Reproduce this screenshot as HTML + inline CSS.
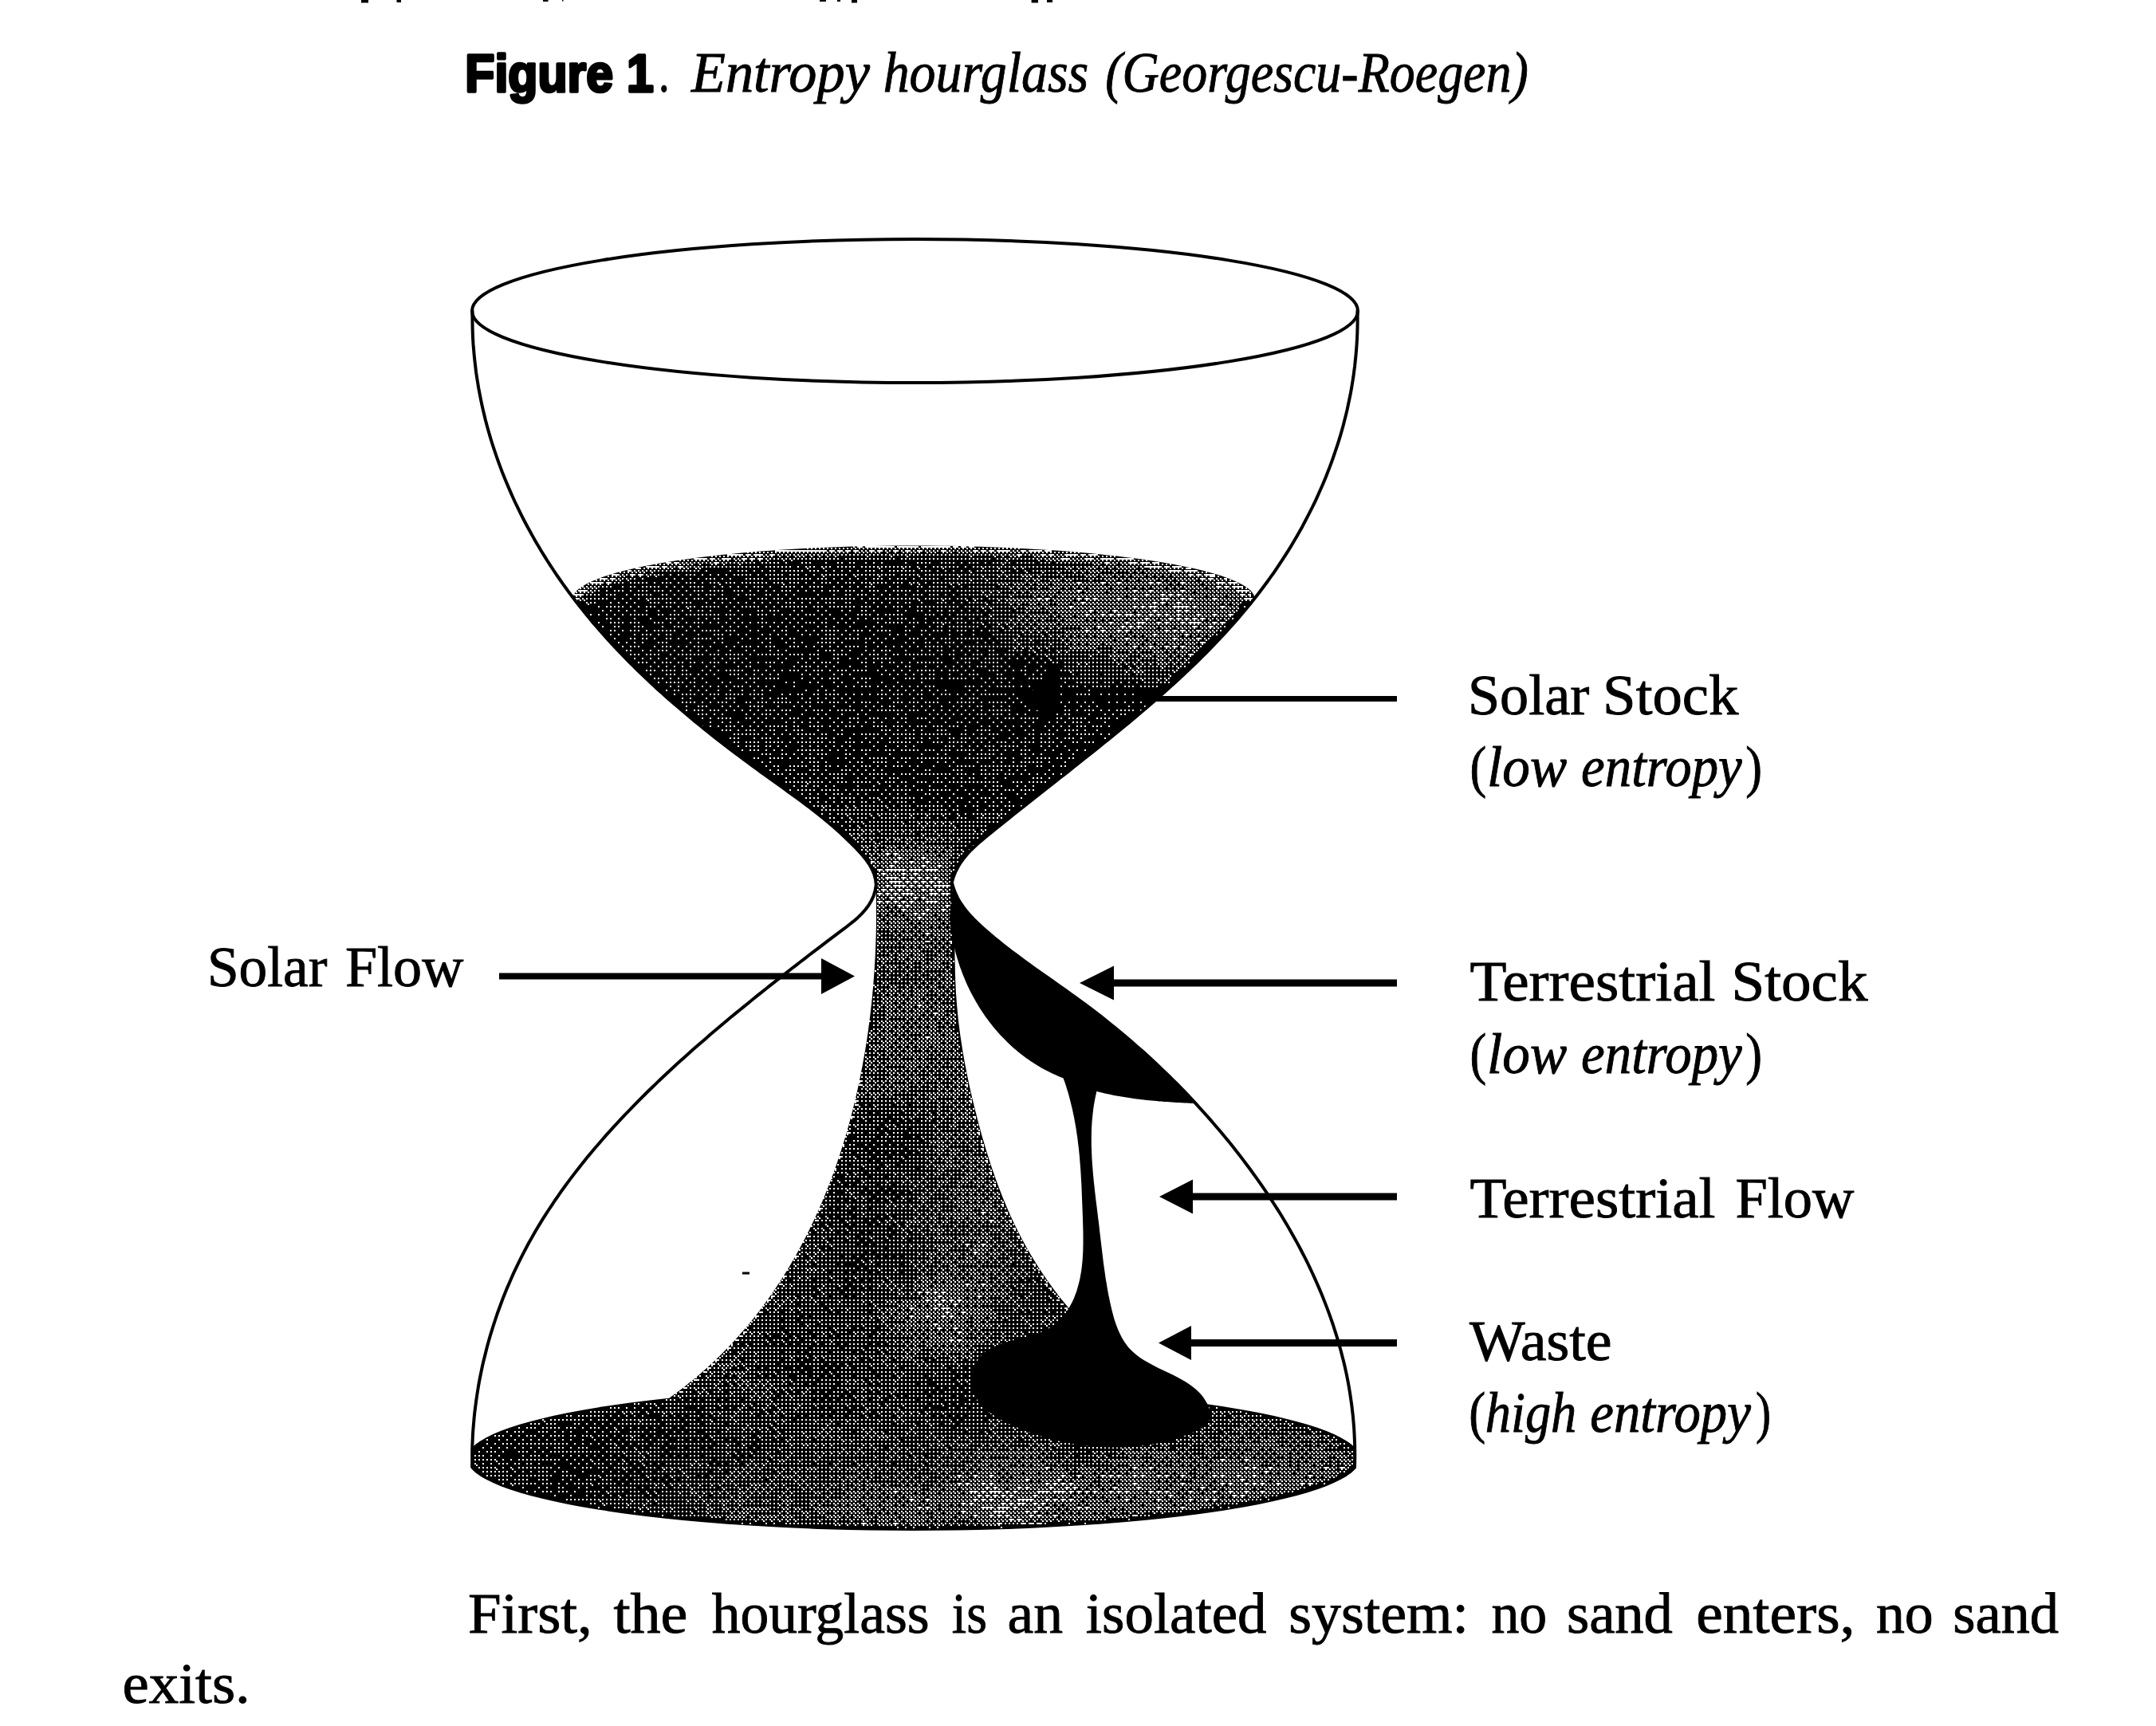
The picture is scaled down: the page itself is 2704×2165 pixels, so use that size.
<!DOCTYPE html><html><head><meta charset="utf-8"><title>Entropy hourglass</title><style>html,body{margin:0;padding:0;background:#fff}svg{display:block}text{fill:#000;white-space:pre}</style></head><body>
<svg width="2704" height="2165" viewBox="0 0 2704 2165">
<rect width="2704" height="2165" fill="#fff"/>
<clipPath id="g"><path d="M592.5 390 592.4 397 592.5 404 592.6 410.9 592.8 417.9 593.1 424.8 593.5 431.7 594.1 438.7 594.7 445.6 595.4 452.4 596.2 459.3 597 466.2 598 473 599.1 479.8 600.2 486.6 601.5 493.4 602.8 500.2 604.2 506.9 605.7 513.6 607.3 520.3 608.9 527 610.7 533.7 612.5 540.3 614.4 546.9 616.4 553.5 618.5 560.1 620.7 566.6 622.9 573.1 625.2 579.6 627.6 586.1 630 592.5 632.6 598.9 635.2 605.3 637.9 611.6 640.6 617.9 643.4 624.2 646.3 630.5 649.3 636.7 652.3 642.9 655.4 649.1 658.6 655.2 661.8 661.3 665.1 667.3 668.5 673.4 671.9 679.4 675.4 685.3 678.9 691.2 682.6 697.1 686.2 703 690 708.8 693.7 714.5 697.6 720.3 701.5 726 705.4 731.6 709.5 737.2 713.5 742.8 717.6 748.3 721.8 753.8 726 759.2 730.3 764.6 734.6 770 739 775.3 743.4 780.6 747.9 785.8 752.4 791 757 796.2 761.6 801.3 766.2 806.4 770.9 811.4 775.6 816.4 780.4 821.4 785.2 826.4 790.1 831.3 795 836.1 799.9 841 804.9 845.8 809.9 850.6 814.9 855.3 819.9 860 825 864.7 830.2 869.3 835.3 873.9 840.5 878.5 845.7 883.1 851 887.6 856.3 892.1 861.6 896.6 866.9 901 872.2 905.5 877.6 909.8 883 914.2 888.4 918.5 893.9 922.9 899.3 927.1 904.8 931.4 910.3 935.7 915.8 939.9 921.4 944.1 926.9 948.2 932.5 952.4 938 956.5 943.6 960.6 949.2 964.7 954.8 968.8 960.5 972.8 966.1 976.9 971.7 980.9 977.3 984.9 982.9 989 988.5 993 994.1 997.1 999.7 1001.1 1005.2 1005.2 1010.7 1009.4 1016.2 1013.5 1021.6 1017.7 1027 1022 1032.3 1026.3 1037.6 1030.6 1042.8 1035.1 1048 1039.5 1053.1 1044.1 1058.1 1048.7 1063.1 1053.5 1068 1058.3 1072.8 1063.2 1077.5 1068.2 1082 1073.3 1086.3 1078.6 1090.2 1084.1 1093.5 1090 1096.2 1096.2 1098 1102.9 1098.8 1110 1098.8 1110 1097.6 1117.2 1095.6 1123.8 1092.8 1129.9 1089.3 1135.7 1085.3 1141 1080.8 1146.1 1075.9 1150.9 1070.7 1155.4 1065.2 1159.8 1059.6 1164.2 1053.9 1168.4 1048.3 1172.6 1042.6 1176.9 1037 1181.1 1031.5 1185.3 1025.9 1189.6 1020.3 1193.8 1014.8 1198 1009.3 1202.3 1003.8 1206.5 998.3 1210.8 992.8 1215 987.3 1219.3 981.9 1223.6 976.4 1227.8 971 1232.1 965.5 1236.4 960.1 1240.8 954.6 1245.1 949.2 1249.4 943.8 1253.8 938.4 1258.2 933 1262.6 927.6 1267 922.2 1271.4 916.8 1275.8 911.5 1280.3 906.1 1284.8 900.8 1289.3 895.4 1293.8 890.1 1298.3 884.9 1302.9 879.6 1307.4 874.3 1312 869.1 1316.6 863.9 1321.3 858.7 1325.9 853.5 1330.6 848.3 1335.3 843.2 1340 838.1 1344.7 833 1349.5 827.9 1354.3 822.9 1359.1 817.9 1364 812.9 1368.8 807.9 1373.7 803 1378.7 798.1 1383.6 793.2 1388.6 788.4 1393.6 783.5 1398.6 778.8 1403.7 774 1408.8 769.3 1413.9 764.6 1419.1 760 1424.2 755.4 1429.5 750.9 1434.7 746.3 1440 741.9 1445.3 737.4 1450.6 733.1 1456 728.7 1461.4 724.4 1466.9 720.2 1472.4 716 1477.9 711.9 1483.4 707.8 1489 703.7 1494.6 699.8 1500.3 695.8 1506 692 1511.8 688.2 1517.5 684.4 1523.4 680.7 1529.2 677.1 1535.1 673.5 1541 670 1547 666.6 1553.1 663.2 1559.1 659.9 1565.2 656.7 1571.4 653.5 1577.6 650.4 1583.8 647.4 1590.1 644.4 1596.4 641.6 1602.8 638.8 1609.2 636 1615.6 633.4 1622.1 630.8 1628.6 628.3 1635.2 625.9 1641.7 623.5 1648.3 621.3 1655 619.1 1661.6 617 1668.3 614.9 1675.1 613 1681.8 611.1 1688.6 609.4 1695.4 607.7 1702.2 606 1709 604.5 1715.8 603.1 1722.7 601.7 1729.5 600.4 1736.4 599.3 1743.3 598.2 1750.2 597.2 1757.1 596.3 1764 595.4 1770.9 594.7 1777.8 594.1 1784.8 593.5 1791.7 593 1798.6 592.7 1805.5 592.4 1812.4 592.2 1819.3 592.2 1826.2 592.2 1833.1 592.3 1840 590.3 1836 590.3 1935 1701 1935 1701 1836 1699 1840 1699.2 1832.9 1699.3 1825.8 1699.2 1818.7 1699.1 1811.6 1698.8 1804.6 1698.5 1797.6 1698.1 1790.6 1697.5 1783.6 1696.9 1776.6 1696.1 1769.7 1695.3 1762.7 1694.3 1755.8 1693.3 1748.9 1692.2 1742.1 1691 1735.2 1689.7 1728.4 1688.3 1721.6 1686.8 1714.8 1685.2 1708.1 1683.5 1701.4 1681.8 1694.7 1679.9 1688 1678 1681.3 1676 1674.7 1673.9 1668.1 1671.8 1661.5 1669.5 1654.9 1667.2 1648.4 1664.8 1641.9 1662.3 1635.4 1659.8 1628.9 1657.2 1622.5 1654.5 1616.1 1651.7 1609.7 1648.9 1603.3 1646 1597 1643 1590.7 1640 1584.4 1636.9 1578.2 1633.7 1572 1630.5 1565.8 1627.2 1559.6 1623.8 1553.5 1620.4 1547.4 1616.9 1541.3 1613.4 1535.3 1609.8 1529.3 1606.2 1523.3 1602.5 1517.4 1598.7 1511.5 1594.9 1505.6 1591 1499.7 1587.1 1493.9 1583.2 1488.1 1579.2 1482.4 1575.1 1476.6 1571 1471 1566.9 1465.3 1562.7 1459.7 1558.5 1454.1 1554.2 1448.5 1549.9 1443 1545.6 1437.5 1541.2 1432.1 1536.8 1426.7 1532.3 1421.3 1527.8 1416 1523.3 1410.7 1518.7 1405.4 1514.1 1400.2 1509.5 1395 1504.8 1389.8 1500.1 1384.7 1495.4 1379.6 1490.6 1374.5 1485.8 1369.5 1480.9 1364.5 1476.1 1359.5 1471.1 1354.6 1466.2 1349.7 1461.2 1344.9 1456.2 1340.1 1451.1 1335.3 1446 1330.5 1440.9 1325.8 1435.8 1321.1 1430.6 1316.5 1425.3 1311.9 1420.1 1307.3 1414.8 1302.8 1409.5 1298.3 1404.1 1293.8 1398.7 1289.4 1393.3 1285 1387.8 1280.6 1382.3 1276.2 1376.8 1271.9 1371.3 1267.7 1365.7 1263.4 1360 1259.2 1354.4 1255.1 1348.7 1250.9 1343 1246.8 1337.3 1242.7 1331.5 1238.7 1325.8 1234.6 1320 1230.5 1314.3 1226.5 1308.5 1222.4 1302.8 1218.4 1297 1214.3 1291.3 1210.2 1285.7 1206.1 1280 1201.9 1274.4 1197.7 1268.8 1193.5 1263.3 1189.3 1257.8 1185 1252.4 1180.6 1247 1176.2 1241.8 1171.7 1236.5 1167.2 1231.4 1162.6 1226.3 1157.9 1221.4 1153.1 1216.7 1148.2 1212.3 1143.1 1208.2 1137.7 1204.4 1132.2 1201 1126.4 1198.1 1120.2 1195.7 1113.8 1193.8 1107 1193.8 1107 1195.7 1100.2 1198.2 1093.8 1201.3 1087.8 1204.8 1082 1208.7 1076.6 1213 1071.5 1217.6 1066.5 1222.5 1061.8 1227.6 1057.1 1232.9 1052.7 1238.2 1048.2 1243.6 1043.9 1249 1039.5 1254.4 1035.2 1259.7 1030.9 1265.1 1026.6 1270.5 1022.3 1275.9 1018 1281.3 1013.7 1286.7 1009.5 1292.1 1005.2 1297.4 1001 1302.8 996.7 1308.2 992.5 1313.6 988.2 1319 984 1324.4 979.8 1329.7 975.5 1335.1 971.3 1340.5 967.1 1345.9 962.8 1351.3 958.5 1356.6 954.3 1362 950 1367.4 945.7 1372.8 941.4 1378.1 937.1 1383.5 932.8 1388.9 928.5 1394.2 924.1 1399.6 919.8 1404.9 915.4 1410.3 911 1415.6 906.6 1420.9 902.2 1426.2 897.7 1431.5 893.2 1436.8 888.8 1442 884.2 1447.3 879.7 1452.5 875.2 1457.7 870.6 1462.8 866 1468 861.4 1473.1 856.7 1478.2 852 1483.3 847.3 1488.3 842.6 1493.3 837.8 1498.3 833.1 1503.2 828.2 1508.1 823.4 1513 818.5 1517.8 813.6 1522.6 808.6 1527.4 803.7 1532.1 798.7 1536.8 793.6 1541.4 788.5 1546 783.4 1550.6 778.2 1555.1 773 1559.5 767.8 1563.9 762.5 1568.3 757.2 1572.6 751.8 1576.8 746.4 1581 741 1585.1 735.5 1589.2 730 1593.2 724.4 1597.2 718.8 1601.1 713.1 1604.9 707.4 1608.7 701.7 1612.4 695.9 1616.1 690.1 1619.7 684.2 1623.2 678.3 1626.6 672.4 1630 666.4 1633.4 660.4 1636.6 654.3 1639.8 648.2 1642.9 642.1 1646 636 1649 629.8 1651.9 623.6 1654.7 617.3 1657.5 611 1660.2 604.7 1662.8 598.4 1665.3 592 1667.8 585.6 1670.2 579.1 1672.5 572.7 1674.7 566.2 1676.9 559.7 1679 553.1 1681 546.6 1682.9 540 1684.7 533.4 1686.4 526.7 1688.1 520.1 1689.7 513.4 1691.1 506.7 1692.5 500 1693.9 493.2 1695.1 486.5 1696.2 479.7 1697.3 472.9 1698.2 466 1699.1 459.2 1699.8 452.3 1700.5 445.5 1701.1 438.6 1701.6 431.7 1702 424.8 1702.3 417.8 1702.5 410.9 1702.6 403.9 1702.6 397 1702.5 390Z"/></clipPath>
<g fill="#000" clip-path="url(#g)">
<path d="M718.5 751 718.7 748.9 719.4 746.8 720.4 744.7 721.9 742.6 723.8 740.5 726.1 738.5 728.9 736.4 732.1 734.4 735.6 732.4 739.6 730.4 744 728.4 748.8 726.4 754 724.5 759.6 722.6 765.6 720.7 771.9 718.8 778.6 717 785.7 715.2 793.1 713.5 800.9 711.7 809.1 710.1 817.6 708.4 826.4 706.8 835.5 705.3 844.9 703.8 854.6 702.3 864.7 700.9 875 699.6 885.5 698.3 896.4 697 907.4 695.8 918.8 694.7 930.3 693.6 942.1 692.6 954 691.6 966.2 690.7 978.5 689.8 991 689 1003.7 688.3 1016.5 687.6 1029.4 687 1042.4 686.5 1055.6 686 1068.8 685.6 1082.1 685.2 1095.5 685 1108.9 684.8 1122.4 684.6 1135.9 684.5 1149.4 684.5 1162.9 684.6 1176.3 684.7 1189.8 684.8 1203.2 685.1 1216.5 685.4 1229.8 685.8 1243 686.2 1256.1 686.7 1269.1 687.3 1281.9 688 1294.7 688.7 1307.3 689.4 1319.7 690.2 1331.9 691.1 1344 692.1 1355.8 693.1 1367.5 694.1 1378.9 695.2 1390.1 696.4 1401.1 697.6 1411.8 698.9 1422.2 700.2 1432.4 701.6 1442.3 703.1 1451.8 704.5 1461.1 706.1 1470.1 707.6 1478.7 709.2 1487 710.9 1495 712.6 1502.6 714.3 1509.9 716.1 1516.8 717.9 1523.3 719.7 1529.5 721.6 1535.2 723.5 1540.6 725.4 1545.6 727.4 1550.2 729.4 1554.4 731.4 1558.2 733.4 1561.6 735.4 1564.5 737.4 1567.1 739.5 1569.2 741.6 1570.9 743.7 1572.2 745.8 1573 747.9 1573.4 750 1572.6 751.8 1569.7 755.4 1566.8 759 1563.9 762.5 1561 766 1558 769.5 1555.1 773 1552.1 776.5 1549.1 780 1546 783.4 1543 786.8 1539.9 790.2 1536.8 793.6 1533.7 797 1530.6 800.3 1527.4 803.7 1524.2 807 1521 810.3 1517.8 813.6 1514.6 816.9 1511.4 820.1 1508.1 823.4 1504.9 826.6 1501.6 829.8 1498.3 833.1 1495 836.3 1491.6 839.4 1488.3 842.6 1484.9 845.8 1481.6 848.9 1478.2 852 1474.8 855.2 1471.4 858.3 1468 861.4 1464.5 864.5 1461.1 867.5 1457.7 870.6 1454.2 873.6 1450.7 876.7 1447.3 879.7 1443.8 882.7 1440.3 885.8 1436.8 888.8 1433.3 891.8 1429.7 894.7 1426.2 897.7 1422.7 900.7 1419.1 903.6 1415.6 906.6 1412.1 909.5 1408.5 912.5 1404.9 915.4 1401.4 918.3 1397.8 921.2 1394.2 924.1 1390.7 927 1387.1 929.9 1383.5 932.8 1379.9 935.7 1376.3 938.6 1372.8 941.4 1369.2 944.3 1365.6 947.2 1362 950 1358.4 952.9 1354.8 955.7 1351.3 958.5 1347.7 961.4 1344.1 964.2 1340.5 967.1 1336.9 969.9 1333.3 972.7 1329.7 975.5 1326.1 978.4 1322.6 981.2 1319 984 1315.4 986.8 1311.8 989.7 1308.2 992.5 1304.6 995.3 1301 998.1 1297.4 1001 1293.9 1003.8 1290.3 1006.6 1286.7 1009.5 1283.1 1012.3 1279.5 1015.2 1275.9 1018 1272.3 1020.9 1268.7 1023.7 1265.1 1026.6 1261.5 1029.4 1258 1032.3 1254.4 1035.2 1250.8 1038.1 1247.2 1041 1243.6 1043.9 1240 1046.8 1236.4 1049.7 1232.9 1052.7 1229.4 1055.6 1225.9 1058.7 1222.5 1061.8 1219.2 1064.9 1216.1 1068.1 1213 1071.5 1210.1 1074.9 1207.3 1078.4 1204.8 1082 1202.4 1085.8 1200.2 1089.7 1198.2 1093.8 1196.5 1098 1195 1102.4 1193.8 1107 1098.6 1107.6 1098 1102.9 1096.9 1098.4 1095.4 1094.1 1093.5 1090 1091.4 1086 1089 1082.2 1086.3 1078.6 1083.5 1075 1080.5 1071.6 1077.5 1068.2 1074.4 1064.8 1071.2 1061.5 1068 1058.3 1064.7 1055 1061.5 1051.9 1058.1 1048.7 1054.8 1045.6 1051.4 1042.6 1048 1039.5 1044.6 1036.6 1041.1 1033.6 1037.6 1030.6 1034.1 1027.7 1030.6 1024.8 1027 1022 1023.4 1019.1 1019.8 1016.3 1016.2 1013.5 1012.5 1010.8 1008.9 1008 1005.2 1005.2 1001.5 1002.5 997.8 999.8 994.1 997.1 990.4 994.4 986.7 991.7 982.9 989 979.2 986.3 975.5 983.6 971.7 980.9 968 978.2 964.2 975.5 960.5 972.8 956.7 970.1 953 967.4 949.2 964.7 945.5 962 941.8 959.3 938 956.5 934.3 953.8 930.6 951 926.9 948.2 923.2 945.5 919.5 942.7 915.8 939.9 912.1 937.1 908.5 934.2 904.8 931.4 901.2 928.6 897.5 925.7 893.9 922.9 890.2 920 886.6 917.1 883 914.2 879.4 911.3 875.8 908.4 872.2 905.5 868.7 902.5 865.1 899.6 861.6 896.6 858 893.6 854.5 890.6 851 887.6 847.5 884.6 844 881.6 840.5 878.5 837.1 875.5 833.6 872.4 830.2 869.3 826.8 866.2 823.3 863.1 819.9 860 816.6 856.9 813.2 853.7 809.9 850.6 806.5 847.4 803.2 844.2 799.9 841 796.6 837.8 793.3 834.5 790.1 831.3 786.8 828 783.6 824.7 780.4 821.4 777.2 818.1 774.1 814.8 770.9 811.4 767.8 808.1 764.7 804.7 761.6 801.3 758.5 797.9 755.5 794.4 752.4 791 749.4 787.5 746.4 784.1 743.4 780.6 740.5 777 737.6 773.5 734.6 770 731.8 766.4 728.9 762.8 726 759.2 723.2 755.6 720.4 751.9Z"/>
<path d="M1098.5 1110 1098.6 1114.7 1098.7 1119.5 1098.8 1124.2 1098.9 1129 1099 1133.7 1099 1138.5 1099 1143.3 1099 1148 1099 1152.8 1098.9 1157.6 1098.9 1162.4 1098.8 1167.2 1098.7 1172 1098.5 1176.8 1098.4 1181.7 1098.2 1186.5 1098 1191.3 1097.8 1196.1 1097.6 1201 1097.3 1205.8 1097 1210.7 1096.7 1215.5 1096.4 1220.3 1096 1225.2 1095.7 1230 1095.3 1234.9 1094.9 1239.8 1094.4 1244.6 1094 1249.5 1093.5 1254.3 1093 1259.2 1092.4 1264 1091.9 1268.9 1091.3 1273.7 1090.7 1278.6 1090.1 1283.4 1089.4 1288.3 1088.8 1293.2 1088.1 1298 1087.4 1302.8 1086.6 1307.7 1085.9 1312.5 1085.1 1317.4 1084.2 1322.2 1083.4 1327 1082.5 1331.8 1081.7 1336.7 1080.7 1341.5 1079.8 1346.3 1078.8 1351.1 1077.8 1355.9 1076.8 1360.7 1075.8 1365.5 1074.7 1370.3 1073.6 1375 1072.5 1379.8 1071.4 1384.6 1070.2 1389.3 1069 1394.1 1067.8 1398.8 1066.5 1403.5 1065.3 1408.3 1064 1413 1062.6 1417.7 1061.3 1422.4 1059.9 1427 1058.5 1431.7 1057 1436.4 1055.6 1441 1054.1 1445.7 1052.6 1450.3 1051 1454.9 1049.5 1459.5 1047.9 1464.1 1046.2 1468.7 1044.6 1473.3 1042.9 1477.8 1041.2 1482.4 1039.4 1486.9 1037.6 1491.4 1035.8 1495.9 1034 1500.4 1032.2 1504.9 1030.3 1509.3 1028.3 1513.8 1026.4 1518.2 1024.4 1522.6 1022.4 1527 1020.4 1531.4 1018.3 1535.8 1016.2 1540.1 1014.1 1544.4 1011.9 1548.7 1009.8 1553 1007.5 1557.3 1005.3 1561.6 1003 1565.8 1000.7 1570 998.4 1574.2 996 1578.4 993.6 1582.6 991.2 1586.7 988.7 1590.8 986.2 1594.9 983.7 1599 981.1 1603.1 978.5 1607.1 975.9 1611.1 973.3 1615.1 970.6 1619.1 967.9 1623 965.1 1626.9 962.3 1630.8 959.5 1634.7 956.7 1638.6 953.8 1642.4 950.9 1646.2 947.9 1650 945 1653.7 942 1657.5 938.9 1661.2 935.8 1664.9 932.7 1668.5 929.6 1672.1 926.4 1675.7 923.2 1679.3 919.9 1682.9 916.6 1686.4 913.3 1689.9 910 1693.3 906.6 1696.8 903.2 1700.2 899.7 1703.5 896.2 1706.9 892.7 1710.2 889.1 1713.5 885.6 1716.7 881.9 1720 878.3 1723.2 874.6 1726.3 870.8 1729.5 867 1732.6 863.2 1735.6 859.4 1738.7 855.5 1741.7 851.6 1744.7 847.6 1747.6 843.7 1750.5 839.6 1753.4 840 1840 1520 1764 1514.9 1762.3 1509.9 1760.5 1504.8 1758.7 1499.9 1756.8 1494.9 1754.8 1490 1752.8 1485.2 1750.7 1480.4 1748.5 1475.6 1746.3 1470.8 1744 1466.1 1741.6 1461.5 1739.2 1456.9 1736.7 1452.3 1734.2 1447.7 1731.6 1443.2 1728.9 1438.8 1726.2 1434.3 1723.4 1430 1720.6 1425.6 1717.7 1421.3 1714.8 1417.1 1711.8 1412.8 1708.7 1408.7 1705.6 1404.5 1702.4 1400.4 1699.2 1396.4 1695.9 1392.3 1692.6 1388.4 1689.2 1384.4 1685.7 1380.5 1682.2 1376.7 1678.7 1372.8 1675.1 1369.1 1671.5 1365.3 1667.8 1361.6 1664.1 1358 1660.3 1354.4 1656.4 1350.8 1652.6 1347.3 1648.7 1343.8 1644.7 1340.3 1640.7 1336.9 1636.6 1333.5 1632.5 1330.2 1628.4 1326.9 1624.2 1323.7 1620 1320.5 1615.8 1317.4 1611.5 1314.3 1607.2 1311.3 1602.8 1308.3 1598.4 1305.3 1594 1302.4 1589.6 1299.6 1585.1 1296.8 1580.6 1294.1 1576.1 1291.4 1571.6 1288.8 1567 1286.2 1562.4 1283.7 1557.8 1281.2 1553.2 1278.8 1548.5 1276.4 1543.8 1274.1 1539.2 1271.8 1534.4 1269.6 1529.7 1267.4 1525 1265.3 1520.2 1263.2 1515.4 1261.2 1510.6 1259.2 1505.8 1257.2 1501 1255.3 1496.1 1253.4 1491.2 1251.6 1486.4 1249.8 1481.5 1248 1476.5 1246.3 1471.6 1244.6 1466.7 1242.9 1461.7 1241.3 1456.8 1239.7 1451.8 1238.1 1446.8 1236.6 1441.8 1235.1 1436.8 1233.6 1431.7 1232.1 1426.7 1230.7 1421.7 1229.3 1416.6 1227.9 1411.5 1226.6 1406.5 1225.3 1401.4 1224 1396.3 1222.7 1391.2 1221.4 1386.1 1220.2 1381 1219 1375.9 1217.8 1370.7 1216.6 1365.6 1215.5 1360.5 1214.4 1355.3 1213.3 1350.2 1212.3 1345 1211.3 1339.8 1210.3 1334.7 1209.3 1329.5 1208.4 1324.3 1207.5 1319.1 1206.7 1313.9 1205.9 1308.7 1205.1 1303.5 1204.3 1298.3 1203.6 1293.1 1203 1287.9 1202.3 1282.7 1201.7 1277.5 1201.2 1272.3 1200.7 1267 1200.2 1261.8 1199.8 1256.6 1199.4 1251.3 1199 1246.1 1198.7 1240.9 1198.5 1235.6 1198.2 1230.4 1198.1 1225.1 1197.9 1219.9 1197.8 1214.6 1197.7 1209.4 1197.6 1204.1 1197.5 1198.9 1197.5 1193.6 1197.4 1188.4 1197.3 1183.1 1197.3 1177.9 1197.2 1172.6 1197.1 1167.4 1197 1162.1 1196.9 1156.8 1196.8 1151.6 1196.6 1146.3 1196.4 1141.1 1196.1 1135.8 1195.8 1130.6 1195.5 1125.3 1195.1 1120.1 1194.6 1114.9 1194.1 1109.6Z"/>
<rect x="1100" y="1098" width="93" height="20"/>
<ellipse cx="1145.7" cy="1829.5" rx="560" ry="90.5"/>
</g>
<path shape-rendering="crispEdges" fill="none" stroke="#fff" stroke-width="2" d="M1070 686h2m3 0h7m3 0h37m3 0h27m3 0h37m3 0h7m3 0h7m3 0h7M1012 688h2m3 0h2m3 0h2m3 0h2m3 0h2m3 0h2m3 0h2m3 0h2m3 0h2m3 0h2m3 0h2m3 0h2m3 0h2m3 0h2m3 0h2m3 0h2m3 0h2m3 0h2m3 0h2m3 0h2m3 0h2m3 0h2m3 0h2m3 0h2m3 0h2m3 0h2m3 0h2m3 0h2m3 0h2m3 0h2m3 0h2m3 0h2m3 0h2m3 0h2m3 0h2m3 0h2m3 0h2m3 0h2m3 0h2m3 0h2m3 0h2m3 0h2m3 0h2m3 0h2m3 0h2m3 0h2m3 0h2m3 0h2m3 0h2m3 0h2m3 0h2m3 0h2m3 0h2m3 0h2M972 691h65m3 0h7m3 0h7m3 0h7m3 0h7m3 0h2m3 0h2m3 0h7m3 0h7m3 0h2m3 0h2m3 0h7m3 0h2m3 0h7m3 0h2m3 0h7m3 0h2m3 0h2m3 0h2m3 0h2m3 0h7m3 0h2m3 0h2m3 0h2m3 0h2m3 0h2m3 0h2m3 0h7m3 0h7m3 0h7m3 0h17m3 0h2m3 0h2m3 0h7m3 0h17m3 0h9M937 693h2m3 0h2m3 0h2m3 0h2m3 0h2m3 0h2m3 0h2m3 0h2m3 0h2m3 0h2m3 0h2m3 0h2m3 0h2m3 0h2m3 0h2m3 0h2m3 0h2m3 0h2m3 0h2m3 0h2m3 0h2m3 0h2m3 0h2m3 0h2m3 0h2m3 0h2m8 0h2m3 0h2m3 0h2m3 0h2m3 0h2m3 0h2m3 0h2m8 0h2m8 0h2m8 0h2m3 0h2m3 0h2m3 0h2m3 0h2m8 0h2m3 0h2m3 0h2m8 0h2m3 0h2m3 0h2m8 0h2m3 0h2m3 0h2m3 0h2m3 0h2m3 0h2m3 0h2m3 0h2m3 0h2m3 0h2m3 0h2m3 0h2m3 0h2m3 0h2m3 0h2m3 0h2m3 0h2m3 0h2m3 0h2m3 0h2m3 0h2m3 0h2m3 0h2m3 0h2m3 0h2m3 0h2m3 0h2m3 0h2m3 0h2m3 0h2m3 0h2M912 696h20m3 0h7m3 0h12m3 0h2m3 0h7m3 0h2m3 0h2m3 0h2m3 0h2m3 0h2m3 0h2m3 0h2m3 0h2m3 0h2m3 0h2m3 0h2m3 0h2m3 0h2m3 0h2m3 0h2m3 0h2m3 0h2m3 0h2m3 0h2m3 0h2m3 0h2m3 0h2m3 0h2m3 0h2m3 0h2m3 0h2m3 0h2m3 0h2m3 0h2m3 0h2m3 0h2m3 0h2m3 0h2m3 0h2m3 0h2m3 0h2m3 0h2m3 0h2m3 0h2m3 0h2m3 0h2m3 0h2m3 0h2m3 0h2m3 0h2m3 0h2m3 0h2m3 0h2m3 0h2m3 0h2m3 0h2m3 0h2m3 0h2m3 0h2m3 0h2m3 0h2m3 0h2m3 0h2m3 0h2m3 0h2m3 0h7m3 0h2m3 0h2m3 0h2m3 0h2m3 0h7m3 0h7m3 0h2m3 0h2m3 0h17m3 0h7m3 0h12M892 698h2m3 0h2m3 0h2m3 0h2m3 0h2m3 0h2m3 0h2m3 0h2m3 0h2m3 0h2m3 0h2m3 0h2m3 0h2m3 0h2m3 0h2m3 0h2m8 0h2m8 0h2m8 0h2m3 0h2m3 0h2m8 0h2m8 0h2m8 0h2m8 0h2m38 0h2m28 0h2m18 0h2m78 0h2m28 0h2m8 0h2m8 0h2m3 0h2m3 0h2m18 0h2m3 0h2m3 0h2m3 0h2m3 0h2m3 0h2m3 0h2m3 0h2m3 0h2m3 0h2m3 0h2m3 0h2m3 0h2m3 0h2m3 0h2m3 0h2m3 0h2m3 0h2m3 0h2m3 0h2m3 0h2M870 701h17m3 0h7m3 0h2m3 0h12m3 0h2m3 0h2m3 0h7m3 0h7m3 0h7m3 0h2m3 0h2m3 0h2m3 0h2m3 0h2m3 0h2m3 0h2m3 0h2m3 0h2m3 0h2m3 0h2m3 0h2m3 0h2m3 0h2m3 0h2m3 0h2m3 0h2m3 0h2m3 0h2m8 0h2m3 0h2m3 0h2m3 0h2m3 0h2m3 0h2m3 0h2m3 0h2m3 0h2m3 0h2m3 0h2m3 0h2m3 0h2m8 0h2m3 0h2m3 0h2m3 0h2m3 0h2m3 0h2m3 0h2m3 0h2m3 0h2m3 0h2m3 0h2m3 0h2m3 0h2m3 0h2m3 0h2m3 0h2m3 0h2m3 0h2m3 0h2m3 0h2m3 0h2m3 0h2m3 0h2m8 0h2m3 0h2m3 0h2m3 0h2m3 0h2m3 0h2m3 0h2m3 0h2m3 0h2m3 0h2m3 0h2m3 0h2m3 0h2m3 0h2m3 0h2m3 0h2m3 0h12m3 0h2m3 0h2m3 0h2m3 0h12m3 0h2m3 0h17m3 0h22M852 703h2m3 0h2m3 0h2m3 0h2m3 0h2m3 0h2m3 0h2m3 0h2m3 0h2m3 0h2m3 0h2m3 0h2m3 0h2m8 0h2m3 0h2m3 0h2m8 0h2m8 0h2m8 0h2m18 0h2m8 0h2m268 0h2m38 0h2m8 0h2m3 0h2m3 0h2m3 0h2m3 0h2m3 0h2m3 0h2m3 0h2m3 0h2m3 0h2m3 0h2m3 0h2m3 0h2m3 0h2m3 0h2m3 0h2m3 0h2m3 0h2m3 0h2m3 0h2m3 0h2m3 0h2m3 0h2m3 0h2m3 0h2m3 0h2M835 706h7m3 0h7m3 0h2m3 0h2m3 0h2m3 0h2m3 0h2m3 0h2m3 0h2m3 0h2m3 0h7m3 0h2m3 0h2m3 0h2m3 0h2m3 0h2m3 0h2m3 0h2m3 0h2m3 0h2m8 0h2m3 0h2m3 0h2m3 0h2m3 0h2m8 0h2m18 0h2m3 0h2m3 0h2m18 0h2m13 0h2m3 0h2m8 0h2m3 0h2m13 0h2m8 0h2m8 0h2m28 0h2m13 0h2m3 0h2m3 0h2m3 0h2m13 0h2m3 0h2m3 0h2m3 0h2m8 0h2m8 0h2m3 0h2m3 0h2m8 0h2m8 0h2m3 0h2m3 0h2m3 0h2m3 0h2m8 0h2m3 0h2m3 0h2m3 0h2m3 0h2m8 0h2m3 0h2m3 0h2m8 0h2m3 0h2m3 0h2m3 0h2m3 0h2m3 0h2m3 0h2m3 0h2m3 0h2m3 0h2m3 0h2m3 0h2m3 0h7m3 0h2m3 0h2m3 0h2m3 0h2m3 0h12m3 0h12m3 0h9M822 708h2m3 0h2m3 0h2m3 0h2m3 0h2m3 0h2m3 0h2m3 0h2m3 0h2m3 0h2m8 0h2m13 0h2m3 0h2m8 0h2m18 0h2m328 0h2m113 0h2m3 0h2m8 0h2m3 0h2m3 0h2m8 0h2m3 0h2m3 0h2m3 0h2m3 0h2m3 0h2m3 0h2m3 0h2m3 0h2m3 0h2m3 0h2m3 0h2m3 0h2M810 711h17m3 0h7m3 0h2m3 0h2m3 0h7m3 0h2m3 0h2m3 0h2m3 0h2m3 0h2m3 0h2m3 0h2m3 0h2m3 0h2m3 0h2m3 0h2m3 0h2m3 0h2m3 0h2m3 0h2m3 0h2m3 0h2m3 0h2m3 0h2m8 0h2m3 0h2m3 0h2m3 0h2m3 0h2m3 0h2m3 0h2m8 0h2m8 0h2m3 0h2m3 0h2m8 0h2m3 0h2m3 0h2m8 0h2m3 0h2m3 0h2m3 0h2m3 0h2m8 0h2m3 0h2m3 0h2m3 0h2m3 0h2m3 0h2m3 0h2m3 0h2m3 0h2m3 0h2m3 0h2m3 0h2m3 0h2m8 0h2m8 0h2m8 0h2m3 0h2m3 0h2m3 0h2m3 0h2m3 0h2m3 0h2m8 0h2m8 0h2m3 0h2m3 0h2m3 0h2m3 0h2m3 0h2m3 0h2m3 0h2m3 0h2m3 0h2m3 0h2m3 0h2m3 0h2m3 0h2m3 0h2m3 0h2m3 0h2m3 0h2m3 0h2m3 0h2m3 0h2m3 0h2m3 0h2m3 0h2m3 0h2m3 0h2m3 0h2m3 0h2m3 0h2m3 0h2m3 0h2m3 0h2m3 0h2m3 0h2m3 0h2m3 0h2m3 0h2m3 0h2m3 0h2m3 0h2m3 0h2m3 0h2m3 0h2m3 0h22m3 0h7m3 0h12M797 713h7m3 0h2m3 0h2m3 0h2m3 0h2m3 0h2m3 0h2m3 0h2m3 0h2m8 0h2m3 0h2m3 0h2m8 0h2m3 0h2m133 0h2m18 0h2m68 0h2m28 0h2m18 0h2m28 0h2m48 0h2m18 0h2m18 0h2m8 0h2m53 0h2m3 0h2m8 0h2m8 0h2m3 0h2m3 0h2m8 0h2m8 0h2m8 0h2m3 0h2m3 0h2m3 0h2m3 0h2m8 0h2m8 0h2m3 0h2m3 0h2m3 0h2m3 0h2m3 0h2m3 0h2m3 0h2m3 0h2m3 0h7M787 716h5m3 0h2m3 0h2m3 0h2m3 0h2m3 0h2m3 0h2m3 0h2m3 0h2m3 0h2m3 0h2m3 0h2m3 0h2m3 0h2m3 0h2m3 0h2m3 0h2m3 0h2m8 0h2m28 0h2m8 0h2m3 0h2m3 0h2m8 0h2m8 0h2m8 0h2m3 0h2m8 0h2m3 0h2m3 0h2m3 0h2m3 0h2m3 0h2m8 0h2m3 0h2m3 0h2m8 0h2m8 0h2m8 0h2m8 0h2m8 0h2m8 0h2m3 0h2m3 0h2m8 0h2m8 0h2m3 0h2m3 0h2m3 0h2m3 0h2m3 0h2m3 0h2m8 0h2m3 0h2m3 0h2m8 0h2m8 0h2m8 0h2m8 0h2m8 0h2m8 0h2m3 0h2m3 0h2m3 0h2m3 0h2m3 0h2m3 0h2m3 0h2m3 0h2m8 0h2m8 0h2m8 0h2m3 0h2m3 0h2m3 0h2m3 0h2m3 0h2m3 0h2m3 0h2m3 0h2m3 0h2m3 0h2m3 0h2m3 0h2m3 0h2m3 0h2m3 0h2m3 0h2m3 0h2m3 0h2m3 0h2m3 0h2m3 0h2m3 0h2m3 0h2m3 0h2m3 0h2m3 0h2m3 0h2m3 0h2m3 0h2m3 0h2m3 0h2m3 0h2m3 0h2m3 0h17m3 0h17M777 718h2m3 0h2m3 0h2m3 0h2m3 0h2m3 0h2m3 0h2m8 0h2m398 0h2m38 0h2m28 0h2m18 0h2m18 0h2m18 0h2m8 0h2m8 0h2m3 0h2m3 0h2m18 0h2m18 0h2m8 0h2m8 0h2m3 0h2m3 0h2m3 0h2m3 0h2m3 0h2m3 0h2m3 0h2m3 0h2m3 0h2m3 0h2m3 0h2m3 0h2m3 0h2m3 0h2m3 0h2M767 721h10m3 0h2m3 0h2m3 0h7m3 0h7m3 0h2m3 0h2m3 0h2m3 0h2m3 0h2m8 0h2m8 0h2m8 0h2m3 0h2m3 0h2m8 0h2m8 0h2m8 0h2m8 0h2m8 0h2m3 0h2m3 0h2m3 0h2m3 0h2m8 0h2m8 0h2m3 0h2m3 0h2m3 0h2m3 0h2m8 0h2m3 0h2m3 0h2m8 0h2m8 0h2m8 0h2m3 0h2m3 0h2m3 0h2m3 0h2m3 0h2m3 0h2m8 0h2m3 0h2m3 0h2m3 0h2m3 0h2m3 0h2m3 0h2m3 0h2m3 0h2m3 0h2m3 0h2m8 0h2m3 0h2m3 0h2m3 0h2m3 0h2m8 0h2m3 0h2m3 0h2m3 0h2m3 0h2m3 0h2m3 0h2m3 0h2m3 0h2m3 0h2m3 0h2m3 0h2m3 0h2m3 0h2m3 0h2m3 0h2m3 0h2m3 0h2m3 0h2m3 0h2m3 0h2m3 0h2m3 0h2m3 0h2m3 0h2m3 0h2m3 0h2m3 0h2m3 0h2m3 0h2m3 0h2m3 0h2m3 0h2m3 0h2m3 0h2m3 0h2m3 0h2m3 0h2m3 0h2m3 0h2m3 0h2m3 0h2m3 0h2m3 0h2m3 0h2m3 0h2m3 0h2m3 0h2m3 0h2m3 0h2m3 0h2m3 0h2m3 0h2m3 0h2m3 0h2m3 0h2m3 0h2m3 0h2m3 0h2m3 0h2m3 0h2m3 0h2m3 0h2m3 0h2m3 0h2m3 0h2m3 0h7m3 0h7m3 0h14M762 723h2m3 0h2m3 0h2m3 0h2m3 0h2m8 0h2m8 0h2m8 0h2m8 0h2m208 0h2m38 0h2m28 0h2m48 0h2m48 0h2m28 0h2m18 0h2m8 0h2m18 0h2m3 0h2m3 0h2m8 0h2m28 0h2m28 0h2m3 0h2m3 0h2m8 0h2m3 0h2m3 0h2m8 0h2m8 0h2m8 0h2m3 0h2m3 0h2m8 0h2m8 0h2m8 0h2m8 0h2m3 0h2m3 0h2m3 0h2m3 0h2m3 0h2m3 0h2m3 0h2m3 0h2m3 0h7m3 0h2M752 726h10m3 0h7m3 0h2m3 0h2m3 0h2m3 0h2m3 0h2m8 0h2m28 0h2m8 0h2m8 0h2m8 0h2m8 0h2m8 0h2m3 0h2m3 0h2m8 0h2m8 0h2m18 0h2m3 0h2m3 0h2m3 0h2m3 0h2m8 0h2m3 0h2m3 0h2m3 0h2m3 0h2m3 0h2m3 0h2m3 0h2m3 0h2m3 0h2m3 0h2m8 0h2m3 0h2m3 0h2m8 0h2m8 0h2m8 0h2m8 0h2m8 0h2m8 0h2m3 0h2m3 0h2m8 0h2m8 0h2m3 0h2m3 0h2m8 0h2m8 0h2m3 0h2m3 0h2m3 0h2m3 0h2m8 0h2m3 0h2m3 0h2m3 0h2m3 0h2m3 0h2m3 0h2m3 0h2m3 0h2m3 0h2m3 0h2m3 0h2m3 0h2m3 0h2m3 0h2m3 0h2m3 0h2m3 0h2m3 0h2m3 0h2m3 0h2m3 0h2m3 0h2m3 0h2m3 0h2m3 0h2m3 0h2m3 0h2m3 0h2m3 0h2m3 0h2m3 0h2m3 0h2m3 0h2m3 0h2m3 0h2m3 0h2m3 0h2m3 0h2m3 0h2m3 0h2m3 0h2m3 0h2m3 0h2m3 0h2m3 0h2m3 0h2m3 0h2m3 0h2m3 0h2m3 0h2m3 0h2m3 0h2m3 0h2m3 0h2m3 0h2m3 0h2m3 0h2m3 0h2m3 0h2m3 0h2m3 0h2m3 0h2m3 0h2m3 0h7m3 0h7m3 0h2m3 0h2m3 0h4M747 728h2m3 0h2m3 0h2m3 0h2m3 0h2m3 0h2m3 0h2m8 0h2m428 0h2m18 0h2m48 0h2m8 0h2m3 0h2m13 0h2m3 0h2m3 0h2m8 0h2m3 0h2m23 0h2m18 0h2m3 0h2m3 0h2m8 0h2m8 0h2m3 0h2m8 0h2m3 0h2m3 0h2m3 0h2m8 0h2m8 0h2m8 0h2m3 0h2m3 0h2m3 0h2m3 0h2m8 0h2m3 0h2m3 0h2m3 0h2m3 0h2m3 0h2m3 0h2m3 0h2M740 731h17m3 0h7m3 0h2m3 0h2m3 0h2m8 0h2m3 0h2m3 0h2m3 0h2m3 0h2m8 0h2m8 0h2m3 0h2m3 0h2m8 0h2m8 0h2m3 0h2m3 0h2m8 0h2m8 0h2m3 0h2m3 0h2m8 0h2m3 0h2m3 0h2m8 0h2m3 0h2m3 0h2m3 0h2m3 0h2m3 0h2m3 0h2m8 0h2m3 0h2m3 0h2m8 0h2m3 0h2m3 0h2m8 0h2m8 0h2m8 0h2m3 0h2m3 0h2m8 0h2m8 0h2m3 0h2m3 0h2m8 0h2m3 0h2m3 0h2m3 0h2m3 0h2m3 0h2m3 0h2m8 0h2m3 0h2m3 0h2m8 0h2m3 0h2m3 0h2m8 0h2m8 0h2m3 0h2m3 0h2m3 0h2m3 0h2m3 0h2m3 0h2m3 0h2m3 0h2m3 0h2m3 0h2m3 0h2m3 0h2m3 0h2m3 0h2m3 0h2m3 0h2m3 0h2m3 0h2m3 0h2m3 0h2m3 0h2m3 0h2m3 0h2m3 0h2m3 0h2m3 0h2m3 0h2m3 0h2m3 0h2m3 0h2m3 0h2m3 0h2m3 0h2m3 0h2m3 0h2m3 0h7m3 0h2m3 0h2m3 0h2m3 0h2m3 0h7m3 0h2m3 0h2m3 0h7m3 0h2m3 0h2m3 0h2m3 0h2m3 0h2m3 0h2m3 0h7m3 0h7m3 0h2m3 0h2m3 0h2m3 0h2m3 0h7m3 0h2m3 0h2m3 0h2m3 0h2m3 0h2m3 0h2m3 0h2m3 0h12m3 0h12M737 733h2m3 0h2m3 0h2m3 0h2m8 0h2m138 0h2m78 0h2m108 0h2m48 0h2m8 0h2m38 0h2m8 0h2m48 0h2m3 0h2m3 0h2m8 0h2m3 0h2m3 0h2m8 0h2m8 0h2m3 0h2m3 0h2m8 0h2m3 0h2m3 0h2m3 0h2m3 0h2m3 0h2m3 0h2m3 0h2m3 0h2m3 0h2m3 0h2m3 0h2m3 0h2m8 0h2m3 0h2m3 0h2m3 0h2m3 0h2m3 0h2m3 0h2m3 0h2m3 0h2m3 0h2m3 0h2m3 0h2m3 0h2m3 0h2m3 0h2m8 0h2m8 0h2m3 0h2m3 0h2m3 0h2m3 0h2m8 0h2m3 0h2m3 0h2m3 0h2m3 0h2m3 0h2m3 0h2m3 0h2m3 0h2M730 736h2m3 0h2m3 0h2m3 0h2m3 0h2m3 0h2m3 0h2m3 0h2m13 0h2m8 0h2m3 0h2m8 0h2m3 0h2m3 0h2m3 0h2m3 0h2m8 0h2m8 0h2m8 0h2m8 0h2m3 0h2m3 0h2m3 0h2m13 0h2m8 0h2m8 0h2m8 0h2m8 0h2m8 0h2m3 0h2m3 0h2m8 0h2m13 0h2m3 0h2m3 0h2m3 0h2m8 0h2m8 0h2m3 0h2m3 0h2m3 0h2m13 0h2m8 0h2m8 0h2m8 0h2m8 0h2m3 0h2m3 0h2m18 0h2m8 0h2m23 0h2m3 0h2m8 0h2m3 0h2m3 0h2m3 0h2m3 0h2m8 0h2m8 0h2m8 0h2m3 0h2m3 0h2m3 0h2m3 0h2m3 0h2m3 0h2m8 0h2m3 0h2m3 0h2m3 0h2m3 0h2m3 0h2m3 0h2m3 0h2m3 0h2m3 0h2m3 0h2m3 0h2m3 0h2m3 0h2m3 0h2m3 0h2m3 0h2m3 0h2m3 0h2m3 0h2m3 0h2m3 0h2m3 0h2m3 0h2m3 0h2m3 0h2m3 0h2m3 0h2m3 0h2m3 0h2m3 0h2m3 0h2m3 0h2m3 0h2m3 0h2m3 0h2m3 0h2m3 0h2m3 0h2m3 0h2m3 0h2m3 0h2m3 0h2m3 0h2m3 0h2m3 0h2m3 0h2m3 0h2m3 0h2m3 0h2m3 0h2m3 0h2m3 0h2m3 0h2m3 0h7m3 0h7m3 0h14M727 738h2m3 0h2m3 0h2m3 0h2m3 0h2m518 0h2m8 0h2m8 0h2m13 0h2m13 0h2m3 0h2m3 0h2m8 0h2m8 0h2m8 0h2m8 0h2m3 0h2m3 0h2m3 0h2m3 0h2m8 0h2m3 0h2m3 0h2m8 0h2m8 0h2m8 0h2m8 0h2m3 0h2m3 0h2m8 0h2m8 0h2m8 0h2m3 0h2m3 0h2m3 0h2m3 0h2m8 0h2m3 0h2m3 0h2m3 0h2m3 0h2m3 0h2m3 0h2m3 0h2m3 0h2m3 0h2M725 741h12m3 0h2m3 0h2m3 0h2m8 0h2m8 0h2m3 0h2m3 0h2m8 0h2m8 0h2m3 0h2m3 0h2m8 0h2m3 0h2m3 0h2m8 0h2m8 0h2m8 0h2m8 0h2m3 0h2m3 0h2m8 0h2m3 0h2m3 0h2m3 0h2m13 0h2m3 0h2m3 0h2m8 0h2m8 0h2m8 0h2m8 0h2m8 0h2m3 0h2m3 0h2m8 0h2m8 0h2m8 0h2m8 0h2m8 0h2m3 0h2m3 0h2m8 0h2m3 0h2m3 0h2m8 0h2m8 0h2m3 0h2m3 0h2m8 0h2m8 0h2m3 0h2m3 0h2m3 0h2m3 0h2m8 0h2m8 0h2m3 0h2m3 0h2m3 0h2m3 0h2m3 0h2m3 0h2m8 0h2m3 0h2m3 0h2m3 0h2m3 0h2m3 0h2m3 0h2m3 0h2m3 0h2m3 0h2m3 0h2m3 0h2m3 0h2m3 0h2m3 0h2m3 0h2m3 0h2m3 0h2m3 0h2m3 0h2m3 0h2m3 0h2m3 0h2m3 0h2m3 0h2m3 0h2m3 0h2m3 0h2m3 0h2m3 0h2m3 0h7m3 0h2m3 0h2m3 0h2m3 0h2m3 0h2m3 0h2m3 0h2m3 0h2m3 0h2m3 0h2m3 0h2m3 0h2m3 0h7m3 0h2m3 0h2m3 0h7m3 0h2m3 0h2m3 0h2m3 0h2m3 0h2m3 0h2m3 0h7m3 0h2m3 0h2m3 0h2m3 0h2m3 0h2m3 0h2m3 0h2m3 0h2m3 0h2m3 0h2m3 0h2m3 0h2m3 0h17M722 743h2m3 0h2m3 0h2m3 0h2m3 0h2m488 0h2m8 0h2m8 0h2m18 0h2m8 0h2m8 0h2m3 0h2m3 0h2m3 0h2m3 0h2m3 0h2m3 0h2m8 0h2m3 0h2m3 0h2m3 0h2m3 0h2m8 0h2m3 0h2m3 0h2m3 0h2m3 0h2m8 0h2m3 0h2m3 0h2m3 0h2m3 0h2m3 0h2m3 0h2m3 0h2m3 0h2m3 0h2m3 0h2m3 0h2m3 0h2m3 0h2m3 0h2m3 0h2m3 0h2m3 0h2m3 0h2m3 0h2m3 0h2m8 0h2m3 0h2m3 0h2m3 0h2m3 0h2m3 0h2m3 0h2m3 0h2m3 0h2m3 0h2m3 0h2m3 0h2m3 0h2m3 0h2M720 746h12m3 0h2m3 0h2m3 0h2m3 0h2m8 0h2m3 0h2m3 0h2m13 0h2m8 0h2m3 0h2m3 0h2m3 0h2m3 0h2m13 0h2m3 0h2m8 0h2m8 0h2m8 0h2m8 0h2m8 0h2m3 0h2m3 0h2m8 0h2m18 0h2m8 0h2m3 0h2m3 0h2m13 0h2m3 0h2m8 0h2m8 0h2m8 0h2m28 0h2m18 0h2m13 0h2m3 0h2m8 0h2m3 0h2m3 0h2m8 0h2m8 0h2m8 0h2m8 0h2m8 0h2m8 0h2m3 0h2m3 0h2m8 0h2m3 0h2m3 0h2m8 0h2m8 0h2m8 0h2m3 0h2m3 0h2m3 0h2m3 0h2m3 0h2m3 0h2m3 0h2m3 0h2m3 0h2m3 0h2m3 0h2m3 0h2m3 0h2m3 0h2m3 0h2m3 0h2m3 0h2m3 0h2m3 0h2m3 0h2m3 0h2m3 0h2m3 0h2m3 0h2m3 0h2m3 0h2m3 0h2m3 0h2m3 0h2m3 0h2m3 0h2m3 0h2m3 0h2m3 0h2m3 0h2m3 0h2m3 0h2m3 0h2m3 0h2m3 0h2m3 0h2m3 0h2m3 0h2m3 0h2m3 0h2m3 0h7m3 0h2m3 0h2m3 0h7m3 0h7m3 0h7m3 0h2m3 0h2m3 0h2m3 0h2m3 0h2m3 0h2m3 0h2m3 0h2m3 0h2m3 0h2m3 0h2m3 0h2m3 0h2m3 0h2m3 0h7m3 0h4M722 748h2m3 0h2m508 0h2m28 0h2m28 0h2m8 0h2m8 0h2m8 0h2m3 0h2m3 0h2m3 0h2m3 0h2m3 0h2m3 0h2m3 0h2m3 0h2m3 0h2m3 0h2m3 0h2m3 0h2m3 0h2m3 0h2m3 0h2m3 0h2m8 0h2m3 0h2m3 0h2m3 0h2m3 0h2m3 0h2m3 0h2m3 0h2m3 0h2m3 0h2m3 0h2m3 0h2m3 0h2m3 0h2m3 0h2m3 0h2m3 0h2m3 0h2m3 0h2m8 0h2m3 0h2m3 0h2m3 0h2m8 0h2m3 0h2m3 0h2m3 0h2m3 0h2m3 0h2M720 751h7m3 0h2m3 0h2m3 0h2m3 0h2m3 0h2m3 0h2m3 0h2m8 0h2m8 0h2m8 0h2m8 0h2m8 0h2m3 0h2m3 0h2m3 0h2m3 0h2m3 0h2m3 0h2m8 0h2m8 0h2m8 0h2m3 0h2m3 0h2m8 0h2m8 0h2m3 0h2m3 0h2m8 0h2m18 0h2m8 0h2m3 0h2m3 0h2m8 0h2m3 0h2m3 0h2m8 0h2m8 0h2m3 0h2m3 0h2m3 0h2m3 0h2m8 0h2m3 0h2m3 0h2m3 0h2m3 0h2m3 0h2m3 0h2m3 0h2m3 0h2m8 0h2m8 0h2m3 0h2m3 0h2m8 0h2m3 0h2m3 0h2m3 0h2m3 0h2m3 0h2m3 0h2m3 0h2m3 0h2m8 0h2m3 0h2m3 0h2m3 0h2m3 0h2m3 0h2m3 0h2m8 0h2m3 0h2m3 0h2m8 0h2m3 0h2m3 0h2m8 0h2m3 0h2m3 0h2m3 0h2m3 0h2m3 0h2m3 0h2m3 0h2m3 0h2m3 0h2m3 0h2m3 0h2m3 0h7m3 0h7m3 0h2m3 0h2m3 0h2m3 0h2m3 0h2m3 0h2m3 0h7m3 0h7m3 0h7m3 0h2m3 0h2m3 0h2m3 0h2m3 0h7m3 0h2m3 0h2m3 0h7m3 0h2m3 0h2m3 0h2m3 0h2m3 0h2m3 0h12m3 0h2m3 0h2m3 0h7m3 0h7m3 0h2m3 0h2m3 0h2m3 0h2m3 0h7m3 0h2m3 0h2m3 0h2m3 0h2m3 0h2m3 0h2m3 0h12M722 753h2m3 0h2m3 0h2m78 0h2m338 0h2m28 0h2m28 0h2m8 0h2m28 0h2m8 0h2m3 0h2m3 0h2m3 0h2m3 0h2m3 0h2m3 0h2m3 0h2m3 0h2m3 0h2m3 0h2m8 0h2m3 0h2m3 0h2m3 0h2m3 0h2m8 0h2m8 0h2m3 0h2m3 0h2m3 0h2m3 0h2m3 0h2m3 0h2m3 0h2m3 0h2m3 0h2m3 0h2m3 0h2m3 0h2m3 0h2m3 0h2m3 0h2m3 0h2m3 0h2m3 0h2m3 0h2m3 0h2m3 0h2m3 0h2m3 0h2m3 0h2m3 0h2m3 0h2m3 0h2m3 0h2m3 0h2m3 0h2m3 0h2m3 0h2m3 0h2m3 0h2m3 0h2m3 0h2m3 0h2m3 0h2m3 0h2m3 0h2m3 0h2M735 756h2m3 0h2m3 0h2m18 0h2m8 0h2m8 0h2m8 0h2m18 0h2m3 0h2m3 0h2m8 0h2m3 0h2m3 0h2m8 0h2m3 0h2m3 0h2m18 0h2m8 0h2m8 0h2m8 0h2m8 0h2m8 0h2m8 0h2m8 0h2m8 0h2m8 0h2m8 0h2m3 0h2m3 0h2m8 0h2m8 0h2m8 0h2m8 0h2m3 0h2m3 0h2m13 0h2m3 0h2m18 0h2m8 0h2m8 0h2m8 0h2m8 0h2m8 0h2m3 0h2m13 0h2m18 0h2m3 0h2m3 0h2m8 0h2m8 0h2m8 0h2m3 0h2m3 0h2m3 0h2m3 0h2m8 0h2m3 0h2m3 0h2m3 0h2m3 0h2m3 0h2m3 0h2m3 0h2m3 0h2m3 0h2m3 0h2m3 0h2m3 0h2m3 0h2m3 0h2m3 0h2m3 0h2m3 0h2m3 0h2m3 0h2m3 0h2m3 0h2m3 0h7m3 0h2m3 0h2m3 0h2m3 0h2m3 0h2m3 0h2m3 0h2m3 0h2m3 0h2m3 0h2m3 0h2m3 0h2m3 0h2m3 0h2m3 0h2m3 0h2m3 0h7m3 0h7m3 0h2m3 0h2m3 0h7m3 0h2m3 0h2m3 0h2m3 0h2m3 0h2m3 0h2m3 0h2m3 0h2m3 0h2m3 0h2m3 0h2m3 0h2m3 0h2m3 0h2m3 0h2M737 758h2m498 0h2m28 0h2m8 0h2m13 0h2m3 0h2m8 0h2m3 0h2m13 0h2m3 0h2m3 0h2m8 0h2m3 0h2m3 0h2m3 0h2m3 0h2m3 0h2m3 0h2m3 0h2m3 0h2m3 0h2m3 0h2m3 0h2m3 0h2m3 0h2m3 0h2m3 0h2m3 0h2m3 0h2m3 0h2m3 0h2m3 0h2m3 0h2m3 0h2m8 0h2m3 0h2m3 0h2m3 0h2m3 0h2m3 0h2m3 0h2m3 0h2m3 0h2m3 0h2m3 0h2m3 0h2m3 0h2m8 0h2m8 0h2m3 0h2M750 761h2m8 0h2m3 0h2m3 0h2m3 0h2m3 0h2m8 0h2m8 0h2m8 0h2m3 0h2m3 0h2m8 0h2m3 0h2m3 0h2m8 0h2m8 0h2m3 0h2m3 0h2m8 0h2m3 0h2m3 0h2m3 0h2m3 0h2m8 0h2m8 0h2m8 0h2m3 0h2m3 0h2m3 0h2m3 0h2m8 0h2m8 0h2m8 0h2m3 0h2m3 0h2m3 0h2m3 0h2m3 0h2m3 0h2m8 0h2m3 0h2m3 0h2m8 0h2m3 0h2m3 0h2m3 0h2m3 0h2m3 0h2m3 0h2m8 0h2m3 0h2m3 0h2m8 0h2m8 0h2m8 0h2m3 0h2m3 0h2m8 0h2m8 0h2m3 0h2m3 0h2m3 0h2m3 0h2m3 0h2m3 0h2m3 0h2m3 0h2m3 0h2m3 0h2m8 0h2m3 0h2m3 0h2m3 0h2m3 0h2m3 0h2m3 0h2m3 0h2m3 0h2m3 0h2m3 0h2m3 0h2m3 0h2m3 0h2m3 0h2m3 0h2m3 0h2m3 0h2m3 0h2m3 0h2m3 0h2m3 0h2m3 0h2m3 0h2m3 0h2m3 0h2m3 0h7m3 0h2m3 0h2m3 0h2m3 0h2m3 0h2m3 0h2m3 0h2m3 0h2m3 0h2m3 0h2m3 0h2m3 0h2m3 0h2m3 0h2m3 0h7m3 0h7m3 0h12m3 0h2m3 0h2m3 0h2m3 0h22m3 0h7m3 0h2m3 0h2m3 0h2m3 0h2m3 0h2m3 0h7m3 0h2m3 0h2m3 0h2m8 0h2M862 763h2m368 0h2m8 0h2m28 0h2m13 0h2m3 0h2m3 0h2m3 0h2m8 0h2m3 0h2m3 0h2m3 0h2m3 0h2m3 0h2m3 0h2m3 0h2m3 0h2m3 0h2m3 0h2m3 0h2m3 0h2m3 0h2m3 0h2m3 0h2m3 0h2m3 0h2m3 0h2m3 0h2m3 0h2m3 0h2m3 0h2m3 0h2m3 0h2m3 0h2m3 0h2m3 0h2m3 0h2m3 0h2m3 0h2m3 0h2m3 0h2m3 0h2m3 0h2m3 0h2m3 0h2m3 0h2m3 0h2m3 0h2m3 0h2m3 0h2m3 0h2m3 0h2m3 0h2m3 0h2m3 0h2m3 0h2m3 0h2M755 766h2m8 0h2m8 0h2m8 0h2m8 0h2m13 0h2m13 0h2m18 0h2m8 0h2m8 0h2m8 0h2m3 0h2m8 0h2m23 0h2m8 0h2m23 0h2m3 0h2m8 0h2m3 0h2m3 0h2m18 0h2m8 0h2m18 0h2m8 0h2m18 0h2m8 0h2m13 0h2m3 0h2m8 0h2m28 0h2m8 0h2m13 0h2m3 0h2m8 0h2m8 0h2m3 0h2m8 0h2m3 0h2m8 0h2m8 0h2m8 0h2m8 0h2m8 0h2m3 0h2m3 0h2m3 0h2m3 0h2m8 0h2m3 0h2m3 0h2m3 0h2m3 0h2m3 0h2m3 0h2m3 0h2m3 0h2m3 0h2m3 0h2m3 0h2m3 0h2m3 0h2m3 0h2m3 0h2m3 0h2m3 0h2m3 0h7m3 0h2m3 0h2m3 0h2m3 0h2m3 0h7m3 0h2m3 0h2m3 0h2m3 0h2m3 0h2m3 0h2m3 0h2m3 0h2m3 0h7m3 0h2m3 0h2m3 0h2m3 0h2m3 0h7m3 0h7m3 0h2m3 0h2m3 0h2m3 0h2m3 0h2m3 0h2m3 0h2m3 0h2m3 0h2m3 0h2m3 0h2m3 0h2M1287 768h2m28 0h2m8 0h2m3 0h2m3 0h2m3 0h2m3 0h2m3 0h2m3 0h2m3 0h2m3 0h2m8 0h2m3 0h2m3 0h2m8 0h2m3 0h2m3 0h2m3 0h2m3 0h2m8 0h2m3 0h2m3 0h2m3 0h2m3 0h2m3 0h2m3 0h2m3 0h2m3 0h2m3 0h2m3 0h2m3 0h2m3 0h2m3 0h2m3 0h2m3 0h2m3 0h2m3 0h2m3 0h2m3 0h2m3 0h2m3 0h2m3 0h2m3 0h2m3 0h2M740 771h2m8 0h2m8 0h2m8 0h2m8 0h2m8 0h2m3 0h2m3 0h2m3 0h2m3 0h2m13 0h2m3 0h2m8 0h2m3 0h2m3 0h2m8 0h2m3 0h2m3 0h2m3 0h2m3 0h2m3 0h2m3 0h2m3 0h2m3 0h2m8 0h2m3 0h2m3 0h2m8 0h2m8 0h2m8 0h2m3 0h2m3 0h2m8 0h2m8 0h2m8 0h2m8 0h2m8 0h2m3 0h2m3 0h2m8 0h2m8 0h2m18 0h2m13 0h2m3 0h2m3 0h2m3 0h2m8 0h2m8 0h2m3 0h2m3 0h2m3 0h2m3 0h2m28 0h2m3 0h2m3 0h2m8 0h2m8 0h2m8 0h2m3 0h2m3 0h2m3 0h2m3 0h2m3 0h2m3 0h2m8 0h2m3 0h2m3 0h2m3 0h2m3 0h2m3 0h2m3 0h2m3 0h2m3 0h2m3 0h2m3 0h2m3 0h2m3 0h2m3 0h2m3 0h2m3 0h2m3 0h2m3 0h2m3 0h2m3 0h2m3 0h2m3 0h2m3 0h2m3 0h2m3 0h7m3 0h2m3 0h2m3 0h7m3 0h7m3 0h7m3 0h12m3 0h7m3 0h2m3 0h7m3 0h7m3 0h7m3 0h2m3 0h7m3 0h2m3 0h2m3 0h2m3 0h7m3 0h2m3 0h2m3 0h7m3 0h2m3 0h2m3 0h7M1242 773h2m33 0h2m3 0h2m8 0h2m3 0h2m3 0h2m3 0h2m3 0h2m8 0h2m8 0h2m3 0h2m3 0h2m8 0h2m3 0h2m3 0h2m3 0h2m3 0h2m3 0h2m3 0h2m3 0h2m3 0h2m3 0h2m3 0h2m3 0h2m3 0h2m3 0h2m3 0h2m3 0h2m3 0h2m3 0h2m3 0h2m3 0h2m3 0h2m3 0h2m3 0h2m3 0h2m3 0h2m3 0h2m3 0h2m3 0h2m3 0h2m3 0h2m3 0h2m3 0h2m3 0h2m3 0h2m3 0h2m3 0h2m3 0h2m3 0h2m3 0h2M760 776h2m3 0h2m8 0h2m18 0h2m18 0h2m18 0h2m3 0h2m3 0h2m8 0h2m18 0h2m8 0h2m8 0h2m3 0h2m13 0h2m8 0h2m28 0h2m28 0h2m8 0h2m8 0h2m18 0h2m8 0h2m8 0h2m8 0h2m8 0h2m8 0h2m8 0h2m8 0h2m3 0h2m3 0h2m8 0h2m8 0h2m3 0h2m3 0h2m8 0h2m13 0h2m13 0h2m8 0h2m8 0h2m3 0h2m3 0h2m8 0h2m3 0h2m8 0h2m3 0h2m3 0h2m3 0h2m3 0h2m3 0h2m3 0h2m3 0h2m3 0h2m3 0h2m3 0h2m3 0h2m3 0h2m3 0h2m3 0h2m3 0h2m3 0h2m3 0h2m3 0h2m3 0h2m3 0h2m3 0h2m3 0h2m3 0h2m3 0h2m3 0h2m3 0h2m3 0h2m3 0h2m3 0h2m3 0h2m3 0h2m3 0h2m3 0h2m3 0h2m3 0h2m3 0h2m3 0h2m3 0h2m3 0h2m3 0h2m3 0h7m3 0h2m3 0h2m3 0h2m3 0h2m3 0h7m3 0h7m3 0h7m3 0h7m3 0h7m3 0h2m3 0h2m3 0h2m3 0h2m3 0h2m3 0h2m3 0h2M1267 778h2m8 0h2m8 0h2m8 0h2m8 0h2m18 0h2m8 0h2m3 0h2m3 0h2m3 0h2m3 0h2m8 0h2m8 0h2m8 0h2m8 0h2m3 0h2m3 0h2m8 0h2m3 0h2m3 0h2m3 0h2m3 0h2m3 0h2m3 0h2m8 0h2m3 0h2m3 0h2m3 0h2m3 0h2m3 0h2m3 0h2m3 0h2m3 0h2m3 0h2m3 0h2m8 0h2m8 0h2m8 0h2M750 781h2m13 0h2m3 0h2m3 0h2m3 0h2m8 0h2m3 0h2m3 0h2m18 0h2m3 0h2m3 0h2m8 0h2m8 0h2m8 0h2m8 0h2m3 0h2m3 0h2m8 0h2m8 0h2m8 0h2m8 0h2m8 0h2m8 0h2m8 0h2m3 0h2m3 0h2m8 0h2m8 0h2m8 0h2m8 0h2m8 0h2m3 0h2m3 0h2m8 0h2m3 0h2m13 0h2m8 0h2m8 0h2m28 0h2m8 0h2m3 0h2m3 0h2m3 0h2m3 0h2m8 0h2m3 0h2m3 0h2m8 0h2m8 0h2m3 0h2m3 0h2m3 0h2m3 0h2m8 0h2m3 0h2m3 0h2m8 0h2m3 0h2m3 0h2m8 0h2m3 0h2m3 0h2m3 0h2m3 0h2m3 0h2m3 0h2m3 0h2m3 0h2m3 0h2m3 0h2m3 0h2m3 0h2m3 0h2m3 0h2m3 0h2m3 0h2m3 0h2m3 0h2m3 0h2m3 0h2m3 0h2m3 0h2m3 0h2m3 0h2m3 0h2m3 0h2m3 0h2m3 0h2m3 0h2m3 0h7m3 0h2m3 0h2m3 0h7m3 0h2m3 0h12m3 0h2m3 0h2m3 0h7m3 0h7m3 0h2m3 0h2m3 0h7m3 0h17m3 0h2m3 0h2m3 0h7m3 0h7M1182 783h2m48 0h2m18 0h2m8 0h2m8 0h2m8 0h2m8 0h2m8 0h2m3 0h2m3 0h2m3 0h2m3 0h2m8 0h2m3 0h2m3 0h2m3 0h2m3 0h2m3 0h2m3 0h2m3 0h2m3 0h2m3 0h2m3 0h2m3 0h2m3 0h2m3 0h2m3 0h2m3 0h2m3 0h2m3 0h2m3 0h2m3 0h2m3 0h2m3 0h2m3 0h2m3 0h2m3 0h2m3 0h2m3 0h2m3 0h2m3 0h2m3 0h2m3 0h2m3 0h2m3 0h2m3 0h2m3 0h2m3 0h2m3 0h2m3 0h2m3 0h2m3 0h2m3 0h2M755 786h2m13 0h2m3 0h2m18 0h2m3 0h2m3 0h2m23 0h2m13 0h2m3 0h2m3 0h2m8 0h2m8 0h2m28 0h2m8 0h2m8 0h2m8 0h2m18 0h2m8 0h2m8 0h2m8 0h2m8 0h2m8 0h2m18 0h2m8 0h2m8 0h2m18 0h2m18 0h2m8 0h2m8 0h2m28 0h2m8 0h2m18 0h2m8 0h2m3 0h2m8 0h2m3 0h2m3 0h2m3 0h2m3 0h2m3 0h2m3 0h2m3 0h2m8 0h2m8 0h2m3 0h2m3 0h2m8 0h2m3 0h2m3 0h2m3 0h2m3 0h2m3 0h2m3 0h2m3 0h2m3 0h2m3 0h2m3 0h2m3 0h2m3 0h2m3 0h2m3 0h2m3 0h2m3 0h2m3 0h2m3 0h2m3 0h2m3 0h2m3 0h2m3 0h7m3 0h2m3 0h2m3 0h2m3 0h2m3 0h7m3 0h7m3 0h7m3 0h2m3 0h2m3 0h2m3 0h2m3 0h2m3 0h2m3 0h2m3 0h2m3 0h2m3 0h2m3 0h2m3 0h2m3 0h7m3 0h2m3 0h2m3 0h7m3 0h2m3 0h2m3 0h2M1257 788h2m8 0h2m18 0h2m8 0h2m8 0h2m8 0h2m8 0h2m28 0h2m3 0h2m3 0h2m8 0h2m3 0h2m3 0h2m3 0h2m3 0h2m3 0h2m3 0h2m3 0h2m3 0h2m3 0h2m3 0h2m3 0h2m3 0h2m3 0h2m3 0h2m8 0h2m3 0h2m3 0h2m8 0h2m3 0h2m3 0h2m3 0h2m3 0h2m8 0h2m3 0h2m3 0h2m3 0h2m3 0h2M765 791h2m3 0h2m8 0h2m8 0h2m3 0h2m3 0h2m8 0h2m8 0h2m3 0h2m3 0h2m3 0h2m3 0h2m3 0h2m13 0h2m8 0h2m8 0h2m3 0h2m3 0h2m3 0h2m3 0h2m8 0h2m3 0h2m3 0h2m18 0h2m8 0h2m18 0h2m8 0h2m3 0h2m13 0h2m8 0h2m8 0h2m8 0h2m3 0h2m3 0h2m3 0h2m3 0h2m8 0h2m8 0h2m3 0h2m3 0h2m8 0h2m8 0h2m3 0h2m3 0h2m3 0h2m18 0h2m3 0h2m13 0h2m3 0h2m8 0h2m3 0h2m3 0h2m8 0h2m8 0h2m3 0h2m3 0h2m8 0h2m8 0h2m8 0h2m3 0h2m3 0h2m8 0h2m3 0h2m3 0h2m3 0h2m3 0h2m3 0h2m3 0h2m3 0h2m3 0h2m3 0h2m3 0h2m3 0h2m3 0h2m3 0h2m3 0h2m3 0h2m3 0h2m3 0h2m3 0h2m3 0h2m3 0h7m3 0h2m3 0h2m3 0h7m3 0h2m3 0h2m3 0h7m3 0h7m3 0h2m3 0h2m3 0h2m3 0h2m3 0h2m3 0h2m3 0h2m3 0h2m3 0h7m3 0h7m3 0h7m3 0h2m3 0h2m3 0h7m3 0h2m3 0h2m3 0h2m3 0h2m3 0h2M1282 793h2m8 0h2m8 0h2m8 0h2m23 0h2m3 0h2m3 0h2m3 0h2m3 0h2m3 0h2m3 0h2m3 0h2m3 0h2m3 0h2m3 0h2m3 0h2m3 0h2m3 0h2m3 0h2m3 0h2m8 0h2m3 0h2m3 0h2m3 0h2m3 0h2m3 0h2m3 0h2m3 0h2m3 0h2m3 0h2m3 0h2m3 0h2m3 0h2m3 0h2m3 0h2m3 0h2m3 0h2m3 0h2m3 0h2m3 0h2m3 0h2M765 796h2m8 0h2m18 0h2m8 0h2m3 0h2m3 0h2m8 0h2m8 0h2m3 0h2m13 0h2m18 0h2m18 0h2m3 0h2m3 0h2m8 0h2m8 0h2m8 0h2m18 0h2m8 0h2m8 0h2m8 0h2m18 0h2m8 0h2m8 0h2m8 0h2m3 0h2m3 0h2m8 0h2m8 0h2m8 0h2m18 0h2m18 0h2m8 0h2m8 0h2m18 0h2m8 0h2m23 0h2m13 0h2m13 0h2m23 0h2m3 0h2m3 0h2m3 0h2m3 0h2m3 0h2m3 0h2m8 0h2m3 0h2m3 0h2m3 0h2m3 0h2m8 0h2m3 0h2m3 0h2m3 0h2m3 0h2m3 0h2m3 0h2m3 0h2m3 0h2m3 0h2m3 0h2m3 0h2m3 0h2m3 0h2m3 0h2m3 0h2m3 0h2m3 0h2m3 0h2m3 0h2m3 0h2m3 0h2m3 0h2m3 0h2m3 0h2m3 0h2m3 0h7m3 0h2m3 0h2m3 0h2m3 0h2m3 0h2m3 0h2m3 0h7m3 0h2m3 0h2m3 0h2m3 0h2m3 0h2m3 0h2m3 0h2M1277 798h2m28 0h2m8 0h2m8 0h2m8 0h2m8 0h2m8 0h2m8 0h2m8 0h2m3 0h2m3 0h2m8 0h2m3 0h2m3 0h2m8 0h2m8 0h2m8 0h2m3 0h2m3 0h2m3 0h2m3 0h2m3 0h2m3 0h2m3 0h2m3 0h2m8 0h2m8 0h2m8 0h2m8 0h2M770 801h2m18 0h2m3 0h2m8 0h2m3 0h2m8 0h2m13 0h2m3 0h2m8 0h2m8 0h2m8 0h2m3 0h2m3 0h2m3 0h2m3 0h2m8 0h2m3 0h2m23 0h2m8 0h2m8 0h2m8 0h2m3 0h2m13 0h2m8 0h2m3 0h2m33 0h2m3 0h2m3 0h2m3 0h2m3 0h2m8 0h2m3 0h2m3 0h2m3 0h2m8 0h2m3 0h2m8 0h2m8 0h2m8 0h2m18 0h2m3 0h2m3 0h2m8 0h2m8 0h2m8 0h2m3 0h2m3 0h2m8 0h2m3 0h2m3 0h2m3 0h2m3 0h2m3 0h2m3 0h2m8 0h2m8 0h2m3 0h2m3 0h2m3 0h2m3 0h2m3 0h2m3 0h2m3 0h2m3 0h2m3 0h2m3 0h2m3 0h2m3 0h2m3 0h2m3 0h2m3 0h2m3 0h2m3 0h2m3 0h2m3 0h2m3 0h2m3 0h2m3 0h2m3 0h2m3 0h2m3 0h2m3 0h2m3 0h2m3 0h2m3 0h2m3 0h2m3 0h2m3 0h7m3 0h2m3 0h2m3 0h2m3 0h2m3 0h2m3 0h2m3 0h2m3 0h2m3 0h2m3 0h2m3 0h7m3 0h2m3 0h2m3 0h2m3 0h2m3 0h7m3 0h2m3 0h2M1272 803h2m18 0h2m38 0h2m8 0h2m3 0h2m3 0h2m3 0h2m3 0h2m3 0h2m3 0h2m3 0h2m3 0h2m3 0h2m3 0h2m8 0h2m3 0h2m3 0h2m3 0h2m3 0h2m3 0h2m3 0h2m8 0h2m3 0h2m3 0h2m3 0h2m3 0h2m3 0h2m3 0h2m3 0h2m3 0h2m3 0h2m3 0h2m3 0h2m3 0h2m8 0h2M775 806h2m8 0h2m8 0h2m8 0h2m18 0h2m3 0h2m3 0h2m28 0h2m8 0h2m18 0h2m8 0h2m18 0h2m28 0h2m8 0h2m18 0h2m8 0h2m8 0h2m18 0h2m3 0h2m3 0h2m3 0h2m3 0h2m8 0h2m28 0h2m8 0h2m8 0h2m28 0h2m8 0h2m13 0h2m3 0h2m8 0h2m8 0h2m3 0h2m3 0h2m8 0h2m18 0h2m8 0h2m8 0h2m8 0h2m3 0h2m3 0h2m3 0h2m3 0h2m3 0h2m3 0h2m3 0h2m3 0h2m8 0h2m3 0h2m3 0h2m3 0h2m3 0h2m3 0h2m3 0h2m3 0h2m3 0h2m3 0h2m3 0h2m3 0h2m3 0h2m3 0h2m3 0h2m3 0h2m3 0h2m3 0h2m3 0h2m3 0h2m3 0h2m3 0h2m3 0h2m3 0h2m3 0h2m3 0h2m3 0h2m3 0h2m3 0h2m3 0h2m3 0h2m3 0h2m3 0h2m3 0h2m3 0h2m3 0h2m3 0h2m3 0h2m3 0h2m3 0h2m3 0h7M1277 808h2m38 0h2m18 0h2m8 0h2m8 0h2m8 0h2m3 0h2m3 0h2m8 0h2m3 0h2m3 0h2m3 0h2m3 0h2m8 0h2m3 0h2m3 0h2m8 0h2m3 0h2m8 0h2m3 0h2m8 0h2m3 0h2m3 0h2m8 0h2m3 0h2m3 0h2m8 0h2M780 811h2m8 0h2m3 0h2m3 0h2m18 0h2m8 0h2m3 0h2m3 0h2m8 0h2m8 0h2m8 0h2m3 0h2m3 0h2m8 0h2m18 0h2m8 0h2m8 0h2m3 0h2m3 0h2m8 0h2m8 0h2m3 0h2m3 0h2m18 0h2m3 0h2m3 0h2m8 0h2m8 0h2m8 0h2m8 0h2m8 0h2m8 0h2m3 0h2m3 0h2m3 0h2m8 0h2m13 0h2m8 0h2m8 0h2m8 0h2m8 0h2m8 0h2m8 0h2m3 0h2m3 0h2m3 0h2m3 0h2m8 0h2m8 0h2m8 0h2m3 0h2m3 0h2m3 0h2m3 0h2m3 0h2m3 0h2m3 0h2m3 0h2m3 0h2m3 0h2m3 0h2m3 0h2m3 0h2m3 0h2m3 0h2m3 0h2m3 0h2m3 0h2m3 0h2m3 0h2m3 0h2m3 0h2m3 0h2m3 0h2m3 0h2m3 0h2m3 0h2m3 0h2m3 0h2m3 0h2m3 0h2m3 0h2m3 0h2m3 0h2m3 0h2m3 0h2m3 0h2m3 0h2m3 0h2m3 0h2m3 0h2m3 0h7m3 0h2m3 0h2m3 0h7m3 0h2m3 0h2m3 0h7m3 0h7m3 0h7m3 0h2m3 0h2m3 0h2m3 0h2M1272 813h2m8 0h2m8 0h2m8 0h2m8 0h2m28 0h2m3 0h2m3 0h2m3 0h2m3 0h2m3 0h2m3 0h2m23 0h2m3 0h2m3 0h2m3 0h2m3 0h2m3 0h2m8 0h2m3 0h2m3 0h2m3 0h2m3 0h2m8 0h2m3 0h2m3 0h2m8 0h2m3 0h2m3 0h2m3 0h2m3 0h2M785 816h2m3 0h2m13 0h2m8 0h2m8 0h2m3 0h2m3 0h2m8 0h2m8 0h2m8 0h2m8 0h2m8 0h2m13 0h2m13 0h2m18 0h2m8 0h2m18 0h2m8 0h2m8 0h2m38 0h2m8 0h2m3 0h2m3 0h2m8 0h2m8 0h2m18 0h2m8 0h2m8 0h2m3 0h2m3 0h2m18 0h2m18 0h2m8 0h2m8 0h2m3 0h2m13 0h2m8 0h2m8 0h2m8 0h2m13 0h2m3 0h2m18 0h2m3 0h2m3 0h2m3 0h2m8 0h2m3 0h2m8 0h2m8 0h2m8 0h2m3 0h2m3 0h2m3 0h2m3 0h2m3 0h2m3 0h2m3 0h2m3 0h2m3 0h2m3 0h2m3 0h2m3 0h2m3 0h2m3 0h2m3 0h2m3 0h2m3 0h2m3 0h2m3 0h2m3 0h2m3 0h2m3 0h2m3 0h2m3 0h2m3 0h2m3 0h2m3 0h2m3 0h2m3 0h2m3 0h2m3 0h2m3 0h2m3 0h2m3 0h2m3 0h2M1297 818h2m28 0h2m8 0h2m38 0h2m18 0h2m18 0h2m8 0h2m18 0h2m3 0h2m3 0h2m8 0h2m8 0h2m3 0h2m3 0h2m8 0h2M790 821h2m3 0h2m3 0h2m8 0h2m3 0h2m3 0h2m3 0h2m13 0h2m8 0h2m3 0h2m3 0h2m3 0h2m3 0h2m3 0h2m3 0h2m8 0h2m3 0h2m3 0h2m8 0h2m3 0h2m3 0h2m3 0h2m3 0h2m8 0h2m8 0h2m3 0h2m3 0h2m3 0h2m3 0h2m3 0h2m3 0h2m8 0h2m3 0h2m3 0h2m3 0h2m8 0h2m3 0h2m3 0h2m18 0h2m3 0h2m3 0h2m3 0h2m18 0h2m8 0h2m3 0h2m3 0h2m8 0h2m8 0h2m3 0h2m8 0h2m3 0h2m3 0h2m3 0h2m3 0h2m3 0h2m3 0h2m3 0h2m8 0h2m8 0h2m3 0h2m13 0h2m8 0h2m3 0h2m3 0h2m8 0h2m3 0h2m3 0h2m8 0h2m3 0h2m3 0h2m8 0h2m8 0h2m8 0h2m3 0h2m3 0h2m3 0h2m3 0h2m3 0h2m3 0h2m3 0h2m3 0h2m3 0h2m3 0h2m3 0h2m3 0h2m3 0h2m3 0h2m3 0h2m3 0h2m3 0h2m3 0h2m3 0h2m3 0h2m3 0h2m3 0h2m3 0h2m3 0h2m3 0h2m3 0h2m3 0h2m3 0h2m3 0h2m3 0h2m3 0h2m3 0h2m3 0h2m3 0h2m3 0h2m3 0h2m3 0h2m3 0h7M1312 823h2m53 0h2m23 0h2m3 0h2m3 0h2m3 0h2m3 0h2m18 0h2m3 0h2m3 0h2m8 0h2m3 0h2m3 0h2m8 0h2m8 0h2m8 0h2M795 826h2m8 0h2m8 0h2m8 0h2m8 0h2m8 0h2m13 0h2m3 0h2m28 0h2m8 0h2m8 0h2m3 0h2m3 0h2m8 0h2m38 0h2m8 0h2m18 0h2m8 0h2m8 0h2m18 0h2m3 0h2m13 0h2m8 0h2m8 0h2m8 0h2m3 0h2m3 0h2m3 0h2m3 0h2m28 0h2m28 0h2m18 0h2m8 0h2m3 0h2m3 0h2m3 0h2m3 0h2m8 0h2m3 0h2m3 0h2m3 0h2m3 0h2m8 0h2m8 0h2m8 0h2m8 0h2m8 0h2m8 0h2m8 0h2m3 0h2m3 0h2m3 0h2m3 0h2m3 0h2m3 0h2m3 0h2m3 0h2m3 0h2m3 0h2m3 0h2m3 0h2m3 0h2m3 0h2m3 0h2m3 0h2m3 0h2m3 0h2m3 0h2m3 0h2m3 0h2m3 0h2m3 0h2m3 0h2m3 0h2m3 0h2m3 0h2m3 0h2m3 0h2m3 0h2m3 0h2m3 0h2m3 0h2M1317 828h2m78 0h2m8 0h2m18 0h2m23 0h2m3 0h2m8 0h2m8 0h2m8 0h2M800 831h2m3 0h2m3 0h2m8 0h2m8 0h2m3 0h2m3 0h2m8 0h2m3 0h2m8 0h2m3 0h2m8 0h2m8 0h2m3 0h2m3 0h2m8 0h2m8 0h2m8 0h2m8 0h2m8 0h2m8 0h2m3 0h2m3 0h2m8 0h2m18 0h2m8 0h2m8 0h2m8 0h2m3 0h2m3 0h2m8 0h2m28 0h2m3 0h2m8 0h2m8 0h2m8 0h2m3 0h2m8 0h2m8 0h2m8 0h2m3 0h2m3 0h2m3 0h2m3 0h2m3 0h2m3 0h2m18 0h2m8 0h2m3 0h2m13 0h2m3 0h2m3 0h2m3 0h2m3 0h2m8 0h2m28 0h2m8 0h2m8 0h2m8 0h2m3 0h2m8 0h2m3 0h2m3 0h2m3 0h2m3 0h2m3 0h2m3 0h2m3 0h2m3 0h2m3 0h2m3 0h2m3 0h2m3 0h2m3 0h2m3 0h2m3 0h2m3 0h2m3 0h2m3 0h2m3 0h2m3 0h2m3 0h2m3 0h2m3 0h2m3 0h2m3 0h2m3 0h2m3 0h2m3 0h2m3 0h2m3 0h2m3 0h2M1352 833h2m8 0h2m38 0h2m8 0h2m8 0h2m8 0h2m8 0h2m8 0h2m3 0h2m3 0h2m8 0h2m8 0h2M815 836h2m8 0h2m8 0h2m8 0h2m8 0h2m8 0h2m18 0h2m8 0h2m28 0h2m8 0h2m3 0h2m23 0h2m28 0h2m8 0h2m3 0h2m3 0h2m8 0h2m8 0h2m8 0h2m18 0h2m18 0h2m18 0h2m18 0h2m8 0h2m3 0h2m18 0h2m13 0h2m8 0h2m8 0h2m8 0h2m8 0h2m8 0h2m3 0h2m3 0h2m8 0h2m3 0h2m3 0h2m8 0h2m18 0h2m18 0h2m28 0h2m3 0h2m3 0h2m3 0h2m3 0h2m3 0h2m3 0h2m3 0h2m3 0h2m3 0h2m3 0h2m3 0h2m3 0h2m3 0h2m3 0h2m8 0h2m8 0h2m3 0h2m3 0h2m3 0h2m3 0h2m3 0h2m3 0h2m3 0h2m3 0h2m3 0h2m3 0h2m3 0h2m3 0h2M1417 838h2m8 0h2m28 0h2m18 0h2M810 841h2m3 0h2m3 0h2m8 0h2m3 0h2m3 0h2m3 0h2m8 0h2m3 0h2m18 0h2m8 0h2m8 0h2m8 0h2m3 0h2m3 0h2m3 0h2m3 0h2m13 0h2m3 0h2m8 0h2m8 0h2m8 0h2m8 0h2m3 0h2m3 0h2m8 0h2m8 0h2m3 0h2m3 0h2m8 0h2m8 0h2m3 0h2m3 0h2m8 0h2m3 0h2m3 0h2m3 0h2m13 0h2m8 0h2m8 0h2m8 0h2m8 0h2m8 0h2m3 0h2m3 0h2m3 0h2m3 0h2m8 0h2m8 0h2m3 0h2m3 0h2m8 0h2m8 0h2m18 0h2m3 0h2m3 0h2m8 0h2m8 0h2m8 0h2m3 0h2m13 0h2m8 0h2m18 0h2m3 0h2m3 0h2m3 0h2m3 0h2m3 0h2m3 0h2m3 0h2m3 0h2m3 0h2m3 0h2m3 0h2m3 0h2m3 0h2m3 0h2m3 0h2m3 0h2m3 0h2m3 0h2m3 0h2m3 0h2m3 0h2m3 0h2m3 0h2m3 0h2m3 0h2m3 0h2m3 0h2m3 0h2m3 0h2M1342 843h2m68 0h2m8 0h2m3 0h2m3 0h2m38 0h2M815 846h2m18 0h2m3 0h2m3 0h2m8 0h2m3 0h2m3 0h2m8 0h2m8 0h2m8 0h2m18 0h2m3 0h2m3 0h2m8 0h2m8 0h2m8 0h2m8 0h2m8 0h2m28 0h2m8 0h2m8 0h2m18 0h2m8 0h2m8 0h2m38 0h2m8 0h2m8 0h2m8 0h2m8 0h2m8 0h2m8 0h2m3 0h2m18 0h2m13 0h2m8 0h2m3 0h2m3 0h2m23 0h2m3 0h2m28 0h2m8 0h2m8 0h2m38 0h2m8 0h2m3 0h2m3 0h2m3 0h2m3 0h2m8 0h2m3 0h2m3 0h2m3 0h2m3 0h2m3 0h2m3 0h2m8 0h2m3 0h2m3 0h2m3 0h2m3 0h2m3 0h2m3 0h2m3 0h2m3 0h2M1467 848h2M820 851h2m3 0h2m3 0h2m8 0h2m8 0h2m8 0h2m8 0h2m8 0h2m18 0h2m23 0h2m3 0h2m8 0h2m3 0h2m3 0h2m8 0h2m3 0h2m3 0h2m3 0h2m28 0h2m13 0h2m8 0h2m8 0h2m3 0h2m3 0h2m18 0h2m8 0h2m3 0h2m3 0h2m28 0h2m13 0h2m3 0h2m3 0h2m8 0h2m3 0h2m3 0h2m3 0h2m8 0h2m8 0h2m3 0h2m3 0h2m3 0h2m3 0h2m8 0h2m8 0h2m8 0h2m8 0h2m3 0h2m3 0h2m8 0h2m18 0h2m3 0h2m3 0h2m3 0h2m13 0h2m8 0h2m3 0h2m3 0h2m3 0h2m3 0h2m3 0h2m3 0h2m3 0h2m3 0h2m3 0h2m3 0h2m3 0h2m3 0h2m3 0h2m3 0h2m3 0h2m3 0h2m3 0h2m3 0h2m3 0h2m3 0h2m3 0h2m3 0h2m3 0h2m3 0h2m3 0h2m3 0h2m3 0h2M1432 853h2m18 0h2m8 0h2M825 856h2m8 0h2m3 0h2m3 0h2m3 0h2m3 0h2m8 0h2m3 0h2m13 0h2m18 0h2m8 0h2m18 0h2m8 0h2m38 0h2m8 0h2m18 0h2m8 0h2m18 0h2m8 0h2m18 0h2m8 0h2m18 0h2m18 0h2m28 0h2m78 0h2m8 0h2m8 0h2m8 0h2m48 0h2m18 0h2m13 0h2m3 0h2m3 0h2m3 0h2m3 0h2m3 0h2m8 0h2m3 0h2m3 0h2m8 0h2m8 0h2m8 0h2m8 0h2m3 0h2m3 0h2m3 0h2m3 0h2m3 0h2m3 0h2M840 861h2m8 0h2m8 0h2m8 0h2m8 0h2m8 0h2m8 0h2m8 0h2m8 0h2m3 0h2m3 0h2m8 0h2m8 0h2m8 0h2m8 0h2m23 0h2m33 0h2m18 0h2m8 0h2m8 0h2m8 0h2m3 0h2m3 0h2m8 0h2m8 0h2m8 0h2m8 0h2m8 0h2m8 0h2m8 0h2m3 0h2m3 0h2m38 0h2m3 0h2m3 0h2m8 0h2m8 0h2m8 0h2m3 0h2m3 0h2m3 0h2m3 0h2m8 0h2m8 0h2m13 0h2m3 0h2m3 0h2m13 0h2m8 0h2m3 0h2m3 0h2m8 0h2m8 0h2m3 0h2m3 0h2m3 0h2m3 0h2m8 0h2m8 0h2m3 0h2m3 0h2m8 0h2m3 0h2m3 0h2m3 0h2m3 0h2M835 866h2m8 0h2m3 0h2m13 0h2m8 0h2m8 0h2m13 0h2m13 0h2m13 0h2m13 0h2m8 0h2m8 0h2m43 0h2m13 0h2m8 0h2m8 0h2m58 0h2m8 0h2m8 0h2m8 0h2m8 0h2m8 0h2m8 0h2m8 0h2m8 0h2m28 0h2m8 0h2m8 0h2m58 0h2m68 0h2M845 871h2m8 0h2m3 0h2m3 0h2m3 0h2m8 0h2m8 0h2m3 0h2m3 0h2m8 0h2m3 0h2m3 0h2m3 0h2m3 0h2m8 0h2m3 0h2m3 0h2m3 0h2m23 0h2m8 0h2m8 0h2m3 0h2m13 0h2m3 0h2m8 0h2m3 0h2m3 0h2m3 0h2m8 0h2m8 0h2m8 0h2m8 0h2m8 0h2m3 0h2m3 0h2m8 0h2m3 0h2m3 0h2m8 0h2m8 0h2m3 0h2m13 0h2m8 0h2m3 0h2m3 0h2m8 0h2m8 0h2m8 0h2m8 0h2m3 0h2m3 0h2m3 0h2m3 0h2m3 0h2m3 0h2m8 0h2m23 0h2m23 0h2m8 0h2m18 0h2m3 0h2m3 0h2m3 0h2m13 0h2m8 0h2m8 0h2m8 0h2m8 0h2M855 876h2m8 0h2m18 0h2m8 0h2m13 0h2m3 0h2m3 0h2m23 0h2m8 0h2m8 0h2m8 0h2m3 0h2m3 0h2m18 0h2m8 0h2m8 0h2m8 0h2m8 0h2m8 0h2m8 0h2m38 0h2m8 0h2m8 0h2m18 0h2m8 0h2m18 0h2m28 0h2m8 0h2m3 0h2m3 0h2m38 0h2m8 0h2m8 0h2m58 0h2m38 0h2m38 0h2m8 0h2m8 0h2M855 881h2m3 0h2m3 0h2m3 0h2m8 0h2m8 0h2m8 0h2m3 0h2m3 0h2m8 0h2m13 0h2m3 0h2m8 0h2m3 0h2m3 0h2m8 0h2m3 0h2m3 0h2m3 0h2m3 0h2m8 0h2m8 0h2m3 0h2m8 0h2m3 0h2m8 0h2m3 0h2m3 0h2m8 0h2m8 0h2m8 0h2m3 0h2m3 0h2m8 0h2m18 0h2m3 0h2m3 0h2m8 0h2m3 0h2m3 0h2m8 0h2m3 0h2m3 0h2m3 0h2m13 0h2m8 0h2m3 0h2m3 0h2m3 0h2m3 0h2m8 0h2m8 0h2m3 0h2m3 0h2m3 0h2m3 0h2m8 0h2m8 0h2m8 0h2m18 0h2m8 0h2m8 0h2m8 0h2m8 0h2m8 0h2m8 0h2m18 0h2m8 0h2m8 0h2m8 0h2m8 0h2M860 886h2m13 0h2m3 0h2m3 0h2m18 0h2m8 0h2m8 0h2m13 0h2m3 0h2m3 0h2m3 0h2m18 0h2m18 0h2m8 0h2m8 0h2m28 0h2m18 0h2m18 0h2m8 0h2m8 0h2m8 0h2m3 0h2m13 0h2m8 0h2m8 0h2m8 0h2m13 0h2m13 0h2m8 0h2m8 0h2m8 0h2m3 0h2m13 0h2m8 0h2m8 0h2m18 0h2m28 0h2m18 0h2m18 0h2m8 0h2m8 0h2m38 0h2m18 0h2M860 891h2m8 0h2m3 0h2m3 0h2m8 0h2m3 0h2m3 0h2m8 0h2m8 0h2m8 0h2m8 0h2m8 0h2m8 0h2m3 0h2m3 0h2m8 0h2m3 0h2m3 0h2m18 0h2m8 0h2m3 0h2m3 0h2m8 0h2m8 0h2m3 0h2m3 0h2m3 0h2m3 0h2m8 0h2m8 0h2m8 0h2m3 0h2m3 0h2m3 0h2m3 0h2m3 0h2m3 0h2m8 0h2m3 0h2m3 0h2m8 0h2m8 0h2m8 0h2m8 0h2m8 0h2m8 0h2m8 0h2m8 0h2m8 0h2m3 0h2m3 0h2m3 0h2m3 0h2m3 0h2m23 0h2m8 0h2m8 0h2m3 0h2m18 0h2m3 0h2m8 0h2m8 0h2m3 0h2m3 0h2m8 0h2m8 0h2m8 0h2m3 0h2m3 0h2m3 0h2m3 0h2m8 0h2M875 896h2m3 0h2m3 0h2m8 0h2m8 0h2m28 0h2m8 0h2m8 0h2m3 0h2m3 0h2m8 0h2m8 0h2m18 0h2m18 0h2m8 0h2m18 0h2m18 0h2m8 0h2m38 0h2m8 0h2m28 0h2m8 0h2m8 0h2m8 0h2m8 0h2m8 0h2m8 0h2m3 0h2m3 0h2m8 0h2m3 0h2m3 0h2m8 0h2m8 0h2m8 0h2m28 0h2m8 0h2m8 0h2m3 0h2m23 0h2m18 0h2m8 0h2m8 0h2m3 0h2M880 901h2m8 0h2m8 0h2m3 0h2m3 0h2m3 0h2m18 0h2m3 0h2m8 0h2m8 0h2m8 0h2m8 0h2m8 0h2m3 0h2m3 0h2m13 0h2m3 0h2m8 0h2m8 0h2m8 0h2m13 0h2m3 0h2m3 0h2m13 0h2m3 0h2m3 0h2m8 0h2m8 0h2m8 0h2m3 0h2m13 0h2m3 0h2m3 0h2m8 0h2m8 0h2m8 0h2m18 0h2m8 0h2m8 0h2m8 0h2m8 0h2m8 0h2m3 0h2m3 0h2m8 0h2m3 0h2m3 0h2m3 0h2m3 0h2m18 0h2m3 0h2m3 0h2m8 0h2m3 0h2m3 0h2m3 0h2m3 0h2m13 0h2m3 0h2m3 0h2m3 0h2m8 0h2M890 906h2m13 0h2m8 0h2m8 0h2m18 0h2m8 0h2m28 0h2m8 0h2m8 0h2m8 0h2m8 0h2m18 0h2m8 0h2m8 0h2m8 0h2m8 0h2m8 0h2m8 0h2m18 0h2m8 0h2m28 0h2m18 0h2m13 0h2m3 0h2m8 0h2m8 0h2m18 0h2m8 0h2m28 0h2m8 0h2m18 0h2m8 0h2m8 0h2m8 0h2m3 0h2m3 0h2m8 0h2m18 0h2M880 911h2m8 0h2m8 0h2m8 0h2m3 0h2m3 0h2m8 0h2m8 0h2m8 0h2m8 0h2m3 0h2m3 0h2m3 0h2m3 0h2m3 0h2m8 0h2m3 0h2m13 0h2m3 0h2m3 0h2m3 0h2m8 0h2m8 0h2m8 0h2m3 0h2m3 0h2m8 0h2m13 0h2m3 0h2m3 0h2m3 0h2m8 0h2m3 0h2m3 0h2m8 0h2m8 0h2m3 0h2m3 0h2m8 0h2m3 0h2m3 0h2m8 0h2m3 0h2m3 0h2m8 0h2m18 0h2m8 0h2m8 0h2m8 0h2m8 0h2m8 0h2m8 0h2m18 0h2m8 0h2m8 0h2m8 0h2m8 0h2m3 0h2m3 0h2m8 0h2m3 0h2m3 0h2m8 0h2M905 916h2m3 0h2m3 0h2m8 0h2m8 0h2m3 0h2m3 0h2m8 0h2m8 0h2m3 0h2m13 0h2m8 0h2m3 0h2m3 0h2m18 0h2m18 0h2m8 0h2m48 0h2m3 0h2m3 0h2m8 0h2m8 0h2m8 0h2m8 0h2m18 0h2m3 0h2m3 0h2m23 0h2m13 0h2m3 0h2m3 0h2m3 0h2m13 0h2m8 0h2m18 0h2m8 0h2m18 0h2m8 0h2m8 0h2m3 0h2m3 0h2m3 0h2m8 0h2m13 0h2M920 921h2m3 0h2m3 0h2m3 0h2m3 0h2m3 0h2m3 0h2m8 0h2m8 0h2m8 0h2m8 0h2m8 0h2m3 0h2m3 0h2m3 0h2m3 0h2m8 0h2m3 0h2m13 0h2m3 0h2m13 0h2m8 0h2m3 0h2m3 0h2m3 0h2m3 0h2m8 0h2m8 0h2m3 0h2m3 0h2m3 0h2m3 0h2m3 0h2m8 0h2m3 0h2m3 0h2m3 0h2m3 0h2m3 0h2m3 0h2m3 0h2m13 0h2m3 0h2m8 0h2m8 0h2m8 0h2m3 0h2m3 0h2m18 0h2m18 0h2m3 0h2m8 0h2m3 0h2m3 0h2m3 0h2m18 0h2m8 0h2m3 0h2m3 0h2m3 0h2m3 0h2m8 0h2m8 0h2M915 926h2m3 0h2m3 0h2m18 0h2m8 0h2m3 0h2m3 0h2m8 0h2m18 0h2m8 0h2m8 0h2m8 0h2m3 0h2m3 0h2m8 0h2m18 0h2m18 0h2m8 0h2m8 0h2m8 0h2m8 0h2m8 0h2m3 0h2m3 0h2m8 0h2m8 0h2m8 0h2m13 0h2m3 0h2m8 0h2m3 0h2m3 0h2m8 0h2m3 0h2m3 0h2m8 0h2m18 0h2m8 0h2m8 0h2m8 0h2m8 0h2m8 0h2m8 0h2m8 0h2m3 0h2m3 0h2m8 0h2m28 0h2M920 931h2m3 0h2m8 0h2m3 0h2m3 0h2m3 0h2m8 0h2m3 0h2m3 0h2m3 0h2m3 0h2m8 0h2m8 0h2m3 0h2m3 0h2m3 0h2m3 0h2m3 0h2m3 0h2m8 0h2m3 0h2m13 0h2m3 0h2m3 0h2m8 0h2m8 0h2m8 0h2m13 0h2m3 0h2m3 0h2m3 0h2m3 0h2m3 0h2m8 0h2m3 0h2m13 0h2m3 0h2m3 0h2m8 0h2m3 0h2m3 0h2m3 0h2m3 0h2m8 0h2m8 0h2m8 0h2m8 0h2m3 0h2m3 0h2m8 0h2m8 0h2m3 0h2m3 0h2m3 0h2m8 0h2m3 0h2m3 0h2m3 0h2m8 0h2m13 0h2m3 0h2m8 0h2m3 0h2m3 0h2M925 936h2m8 0h2m3 0h2m3 0h2m3 0h2m8 0h2m3 0h2m8 0h2m8 0h2m18 0h2m8 0h2m8 0h2m8 0h2m8 0h2m8 0h2m8 0h2m28 0h2m13 0h2m13 0h2m8 0h2m8 0h2m38 0h2m3 0h2m3 0h2m8 0h2m8 0h2m8 0h2m8 0h2m3 0h2m3 0h2m8 0h2m3 0h2m3 0h2m3 0h2m3 0h2m8 0h2m18 0h2m8 0h2m8 0h2m8 0h2M930 941h2m8 0h2m3 0h2m3 0h2m8 0h2m8 0h2m8 0h2m18 0h2m3 0h2m3 0h2m3 0h2m3 0h2m3 0h2m3 0h2m8 0h2m8 0h2m8 0h2m8 0h2m8 0h2m3 0h2m3 0h2m8 0h2m8 0h2m3 0h2m3 0h2m8 0h2m3 0h2m3 0h2m3 0h2m3 0h2m8 0h2m3 0h2m3 0h2m8 0h2m3 0h2m3 0h2m8 0h2m3 0h2m3 0h2m3 0h2m3 0h2m8 0h2m8 0h2m3 0h2m3 0h2m8 0h2m8 0h2m8 0h2m3 0h2m3 0h2m18 0h2m8 0h2m18 0h2m8 0h2m8 0h2M955 946h2m3 0h2m3 0h2m13 0h2m3 0h2m8 0h2m8 0h2m8 0h2m8 0h2m3 0h2m3 0h2m23 0h2m3 0h2m18 0h2m28 0h2m38 0h2m18 0h2m8 0h2m28 0h2m8 0h2m3 0h2m3 0h2m3 0h2m3 0h2m8 0h2m23 0h2m3 0h2m8 0h2m8 0h2m23 0h2m13 0h2M945 951h2m3 0h2m13 0h2m3 0h2m3 0h2m3 0h2m8 0h2m8 0h2m8 0h2m3 0h2m3 0h2m8 0h2m18 0h2m8 0h2m8 0h2m8 0h2m8 0h2m3 0h2m3 0h2m3 0h2m3 0h2m8 0h2m8 0h2m3 0h2m3 0h2m8 0h2m3 0h2m3 0h2m3 0h2m3 0h2m3 0h2m3 0h2m3 0h2m3 0h2m8 0h2m8 0h2m3 0h2m3 0h2m3 0h2m3 0h2m3 0h2m3 0h2m8 0h2m3 0h2m3 0h2m8 0h2m13 0h2m3 0h2m8 0h2m3 0h2m3 0h2m3 0h2m8 0h2m3 0h2m8 0h2m3 0h2M955 956h2m8 0h2m38 0h2m8 0h2m3 0h2m3 0h2m8 0h2m28 0h2m8 0h2m3 0h2m13 0h2m3 0h2m3 0h2m3 0h2m13 0h2m8 0h2m18 0h2m18 0h2m8 0h2m8 0h2m28 0h2m18 0h2m8 0h2m13 0h2m8 0h2m3 0h2m3 0h2m3 0h2m3 0h2m3 0h2m8 0h2m18 0h2M960 961h2m8 0h2m3 0h2m13 0h2m3 0h2m3 0h2m3 0h2m3 0h2m8 0h2m3 0h2m8 0h2m3 0h2m8 0h2m8 0h2m8 0h2m8 0h2m3 0h2m3 0h2m8 0h2m8 0h2m8 0h2m3 0h2m3 0h2m8 0h2m8 0h2m18 0h2m18 0h2m8 0h2m3 0h2m3 0h2m3 0h2m3 0h2m8 0h2m3 0h2m3 0h2m3 0h2m3 0h2m3 0h2m3 0h2m3 0h2m3 0h2m3 0h2m3 0h2m3 0h2m13 0h2m3 0h2m13 0h2m8 0h2m3 0h2M965 966h2m8 0h2m8 0h2m3 0h2m3 0h2m18 0h2m3 0h2m3 0h2m8 0h2m18 0h2m3 0h2m3 0h2m8 0h2m8 0h2m8 0h2m8 0h2m38 0h2m13 0h2m3 0h2m28 0h2m3 0h2m3 0h2m23 0h2m3 0h2m8 0h2m3 0h2m3 0h2m8 0h2m8 0h2m8 0h2m28 0h2M970 971h2m3 0h2m3 0h2m8 0h2m8 0h2m3 0h2m3 0h2m8 0h2m8 0h2m8 0h2m3 0h2m3 0h2m3 0h2m3 0h2m8 0h2m8 0h2m8 0h2m3 0h2m3 0h2m3 0h2m3 0h2m8 0h2m8 0h2m3 0h2m3 0h2m8 0h2m3 0h2m3 0h2m3 0h2m3 0h2m3 0h2m3 0h2m3 0h2m3 0h2m8 0h2m3 0h2m3 0h2m8 0h2m8 0h2m3 0h2m3 0h2m3 0h2m3 0h2m8 0h2m3 0h2m3 0h2m8 0h2m8 0h2m8 0h2m8 0h2m8 0h2m8 0h2M985 976h2m8 0h2m8 0h2m8 0h2m8 0h2m8 0h2m8 0h2m3 0h2m3 0h2m18 0h2m8 0h2m8 0h2m8 0h2m8 0h2m3 0h2m3 0h2m18 0h2m28 0h2m8 0h2m8 0h2m8 0h2m8 0h2m3 0h2m13 0h2m8 0h2m13 0h2m33 0h2m3 0h2m3 0h2m8 0h2M985 981h2m3 0h2m3 0h2m3 0h2m3 0h2m3 0h2m3 0h2m3 0h2m3 0h2m3 0h2m8 0h2m8 0h2m3 0h2m3 0h2m8 0h2m3 0h2m3 0h2m3 0h2m3 0h2m8 0h2m8 0h2m3 0h2m3 0h2m8 0h2m3 0h2m13 0h2m3 0h2m3 0h2m8 0h2m3 0h2m3 0h2m8 0h2m3 0h2m3 0h2m3 0h2m3 0h2m3 0h2m3 0h2m3 0h2m3 0h2m3 0h2m3 0h2m3 0h2m3 0h2m18 0h2m3 0h2m3 0h2m8 0h2m3 0h2m3 0h2m3 0h2m3 0h2M1012 983h2m88 0h2M995 986h2m8 0h2m3 0h2m8 0h2m3 0h2m8 0h2m8 0h2m28 0h2m18 0h2m18 0h2m8 0h2m8 0h2m8 0h2m18 0h2m18 0h2m18 0h2m28 0h2m8 0h2m3 0h2m3 0h2m18 0h2m8 0h2m8 0h2M990 991h2m8 0h2m3 0h2m3 0h2m3 0h2m3 0h2m8 0h2m3 0h2m3 0h2m3 0h2m3 0h2m8 0h2m8 0h2m3 0h2m3 0h2m3 0h2m3 0h2m3 0h2m3 0h2m8 0h2m8 0h2m3 0h2m3 0h2m3 0h2m3 0h2m8 0h2m3 0h2m8 0h2m3 0h2m3 0h2m3 0h2m3 0h2m3 0h2m8 0h2m8 0h2m8 0h2m8 0h2m8 0h2m3 0h2m3 0h2m8 0h2m3 0h2m3 0h2m8 0h2m3 0h2m3 0h2m3 0h2M1005 996h2m8 0h2m8 0h2m8 0h2m8 0h2m3 0h2m3 0h2m8 0h2m8 0h2m8 0h2m18 0h2m8 0h2m8 0h2m8 0h2m23 0h2m3 0h2m8 0h2m18 0h2m18 0h2m8 0h2m18 0h2m8 0h2m18 0h2m8 0h2M1010 1001h2m3 0h2m3 0h2m3 0h2m13 0h2m3 0h2m8 0h2m3 0h2m3 0h2m3 0h2m8 0h2m8 0h2m3 0h2m3 0h2m8 0h2m8 0h2m3 0h2m3 0h2m3 0h2m3 0h2m3 0h2m8 0h2m13 0h2m8 0h2m8 0h2m8 0h2m3 0h2m13 0h2m8 0h2m3 0h2m3 0h2m8 0h2m3 0h2m3 0h2m18 0h2M1102 1003h2M1015 1006h2m8 0h2m8 0h2m8 0h2m8 0h2m8 0h2m3 0h2m8 0h2m3 0h2m8 0h2m8 0h2m8 0h2m8 0h2m3 0h2m3 0h2m8 0h2m18 0h2m8 0h2m8 0h2m8 0h2m18 0h2m8 0h2m8 0h2m8 0h2m8 0h2m8 0h2M1020 1011h2m3 0h2m3 0h2m3 0h2m3 0h2m8 0h2m8 0h2m8 0h2m8 0h2m3 0h2m3 0h2m3 0h2m3 0h2m3 0h2m3 0h2m8 0h2m8 0h2m3 0h2m3 0h2m8 0h2m3 0h2m3 0h2m3 0h2m3 0h2m3 0h2m3 0h2m8 0h2m8 0h2m8 0h2m8 0h2m3 0h2m13 0h2m3 0h2m3 0h2m8 0h2m3 0h2m3 0h2m8 0h2M1032 1013h2m28 0h2m8 0h2m38 0h2M1030 1016h2m3 0h2m3 0h2m3 0h2m3 0h2m3 0h2m3 0h2m3 0h2m3 0h2m3 0h2m3 0h2m3 0h2m3 0h2m3 0h2m3 0h2m3 0h2m8 0h2m3 0h2m3 0h2m3 0h2m3 0h2m3 0h2m3 0h2m8 0h2m8 0h2m3 0h2m3 0h2m3 0h2m3 0h2m8 0h2m3 0h2m23 0h2m8 0h2m8 0h2m8 0h2m8 0h2M1030 1021h2m8 0h2m8 0h2m3 0h2m3 0h2m3 0h2m3 0h2m3 0h2m3 0h2m3 0h2m3 0h2m8 0h2m3 0h2m3 0h2m3 0h2m3 0h2m3 0h2m3 0h2m3 0h2m3 0h2m3 0h2m3 0h2m3 0h2m3 0h2m3 0h2m3 0h2m3 0h2m3 0h2m3 0h2m3 0h2m8 0h2m8 0h2m8 0h2m3 0h2m3 0h2m3 0h2m3 0h2m3 0h2m3 0h2m3 0h2m3 0h2M1062 1023h2m28 0h2m8 0h2m18 0h2m18 0h2m18 0h2m18 0h2m18 0h2m28 0h2m18 0h2M1040 1026h2m3 0h2m8 0h2m8 0h2m8 0h2m3 0h2m3 0h2m8 0h2m8 0h2m3 0h2m3 0h2m3 0h2m3 0h2m3 0h2m3 0h2m3 0h2m3 0h2m8 0h2m3 0h2m3 0h2m8 0h2m8 0h2m13 0h2m3 0h2m3 0h2m13 0h2m3 0h2m3 0h2m3 0h2m3 0h2m3 0h2m3 0h2M1067 1028h2M1040 1031h2m3 0h2m3 0h2m8 0h2m3 0h2m3 0h2m3 0h2m3 0h2m8 0h2m3 0h2m3 0h2m3 0h2m3 0h2m3 0h2m3 0h2m3 0h2m3 0h2m8 0h2m3 0h2m3 0h2m3 0h2m3 0h2m3 0h2m3 0h2m3 0h2m3 0h2m3 0h2m3 0h2m3 0h2m3 0h2m3 0h2m3 0h2m3 0h2m3 0h2m3 0h2m3 0h2m3 0h2m3 0h2m3 0h2m3 0h2M1082 1033h2m48 0h2m18 0h2m8 0h2m8 0h2m8 0h2m8 0h2M1055 1036h2m8 0h2m8 0h2m8 0h2m3 0h2m3 0h2m3 0h2m3 0h2m3 0h2m3 0h2m3 0h2m3 0h2m3 0h2m3 0h2m3 0h2m3 0h2m3 0h2m3 0h2m3 0h2m3 0h2m3 0h2m3 0h2m3 0h2m3 0h2m3 0h2m3 0h2m8 0h2m3 0h2m3 0h2m3 0h2m3 0h2m3 0h2m3 0h2M1077 1038h2m78 0h2m38 0h2M1060 1041h2m3 0h2m3 0h2m3 0h2m3 0h2m3 0h2m3 0h2m3 0h2m3 0h2m3 0h2m3 0h2m3 0h2m3 0h2m3 0h2m3 0h2m3 0h2m3 0h2m3 0h2m3 0h2m3 0h2m3 0h2m3 0h2m3 0h2m3 0h2m3 0h2m3 0h2m3 0h2m3 0h2m3 0h2m3 0h2m3 0h2m3 0h2m3 0h2m8 0h2m3 0h2M1082 1043h2m8 0h2m8 0h2m18 0h2m8 0h2m8 0h2m28 0h2m18 0h2m28 0h2m8 0h2M1065 1046h2m3 0h2m3 0h2m3 0h2m3 0h2m3 0h2m3 0h2m8 0h2m3 0h2m3 0h2m3 0h2m3 0h2m3 0h2m3 0h2m3 0h2m3 0h2m8 0h2m3 0h2m3 0h2m3 0h2m3 0h2m3 0h2m3 0h2m3 0h2m3 0h2m3 0h2m3 0h2m3 0h2m3 0h2m3 0h2m3 0h2m3 0h2M1067 1048h2m8 0h2m78 0h2m18 0h2M1070 1051h2m3 0h2m3 0h2m3 0h2m3 0h2m3 0h2m3 0h2m3 0h2m3 0h2m3 0h2m3 0h2m3 0h2m3 0h2m3 0h2m3 0h2m3 0h2m3 0h2m3 0h2m3 0h2m3 0h2m3 0h2m3 0h2m3 0h2m3 0h2m3 0h2m3 0h2m3 0h2m3 0h2m3 0h2m3 0h2m3 0h2m3 0h2M1072 1053h2m8 0h2m8 0h2m18 0h2m8 0h2m3 0h2m8 0h2m3 0h2m18 0h2m3 0h2m3 0h2m8 0h2m8 0h2m8 0h2M1075 1056h2m3 0h2m3 0h2m3 0h2m3 0h2m8 0h2m3 0h2m3 0h2m3 0h2m3 0h2m3 0h2m3 0h2m3 0h2m3 0h2m3 0h2m3 0h2m3 0h2m3 0h2m3 0h2m3 0h2m3 0h2m3 0h2m3 0h2m3 0h2m3 0h2m3 0h2m3 0h2m3 0h2M1097 1058h2m3 0h2m33 0h2m8 0h2m8 0h2M1080 1061h2m3 0h2m3 0h2m3 0h2m3 0h2m3 0h2m3 0h2m3 0h2m3 0h2m3 0h2m3 0h2m3 0h2m3 0h2m3 0h2m3 0h2m3 0h2m3 0h2m3 0h2m3 0h2m3 0h2m3 0h2m3 0h2m3 0h2m3 0h2m3 0h2m3 0h2m3 0h2m8 0h2M1082 1063h2m3 0h2m8 0h2m13 0h2m3 0h2m3 0h2m8 0h2m8 0h2m8 0h2m3 0h2m3 0h2m3 0h2m3 0h2m3 0h2m3 0h2m8 0h2M1080 1066h2m3 0h2m3 0h2m3 0h2m3 0h2m3 0h2m3 0h2m3 0h2m3 0h2m3 0h2m3 0h2m3 0h2m3 0h2m3 0h2m3 0h2m3 0h2m3 0h2m3 0h2m3 0h2m3 0h2m3 0h2m3 0h2m3 0h2m3 0h2m3 0h2m3 0h2m8 0h2M1087 1068h2m8 0h2m8 0h2m3 0h2m3 0h2m3 0h2m3 0h2m3 0h2m3 0h2m3 0h2m3 0h2m3 0h2m3 0h2m8 0h2m8 0h2m8 0h2m3 0h2m13 0h2M1085 1071h2m3 0h2m3 0h2m3 0h2m3 0h2m3 0h7m3 0h7m3 0h2m3 0h2m3 0h2m3 0h2m3 0h2m3 0h2m3 0h2m3 0h2m3 0h2m3 0h2m3 0h2m3 0h2m3 0h2m3 0h2m3 0h2m3 0h2M1092 1073h2m8 0h2m3 0h2m3 0h2m8 0h2m3 0h2m3 0h2m3 0h2m3 0h2m3 0h2m3 0h2m3 0h2m3 0h2m3 0h2m3 0h2m8 0h2m3 0h2m3 0h2m8 0h2M1090 1076h2m3 0h2m3 0h2m3 0h2m3 0h2m3 0h2m3 0h2m3 0h7m3 0h2m3 0h2m3 0h2m3 0h2m3 0h7m3 0h2m3 0h2m3 0h2m3 0h2m3 0h2m3 0h2m3 0h2m3 0h2M1092 1078h2m3 0h2m8 0h2m3 0h2m3 0h2m3 0h2m3 0h2m3 0h2m3 0h2m8 0h2m3 0h2m3 0h2m3 0h2m3 0h2m3 0h2m3 0h2m3 0h2m3 0h2M1092 1081h5m3 0h2m3 0h2m3 0h2m3 0h2m3 0h7m3 0h2m3 0h2m3 0h7m3 0h2m3 0h2m3 0h7m3 0h2m3 0h2m3 0h2m3 0h2m3 0h2m3 0h2m3 0h2M1092 1083h2m3 0h2m3 0h2m3 0h2m3 0h2m3 0h2m3 0h2m3 0h2m3 0h2m3 0h2m3 0h2m3 0h2m3 0h2m3 0h2m3 0h2m3 0h2m3 0h2m3 0h2m3 0h2m3 0h2m3 0h2M1095 1086h2m3 0h2m3 0h2m3 0h2m3 0h7m3 0h2m3 0h2m3 0h2m3 0h2m3 0h2m3 0h2m3 0h7m3 0h2m3 0h2m3 0h7m3 0h2m3 0h2m3 0h2M1097 1088h2m8 0h2m3 0h2m3 0h2m3 0h2m3 0h2m3 0h2m3 0h2m3 0h2m3 0h2m3 0h2m3 0h2m3 0h2m3 0h2m3 0h2m3 0h2m3 0h2m3 0h2M1100 1091h7m3 0h27m3 0h17m3 0h17m3 0h2m3 0h2m3 0h2m3 0h2M1102 1093h2m3 0h2m3 0h2m3 0h2m3 0h2m3 0h2m3 0h2m3 0h2m3 0h2m3 0h2m3 0h2m3 0h2m3 0h2m3 0h2m3 0h2m3 0h2m3 0h2m3 0h2m3 0h2M1100 1096h2m3 0h7m3 0h2m3 0h2m3 0h2m3 0h7m3 0h2m3 0h7m3 0h2m3 0h2m3 0h2m3 0h2m3 0h2m3 0h2m3 0h2m3 0h2M1102 1098h2m3 0h2m3 0h2m3 0h2m3 0h2m3 0h2m3 0h2m3 0h2m3 0h2m3 0h2m3 0h2m3 0h2m3 0h2m3 0h2m3 0h2m3 0h2m3 0h2m3 0h2M1100 1101h2m3 0h2m3 0h17m3 0h7m3 0h7m3 0h7m3 0h7m3 0h7m3 0h2m3 0h2m3 0h2M1102 1103h2m3 0h2m3 0h2m3 0h2m3 0h2m3 0h2m3 0h2m3 0h2m3 0h2m3 0h2m3 0h2m3 0h2m3 0h2m3 0h2m3 0h2m3 0h2m3 0h2m3 0h2M1100 1106h2m3 0h2m3 0h2m3 0h17m3 0h7m3 0h7m3 0h7m3 0h7m3 0h7m3 0h2m3 0h2M1102 1108h2m3 0h2m3 0h2m3 0h2m3 0h2m3 0h2m3 0h2m3 0h2m3 0h2m3 0h2m3 0h2m3 0h2m3 0h2m3 0h2m3 0h2m3 0h2m3 0h2m3 0h2M1100 1111h2m3 0h2m3 0h7m3 0h17m3 0h7m3 0h7m3 0h7m3 0h22M1102 1113h2m3 0h2m3 0h2m3 0h2m3 0h2m3 0h2m3 0h2m3 0h2m3 0h2m3 0h2m3 0h2m3 0h2m3 0h2m3 0h2m3 0h2m3 0h2m3 0h2m3 0h2M1100 1116h2m3 0h7m3 0h7m3 0h7m3 0h7m3 0h2m3 0h2m3 0h7m3 0h7m3 0h7m3 0h2m3 0h2M1102 1118h2m3 0h2m3 0h2m3 0h2m3 0h2m3 0h2m3 0h2m3 0h2m3 0h2m3 0h2m3 0h2m3 0h2m3 0h2m3 0h2m3 0h2m3 0h2m3 0h2m3 0h2M1100 1121h7m3 0h7m3 0h7m3 0h17m3 0h2m3 0h2m3 0h2m3 0h12m3 0h12M1102 1123h2m3 0h2m3 0h2m3 0h2m3 0h2m3 0h2m3 0h2m3 0h2m3 0h2m3 0h2m3 0h2m3 0h2m3 0h2m3 0h2m3 0h2m3 0h2m3 0h2m3 0h2M1100 1126h2m3 0h2m3 0h2m3 0h7m3 0h7m3 0h2m3 0h2m3 0h7m3 0h7m3 0h2m3 0h2m3 0h2m3 0h2m3 0h2m3 0h2M1102 1128h2m3 0h2m8 0h2m3 0h2m3 0h2m8 0h2m3 0h2m3 0h2m8 0h2m3 0h2m3 0h2m3 0h2m3 0h2m3 0h2m3 0h2M1100 1131h7m3 0h7m3 0h7m3 0h7m3 0h7m3 0h2m3 0h2m3 0h17m3 0h2m3 0h2m3 0h2M1102 1133h2m3 0h2m3 0h2m3 0h2m3 0h2m3 0h2m3 0h2m3 0h2m3 0h2m3 0h2m3 0h2m3 0h2m3 0h2m3 0h2m3 0h2m3 0h2m3 0h2m3 0h2m3 0h2M1100 1136h2m3 0h2m3 0h2m3 0h2m3 0h2m3 0h7m3 0h7m3 0h2m3 0h2m3 0h2m3 0h2m3 0h2m3 0h2m3 0h2m3 0h2m3 0h7M1102 1138h2m3 0h2m8 0h2m8 0h2m3 0h2m3 0h2m3 0h2m3 0h2m3 0h2m3 0h2m3 0h2m3 0h2m3 0h2m3 0h2m3 0h2m3 0h2M1100 1141h2m3 0h2m3 0h2m3 0h2m3 0h2m3 0h2m3 0h7m3 0h2m3 0h2m3 0h2m3 0h2m3 0h7m3 0h2m3 0h2m3 0h7m3 0h2M1102 1143h2m3 0h2m3 0h2m8 0h2m8 0h2m3 0h2m3 0h2m3 0h2m3 0h2m3 0h2m3 0h2m3 0h2m3 0h2m3 0h2m3 0h2m3 0h2m3 0h2M1100 1146h2m3 0h2m3 0h2m3 0h2m3 0h2m3 0h2m3 0h2m3 0h2m3 0h2m3 0h7m3 0h7m3 0h2m3 0h2m3 0h2m3 0h2m3 0h2m3 0h2M1107 1148h2m8 0h2m8 0h2m8 0h2m3 0h2m3 0h2m3 0h2m3 0h2m3 0h2m3 0h2m8 0h2m3 0h2m3 0h2M1100 1151h2m3 0h2m3 0h2m3 0h2m3 0h2m3 0h2m3 0h2m3 0h2m3 0h2m3 0h2m3 0h7m3 0h2m3 0h2m3 0h2m3 0h2m3 0h2m3 0h2m3 0h2M1102 1153h2m8 0h2m3 0h2m3 0h2m3 0h2m3 0h2m8 0h2m3 0h2m3 0h2m3 0h2m3 0h2m3 0h2m3 0h2m8 0h2m3 0h2m3 0h2M1100 1156h2m3 0h2m3 0h2m3 0h2m3 0h2m3 0h2m3 0h2m3 0h2m3 0h2m3 0h2m3 0h2m3 0h2m3 0h2m3 0h2m3 0h2m3 0h2m3 0h2m3 0h2m3 0h2M1102 1158h2m3 0h2m8 0h2m3 0h2m3 0h2m3 0h2m3 0h2m8 0h2m8 0h2m3 0h2m3 0h2m3 0h2m3 0h2m8 0h2M1100 1161h2m3 0h2m3 0h2m3 0h2m3 0h2m3 0h2m3 0h2m3 0h2m3 0h2m3 0h2m3 0h2m3 0h2m3 0h2m3 0h2m3 0h2m3 0h2m3 0h2m3 0h2m3 0h2M1102 1163h2m3 0h2m3 0h2m3 0h2m3 0h2m3 0h2m3 0h2m3 0h2m3 0h2m8 0h2m3 0h2m3 0h2m8 0h2m8 0h2m8 0h2M1100 1166h2m3 0h2m3 0h2m3 0h2m3 0h2m3 0h2m3 0h2m3 0h2m3 0h2m3 0h2m3 0h2m3 0h2m3 0h2m3 0h2m3 0h2m3 0h2m3 0h2m3 0h2m3 0h2M1117 1168h2m8 0h2m8 0h2m8 0h2m8 0h2m3 0h2m3 0h2m3 0h2m3 0h2m3 0h2m3 0h2M1100 1171h2m3 0h2m3 0h2m3 0h2m3 0h2m3 0h2m3 0h2m3 0h2m3 0h2m3 0h2m3 0h2m3 0h2m3 0h7m3 0h2m3 0h2m3 0h2m3 0h2m3 0h2M1102 1173h2m18 0h2m8 0h2m3 0h2m3 0h2m8 0h2m8 0h2m8 0h2m3 0h2m3 0h2m3 0h2m3 0h2M1100 1176h2m3 0h2m3 0h2m3 0h2m3 0h2m3 0h2m3 0h2m3 0h2m3 0h2m3 0h2m3 0h2m3 0h2m3 0h2m3 0h2m3 0h2m3 0h2m3 0h2m3 0h2m3 0h2M1127 1178h2m18 0h2m8 0h2m8 0h2m8 0h2m8 0h2M1100 1181h2m3 0h2m3 0h2m3 0h2m3 0h2m3 0h2m3 0h2m3 0h2m3 0h2m3 0h2m3 0h2m3 0h2m3 0h7m3 0h2m3 0h2m3 0h2m3 0h2m3 0h4M1102 1183h2m3 0h2m3 0h2m3 0h2m3 0h2m8 0h2m3 0h2m3 0h2m3 0h2m3 0h2m3 0h2m13 0h2m8 0h2m8 0h2M1100 1186h2m3 0h2m3 0h2m3 0h2m3 0h2m3 0h2m3 0h2m3 0h2m3 0h2m3 0h2m3 0h2m3 0h2m3 0h2m3 0h2m3 0h2m3 0h2m3 0h2m3 0h2m3 0h2M1137 1188h2m8 0h2m8 0h2m3 0h2m3 0h2m8 0h2m8 0h2M1100 1191h2m3 0h2m3 0h2m3 0h2m3 0h2m3 0h2m3 0h2m3 0h2m3 0h2m3 0h2m3 0h2m3 0h2m3 0h2m3 0h2m3 0h2m3 0h2m3 0h2m3 0h2m3 0h2M1102 1193h2m8 0h2m8 0h2m8 0h2m3 0h2m3 0h2m3 0h2m3 0h2m18 0h2m8 0h2m8 0h2M1100 1196h2m3 0h2m3 0h2m3 0h2m3 0h2m3 0h2m3 0h2m3 0h2m3 0h2m3 0h2m3 0h2m3 0h2m3 0h2m3 0h2m3 0h2m3 0h2m3 0h2m3 0h2m3 0h2M1117 1198h2m8 0h2m3 0h2m3 0h2m8 0h2m3 0h2m3 0h2m18 0h2m3 0h2M1100 1201h2m3 0h2m3 0h2m3 0h2m3 0h2m3 0h2m3 0h2m3 0h2m3 0h2m3 0h2m3 0h2m3 0h2m3 0h2m3 0h2m3 0h2m3 0h2m3 0h2m3 0h2m3 0h2M1102 1203h2m3 0h2m3 0h2m3 0h2m8 0h2m3 0h2m8 0h2m3 0h2m3 0h2m3 0h2m13 0h2m3 0h2m3 0h2m3 0h2m3 0h2M1100 1206h2m3 0h2m3 0h2m3 0h2m3 0h2m3 0h2m3 0h2m3 0h2m3 0h2m3 0h2m3 0h2m3 0h2m3 0h2m3 0h2m3 0h2m3 0h2m3 0h2m3 0h2m3 0h2m3 0h2M1107 1208h2m28 0h2m3 0h2m13 0h2m8 0h2m3 0h2m3 0h2m13 0h2M1100 1211h2m3 0h2m3 0h2m3 0h2m3 0h2m3 0h2m3 0h2m3 0h2m3 0h2m3 0h2m3 0h2m3 0h2m3 0h2m3 0h2m3 0h2m3 0h2m3 0h2m3 0h2m3 0h2M1102 1213h2m8 0h2m3 0h2m3 0h2m8 0h2m8 0h2m13 0h2m3 0h2m3 0h2m3 0h2m3 0h2m3 0h2m8 0h2M1100 1216h2m3 0h2m3 0h2m3 0h2m3 0h2m3 0h2m3 0h2m3 0h2m3 0h2m3 0h2m3 0h2m3 0h2m3 0h2m3 0h2m3 0h2m3 0h2m3 0h2m3 0h2m3 0h2M1097 1218h2m18 0h2m18 0h2m18 0h2m28 0h2M1100 1221h2m3 0h2m3 0h2m3 0h2m3 0h2m3 0h2m3 0h2m3 0h2m3 0h2m3 0h2m3 0h2m3 0h2m3 0h2m3 0h2m3 0h2m3 0h2m3 0h2m3 0h2m3 0h2M1102 1223h2m8 0h2m18 0h2m8 0h2m8 0h2m13 0h2m3 0h2m8 0h2m3 0h2m3 0h2M1100 1226h2m3 0h2m3 0h2m3 0h2m3 0h2m3 0h2m3 0h2m3 0h2m3 0h2m3 0h2m3 0h2m3 0h2m3 0h2m3 0h2m3 0h2m3 0h2m3 0h2m3 0h2m3 0h2M1127 1228h2m28 0h2m18 0h2m8 0h2m3 0h2M1100 1231h2m3 0h2m3 0h2m3 0h2m3 0h2m3 0h2m3 0h2m3 0h2m3 0h2m3 0h2m3 0h2m3 0h2m3 0h2m3 0h2m3 0h2m3 0h2m3 0h2m3 0h2m3 0h2m3 0h2M1107 1233h2m3 0h2m28 0h2m8 0h2m8 0h2m8 0h2m8 0h2m3 0h2m3 0h2M1095 1236h2m3 0h2m3 0h2m3 0h2m3 0h2m3 0h2m3 0h2m3 0h2m3 0h2m3 0h2m3 0h2m3 0h2m3 0h2m3 0h2m3 0h2m3 0h2m3 0h2m3 0h2m3 0h2m3 0h2m3 0h2M1097 1238h2m18 0h2m3 0h2m13 0h2m8 0h2m8 0h2m8 0h2m3 0h2m13 0h2M1100 1241h2m3 0h2m3 0h2m3 0h2m3 0h2m3 0h2m3 0h2m3 0h2m3 0h2m3 0h2m3 0h2m3 0h2m3 0h2m3 0h2m3 0h2m3 0h2m3 0h2m3 0h2m3 0h2m3 0h2M1097 1243h2m3 0h2m8 0h2m3 0h2m3 0h2m8 0h2m3 0h2m8 0h2m3 0h2m3 0h2m3 0h2m8 0h2m3 0h2m3 0h2m8 0h2M1100 1246h2m3 0h2m3 0h2m3 0h2m3 0h2m3 0h2m3 0h2m3 0h2m3 0h2m3 0h2m3 0h2m3 0h2m3 0h2m3 0h2m3 0h2m3 0h2m3 0h2m3 0h2m3 0h2m3 0h2M1107 1248h2m8 0h2m8 0h2m8 0h2m8 0h2m3 0h2m3 0h2m18 0h2m8 0h2M1095 1251h2m3 0h2m3 0h2m3 0h2m3 0h2m3 0h2m3 0h2m3 0h2m3 0h2m3 0h2m3 0h2m3 0h2m3 0h2m3 0h2m3 0h2m3 0h2m3 0h2m3 0h2m3 0h2m3 0h2m3 0h2M1107 1253h2m3 0h2m3 0h2m3 0h2m3 0h2m3 0h2m8 0h2m3 0h2m3 0h2m8 0h2m8 0h2m8 0h2m8 0h2M1095 1256h2m3 0h2m3 0h2m3 0h2m3 0h2m3 0h2m3 0h2m3 0h2m3 0h2m3 0h2m3 0h2m3 0h2m3 0h2m3 0h2m3 0h2m3 0h2m3 0h2m3 0h2m3 0h2m3 0h2m3 0h2M1107 1258h2m3 0h2m3 0h2m8 0h2m8 0h2m3 0h2m3 0h2m3 0h2m3 0h2m8 0h2m8 0h2M1095 1261h2m3 0h2m3 0h2m3 0h2m3 0h2m3 0h2m3 0h2m3 0h2m3 0h2m3 0h2m3 0h2m3 0h7m3 0h2m3 0h2m3 0h2m3 0h2m3 0h2m3 0h2m3 0h2m3 0h2M1102 1263h2m8 0h2m3 0h2m3 0h2m8 0h2m3 0h2m3 0h2m8 0h2m3 0h2m3 0h2m8 0h2m3 0h2m3 0h2m3 0h2m3 0h2M1095 1266h2m3 0h2m3 0h2m3 0h2m3 0h2m3 0h2m3 0h2m3 0h2m3 0h2m3 0h2m3 0h2m3 0h2m3 0h2m3 0h2m3 0h2m3 0h2m3 0h2m3 0h2m3 0h2m3 0h2m3 0h2M1097 1268h2m13 0h2m3 0h2m8 0h2m8 0h2m8 0h2m3 0h2m3 0h2m8 0h2m8 0h2m3 0h2M1095 1271h2m3 0h2m3 0h2m3 0h2m3 0h2m3 0h2m3 0h2m3 0h2m3 0h2m3 0h2m3 0h2m3 0h2m3 0h2m3 0h2m3 0h2m3 0h7m3 0h2m3 0h2m3 0h2m3 0h2M1112 1273h2m3 0h2m3 0h2m3 0h2m3 0h2m3 0h2m3 0h2m3 0h2m3 0h2m8 0h2m8 0h2m3 0h2m3 0h2m8 0h2m3 0h2M1095 1276h2m3 0h2m3 0h2m3 0h2m3 0h2m3 0h2m3 0h2m3 0h2m3 0h2m3 0h2m3 0h2m3 0h2m3 0h2m3 0h2m3 0h2m3 0h2m3 0h2m3 0h2m3 0h2m3 0h2m3 0h2M1112 1278h2m23 0h2m8 0h2m8 0h2m8 0h2m8 0h2m8 0h2m3 0h2m3 0h2M1090 1281h2m3 0h2m3 0h2m3 0h2m3 0h2m3 0h2m3 0h2m3 0h2m3 0h2m3 0h2m3 0h2m3 0h2m3 0h2m3 0h2m3 0h2m3 0h2m3 0h2m3 0h2m3 0h2m3 0h2m3 0h2m3 0h2M1102 1283h2m3 0h2m3 0h2m3 0h2m3 0h2m3 0h2m3 0h2m8 0h2m8 0h2m3 0h2m3 0h2m3 0h2m3 0h2m8 0h2m8 0h2m3 0h2M1095 1286h2m3 0h2m3 0h2m3 0h2m3 0h2m3 0h2m3 0h2m3 0h2m3 0h2m3 0h2m3 0h2m3 0h2m3 0h2m3 0h2m3 0h2m3 0h2m3 0h2m3 0h2m3 0h2m3 0h2m3 0h2M1107 1288h2m3 0h2m3 0h2m8 0h2m8 0h2m8 0h2m8 0h2m8 0h2m3 0h2m13 0h2M1095 1291h2m3 0h2m3 0h2m3 0h2m3 0h2m3 0h2m3 0h2m3 0h2m3 0h2m3 0h2m3 0h2m3 0h2m3 0h2m3 0h2m3 0h2m3 0h2m3 0h2m3 0h2m3 0h2m3 0h2m3 0h2M1092 1293h2m8 0h2m8 0h2m8 0h2m3 0h2m3 0h2m8 0h2m3 0h2m3 0h2m3 0h2m3 0h2m3 0h2m3 0h2m8 0h2m3 0h2m3 0h2M1090 1296h2m3 0h2m3 0h2m3 0h2m3 0h2m3 0h2m3 0h2m3 0h2m3 0h2m3 0h2m3 0h2m3 0h2m3 0h2m3 0h2m3 0h2m3 0h2m3 0h2m3 0h2m3 0h2m3 0h2m3 0h2m3 0h2m3 0h2M1092 1298h2m3 0h2m8 0h2m3 0h2m3 0h2m8 0h2m8 0h2m18 0h2m8 0h2m3 0h2m3 0h2m8 0h2m3 0h2m3 0h2M1090 1301h2m3 0h2m3 0h2m3 0h2m3 0h2m3 0h2m3 0h2m3 0h2m3 0h2m3 0h2m3 0h2m3 0h2m3 0h2m3 0h2m3 0h7m3 0h2m3 0h2m3 0h2m3 0h2m3 0h2m3 0h2m3 0h2M1092 1303h2m8 0h2m8 0h2m3 0h2m3 0h2m8 0h2m8 0h2m8 0h2m3 0h2m3 0h2m3 0h2m3 0h2m3 0h2m3 0h2m3 0h2m3 0h2m3 0h2M1090 1306h2m3 0h2m3 0h2m3 0h2m3 0h2m3 0h2m3 0h2m3 0h2m3 0h2m3 0h2m3 0h2m3 0h2m3 0h2m3 0h2m3 0h2m3 0h2m3 0h2m3 0h2m3 0h2m3 0h2m3 0h2m3 0h2m3 0h2M1087 1308h2m18 0h2m3 0h2m3 0h2m8 0h2m3 0h2m3 0h2m8 0h2m3 0h2m3 0h2m3 0h2m3 0h2m3 0h2m3 0h2m8 0h2m8 0h2M1090 1311h2m3 0h2m3 0h2m3 0h2m3 0h2m3 0h2m3 0h2m3 0h2m3 0h2m3 0h2m3 0h2m3 0h2m3 0h2m3 0h2m3 0h2m3 0h2m3 0h2m3 0h2m3 0h2m3 0h2m3 0h2m3 0h2m3 0h2M1092 1313h2m3 0h2m3 0h2m3 0h2m3 0h2m8 0h2m8 0h2m8 0h2m8 0h2m3 0h2m3 0h2m8 0h2m3 0h2m3 0h2m3 0h2m3 0h2m8 0h2M1090 1316h2m3 0h2m3 0h2m3 0h2m3 0h2m3 0h2m3 0h2m3 0h2m3 0h2m3 0h2m3 0h2m3 0h2m3 0h2m3 0h2m3 0h2m3 0h2m3 0h2m3 0h2m3 0h2m3 0h2m3 0h2m3 0h2m3 0h2M1097 1318h2m13 0h2m3 0h2m8 0h2m8 0h2m3 0h2m13 0h2m8 0h2m8 0h2m8 0h2m8 0h2M1085 1321h2m3 0h2m3 0h2m3 0h2m3 0h2m3 0h2m3 0h2m3 0h2m3 0h2m3 0h2m3 0h2m3 0h2m3 0h2m3 0h2m3 0h2m3 0h2m3 0h2m3 0h2m3 0h2m3 0h2m3 0h2m3 0h2m3 0h2m3 0h2m3 0h2M1102 1323h2m8 0h2m8 0h2m8 0h2m3 0h2m3 0h2m3 0h2m3 0h2m3 0h2m3 0h2m8 0h2m8 0h2m3 0h2m3 0h2m3 0h2m3 0h2M1085 1326h2m3 0h2m3 0h2m3 0h2m3 0h2m3 0h2m3 0h2m3 0h2m3 0h2m3 0h2m3 0h2m3 0h2m3 0h2m3 0h2m3 0h2m3 0h2m3 0h2m3 0h2m3 0h2m3 0h2m3 0h2m3 0h2m3 0h2m3 0h2m3 0h2M1087 1328h2m8 0h2m18 0h2m8 0h2m18 0h2m8 0h2m18 0h2M1085 1331h2m3 0h2m3 0h2m3 0h2m3 0h2m3 0h2m3 0h2m3 0h2m3 0h2m3 0h2m3 0h2m3 0h2m3 0h2m3 0h2m3 0h2m3 0h2m3 0h2m3 0h2m3 0h2m3 0h2m3 0h2m3 0h2m3 0h2m3 0h2m3 0h2M1087 1333h2m3 0h2m8 0h2m8 0h2m3 0h2m3 0h2m3 0h2m3 0h2m3 0h2m3 0h2m3 0h2m3 0h2m3 0h2m3 0h2m8 0h2m8 0h2m8 0h2m3 0h2m3 0h2m3 0h2M1085 1336h2m3 0h2m3 0h2m3 0h2m3 0h2m3 0h2m3 0h2m3 0h2m3 0h2m3 0h2m3 0h2m3 0h2m3 0h2m3 0h2m3 0h2m3 0h2m3 0h2m3 0h2m3 0h2m3 0h2m3 0h2m3 0h2m3 0h2m3 0h2m3 0h2M1087 1338h2m8 0h2m8 0h2m28 0h2m3 0h2m3 0h2m8 0h2m8 0h2m8 0h2m18 0h2m8 0h2M1085 1341h2m3 0h2m3 0h2m3 0h2m3 0h2m3 0h2m3 0h2m3 0h2m3 0h2m3 0h2m3 0h2m3 0h2m3 0h2m3 0h2m3 0h2m3 0h2m3 0h2m3 0h2m3 0h2m3 0h2m3 0h2m3 0h2m3 0h2m3 0h2m3 0h2M1092 1343h2m3 0h2m13 0h2m3 0h2m3 0h2m8 0h2m8 0h2m8 0h2m8 0h2m8 0h2m8 0h2m3 0h2m3 0h2m8 0h2m3 0h2M1080 1346h2m3 0h2m3 0h2m3 0h2m3 0h2m3 0h2m3 0h2m3 0h2m3 0h2m3 0h2m3 0h2m3 0h2m3 0h2m3 0h2m3 0h2m3 0h2m3 0h2m3 0h2m3 0h2m3 0h2m3 0h2m3 0h2m3 0h2m3 0h2m3 0h2m3 0h2m3 0h2M1117 1348h2m8 0h2m8 0h2m8 0h2m18 0h2m18 0h2m8 0h2m8 0h2M1080 1351h2m3 0h2m3 0h2m3 0h2m3 0h2m3 0h2m3 0h2m3 0h2m3 0h2m3 0h2m3 0h2m3 0h2m3 0h2m3 0h2m3 0h2m3 0h2m3 0h2m3 0h2m3 0h2m3 0h2m3 0h2m3 0h2m3 0h2m3 0h2m3 0h2m3 0h2m3 0h2M1087 1353h2m3 0h2m18 0h2m3 0h2m3 0h2m3 0h2m3 0h2m8 0h2m3 0h2m3 0h2m8 0h2m3 0h2m3 0h2m8 0h2m8 0h2m8 0h2m3 0h2M1077 1356h5m3 0h2m3 0h2m3 0h2m3 0h2m3 0h2m3 0h2m3 0h2m3 0h2m3 0h2m3 0h2m3 0h2m3 0h2m3 0h2m3 0h2m3 0h2m3 0h2m3 0h2m3 0h2m3 0h2m3 0h2m3 0h2m3 0h2m3 0h2m3 0h2m3 0h2m3 0h2M1077 1358h2m8 0h2m8 0h2m8 0h2m8 0h2m18 0h2m8 0h2m8 0h2m18 0h2m18 0h2m3 0h2m3 0h2m3 0h2M1077 1361h5m3 0h2m3 0h2m3 0h2m3 0h2m3 0h2m3 0h2m3 0h2m3 0h2m3 0h2m3 0h2m3 0h2m3 0h2m3 0h2m3 0h2m3 0h2m3 0h2m3 0h2m3 0h2m3 0h2m3 0h2m3 0h2m3 0h2m3 0h2m3 0h2m3 0h2m3 0h4M1082 1363h2m3 0h2m3 0h2m8 0h2m8 0h2m8 0h2m3 0h2m3 0h2m3 0h2m13 0h2m13 0h2m8 0h2m3 0h2m8 0h2m8 0h2m8 0h2M1080 1366h2m3 0h2m3 0h2m3 0h2m3 0h2m3 0h2m3 0h2m3 0h2m3 0h2m3 0h2m3 0h2m3 0h2m3 0h2m3 0h2m3 0h2m3 0h2m3 0h2m3 0h2m3 0h2m3 0h2m3 0h2m3 0h2m3 0h2m3 0h2m3 0h2m3 0h2m3 0h2M1087 1368h2m18 0h2m8 0h2m8 0h2m8 0h2m38 0h2m8 0h2m8 0h2m3 0h2m3 0h2m3 0h2M1075 1371h2m3 0h2m3 0h2m3 0h2m3 0h2m3 0h2m3 0h2m3 0h2m3 0h2m3 0h2m3 0h2m3 0h2m3 0h2m3 0h2m3 0h2m3 0h2m3 0h2m3 0h2m3 0h2m3 0h2m3 0h2m3 0h2m3 0h2m3 0h2m3 0h2m3 0h2m3 0h2m3 0h2m3 0h2M1077 1373h2m3 0h2m8 0h2m3 0h2m3 0h2m8 0h2m3 0h2m33 0h2m8 0h2m3 0h2m3 0h2m3 0h2m3 0h2m3 0h2m3 0h2m3 0h2m3 0h2m8 0h2M1075 1376h2m3 0h2m3 0h2m3 0h2m3 0h2m3 0h2m3 0h2m3 0h2m3 0h2m3 0h2m3 0h2m3 0h2m3 0h2m3 0h2m3 0h2m3 0h2m3 0h2m3 0h2m3 0h2m3 0h2m3 0h2m3 0h2m3 0h2m3 0h2m3 0h2m3 0h2m3 0h2m3 0h2m3 0h2M1072 1378h2m23 0h2m28 0h2m18 0h2m18 0h2m3 0h2m23 0h2m18 0h2M1072 1381h5m3 0h2m3 0h2m3 0h2m3 0h2m3 0h2m3 0h2m3 0h2m3 0h2m3 0h2m3 0h2m3 0h2m3 0h2m3 0h2m3 0h2m3 0h2m3 0h2m3 0h2m3 0h2m3 0h2m3 0h2m3 0h2m3 0h2m3 0h2m3 0h2m3 0h2m3 0h2m3 0h2m3 0h4M1072 1383h2m48 0h2m8 0h2m18 0h2m8 0h2m13 0h2m8 0h2m3 0h2m8 0h2m8 0h2m3 0h2M1072 1386h5m8 0h2m8 0h2m3 0h2m3 0h2m3 0h2m3 0h2m8 0h2m3 0h2m3 0h2m8 0h2m3 0h2m3 0h2m3 0h2m3 0h2m3 0h2m3 0h2m3 0h2m3 0h2m3 0h2m3 0h2m3 0h2m3 0h2m3 0h2m3 0h2M1077 1388h2m18 0h2m78 0h2m18 0h2m8 0h2M1070 1391h2m3 0h2m3 0h2m3 0h2m3 0h2m3 0h2m3 0h2m3 0h2m3 0h2m3 0h2m3 0h2m3 0h2m3 0h2m3 0h2m3 0h2m3 0h2m3 0h2m3 0h2m3 0h2m3 0h2m3 0h2m3 0h2m3 0h2m3 0h2m3 0h2m3 0h2m3 0h2m3 0h2m3 0h2m3 0h2m3 0h2M1072 1393h2m58 0h2m18 0h2m8 0h2m13 0h2m13 0h2m8 0h2m8 0h2m3 0h2M1070 1396h2m3 0h2m3 0h2m3 0h2m8 0h2m8 0h2m3 0h2m3 0h2m3 0h2m3 0h2m8 0h2m3 0h2m3 0h2m3 0h2m3 0h2m3 0h2m3 0h2m8 0h2m3 0h2m3 0h2m3 0h2m3 0h2m3 0h2m3 0h2m3 0h2m3 0h2m3 0h2M1147 1398h2m18 0h2m8 0h2m8 0h2m8 0h2m8 0h2m3 0h2M1067 1401h5m3 0h2m3 0h2m3 0h2m3 0h2m3 0h2m3 0h2m3 0h2m3 0h2m8 0h2m3 0h2m3 0h2m3 0h2m3 0h2m3 0h2m3 0h2m3 0h2m3 0h2m3 0h2m3 0h2m3 0h2m3 0h2m3 0h2m3 0h2m3 0h2m3 0h2m3 0h2m3 0h2m3 0h2m3 0h4M1067 1403h2m13 0h2m48 0h2m8 0h2m18 0h2m3 0h2m13 0h2m13 0h2m3 0h2m3 0h2m3 0h2m3 0h2m3 0h2M1075 1406h2m8 0h2m8 0h2m3 0h2m3 0h2m8 0h2m8 0h2m8 0h2m8 0h2m8 0h2m3 0h2m3 0h2m8 0h2m3 0h2m3 0h2m3 0h2m3 0h2m3 0h2m3 0h2m3 0h2m3 0h2m3 0h2M1177 1408h2m18 0h2M1065 1411h2m3 0h2m3 0h2m3 0h2m3 0h2m3 0h2m3 0h2m3 0h2m8 0h2m3 0h2m3 0h2m8 0h2m3 0h2m3 0h2m3 0h2m3 0h2m3 0h2m3 0h2m3 0h2m3 0h2m3 0h2m3 0h2m3 0h2m3 0h2m3 0h2m3 0h2m3 0h2m3 0h2m3 0h2m3 0h2m3 0h2M1072 1413h2m38 0h2m8 0h2m48 0h2m18 0h2m3 0h2m13 0h2m8 0h2M1065 1416h2m8 0h2m3 0h2m3 0h2m3 0h2m3 0h2m8 0h2m8 0h2m3 0h2m3 0h2m3 0h2m3 0h2m8 0h2m3 0h2m3 0h2m3 0h2m3 0h2m3 0h2m3 0h2m3 0h2m3 0h2m3 0h2m3 0h2m3 0h2m3 0h2m3 0h2m3 0h2m3 0h2m3 0h2M1062 1418h2m113 0h2m28 0h2m8 0h2m8 0h2M1062 1421h5m3 0h2m3 0h2m3 0h2m8 0h2m3 0h2m3 0h2m8 0h2m8 0h2m3 0h2m3 0h2m8 0h2m3 0h2m3 0h2m3 0h2m3 0h2m3 0h2m3 0h2m3 0h2m3 0h2m3 0h2m3 0h2m3 0h2m3 0h2m3 0h2m3 0h2m3 0h2m3 0h2m3 0h4M1062 1423h2m48 0h2m58 0h2m8 0h2m3 0h2m3 0h2m8 0h2m8 0h2m3 0h2m3 0h2m3 0h2M1060 1426h2m13 0h2m3 0h2m3 0h2m3 0h2m3 0h2m8 0h2m3 0h2m3 0h2m3 0h2m3 0h2m3 0h2m13 0h2m8 0h2m3 0h2m3 0h2m3 0h2m3 0h2m3 0h2m3 0h2m3 0h2m3 0h2m3 0h2m3 0h2m3 0h2m3 0h2m3 0h2m3 0h2M1157 1428h2m18 0h2m8 0h2m8 0h2m8 0h2m8 0h2M1060 1431h2m8 0h2m3 0h2m3 0h2m3 0h2m3 0h2m8 0h2m3 0h2m3 0h2m8 0h2m3 0h2m3 0h2m3 0h2m3 0h2m3 0h2m3 0h2m8 0h2m3 0h2m3 0h2m3 0h2m3 0h2m3 0h2m3 0h2m3 0h2m3 0h2m3 0h2m3 0h2m3 0h2m3 0h2m3 0h2m3 0h2M1167 1433h2m3 0h2m3 0h2m3 0h2m8 0h2m8 0h2m8 0h2m8 0h2m6 0h2M1057 1436h2m6 0h2m3 0h2m13 0h2m8 0h2m8 0h2m8 0h2m8 0h2m8 0h2m3 0h2m3 0h2m3 0h2m3 0h2m3 0h2m3 0h2m3 0h2m3 0h2m3 0h2m3 0h2m3 0h2m3 0h2m3 0h2m3 0h2m3 0h2m3 0h2m3 0h2m3 0h2m3 0h4M1057 1438h2m118 0h2m3 0h2m3 0h2m28 0h2m13 0h2M1060 1441h2m3 0h2m3 0h2m3 0h2m3 0h2m8 0h2m8 0h2m3 0h2m3 0h2m3 0h2m3 0h2m3 0h2m3 0h2m8 0h2m3 0h2m3 0h2m3 0h2m3 0h2m3 0h2m3 0h2m3 0h2m3 0h2m3 0h2m3 0h2m3 0h2m3 0h2m3 0h2m3 0h2m3 0h2m3 0h2m3 0h2m3 0h4M1152 1443h2m8 0h2m8 0h2m3 0h2m3 0h2m8 0h2m3 0h2m3 0h2m18 0h2m8 0h2M1055 1446h2m3 0h2m3 0h2m8 0h2m3 0h2m3 0h2m8 0h2m8 0h2m8 0h2m8 0h2m8 0h2m8 0h2m8 0h2m3 0h2m3 0h2m3 0h2m3 0h2m3 0h2m3 0h2m3 0h2m3 0h2m3 0h2m3 0h2m3 0h2m3 0h2m3 0h2m3 0h2m3 0h2m3 0h2M1177 1448h2m13 0h2m3 0h2m8 0h2m8 0h2M1052 1451h5m3 0h2m3 0h2m3 0h2m8 0h2m3 0h2m3 0h2m8 0h2m3 0h2m3 0h2m8 0h2m3 0h2m3 0h2m8 0h2m3 0h2m3 0h2m3 0h2m3 0h2m3 0h2m3 0h2m3 0h2m3 0h2m3 0h2m3 0h2m3 0h2m3 0h2m3 0h2m3 0h2m3 0h2m3 0h2m3 0h2m3 0h2m3 0h2M1052 1453h2m18 0h2m58 0h2m28 0h2m8 0h2m8 0h2m3 0h2m3 0h2m8 0h2m8 0h2m3 0h2m3 0h2m3 0h2m3 0h2m3 0h2M1055 1456h2m3 0h2m3 0h2m3 0h2m3 0h2m3 0h2m3 0h2m8 0h2m8 0h2m3 0h2m3 0h2m3 0h2m3 0h2m8 0h2m3 0h2m3 0h2m3 0h2m3 0h2m3 0h2m3 0h2m3 0h2m3 0h2m3 0h2m3 0h2m3 0h2m3 0h2m3 0h2m3 0h2m3 0h2m3 0h2m3 0h2m3 0h2m3 0h2m3 0h4M1167 1458h2m18 0h2m3 0h2m13 0h2m8 0h2m8 0h2m3 0h2m3 0h2M1050 1461h2m3 0h2m3 0h2m8 0h2m3 0h2m3 0h2m3 0h2m3 0h2m3 0h2m3 0h2m8 0h2m3 0h2m3 0h2m8 0h2m3 0h2m3 0h2m3 0h2m3 0h2m3 0h2m3 0h2m3 0h2m3 0h2m3 0h2m3 0h2m3 0h2m3 0h2m3 0h2m3 0h2m3 0h2m3 0h2m3 0h2m3 0h2m3 0h2m3 0h2m3 0h2m3 0h2M1082 1463h2m28 0h2m48 0h2m8 0h2m3 0h2m3 0h2m3 0h2m3 0h2m3 0h2m3 0h2m8 0h2m3 0h2m3 0h2m8 0h2M1047 1466h2m6 0h2m3 0h2m3 0h2m3 0h2m3 0h2m8 0h2m3 0h2m3 0h2m8 0h2m3 0h2m3 0h2m3 0h2m3 0h2m3 0h2m3 0h2m3 0h2m3 0h2m8 0h2m3 0h2m3 0h2m3 0h2m3 0h2m3 0h2m3 0h2m3 0h2m3 0h2m3 0h2m3 0h2m3 0h2m3 0h2m3 0h2m3 0h2m3 0h2m3 0h2m3 0h2M1047 1468h2m128 0h2m3 0h2m23 0h2m8 0h2m8 0h2m3 0h2m8 0h2M1045 1471h2m3 0h2m3 0h2m3 0h2m8 0h2m3 0h2m3 0h2m8 0h2m3 0h2m3 0h2m3 0h2m3 0h2m3 0h2m3 0h2m3 0h2m3 0h2m3 0h2m3 0h2m3 0h2m3 0h2m3 0h2m3 0h2m3 0h2m3 0h2m3 0h2m3 0h2m3 0h2m3 0h2m3 0h2m3 0h2m3 0h2m3 0h2m3 0h2m3 0h2m3 0h2m3 0h2m3 0h2m3 0h4M1062 1473h2m8 0h2m48 0h2m8 0h2m28 0h2m8 0h2m3 0h2m13 0h2m18 0h2m3 0h2m3 0h2m8 0h2m3 0h2m3 0h2M1045 1476h2m13 0h2m3 0h2m3 0h2m3 0h2m3 0h2m3 0h2m8 0h2m3 0h2m3 0h2m8 0h2m3 0h2m3 0h2m3 0h2m3 0h2m3 0h2m3 0h2m3 0h2m3 0h2m3 0h2m3 0h2m3 0h2m3 0h2m3 0h2m3 0h2m3 0h2m3 0h2m3 0h2m3 0h2m3 0h2m3 0h2m3 0h2m3 0h2m3 0h2m3 0h2m3 0h2m3 0h2M1042 1478h2m93 0h2m18 0h2m28 0h2m18 0h2m3 0h2m3 0h2m8 0h2m3 0h2M1042 1481h2m6 0h2m8 0h2m3 0h2m3 0h2m8 0h2m3 0h2m3 0h2m3 0h2m3 0h2m3 0h2m3 0h2m3 0h2m3 0h2m3 0h2m3 0h2m3 0h2m3 0h2m3 0h2m3 0h2m3 0h2m3 0h2m3 0h2m3 0h2m3 0h2m3 0h2m3 0h2m3 0h2m3 0h2m3 0h2m3 0h2m3 0h2m3 0h2m3 0h2m3 0h2m3 0h2m3 0h2m3 0h2m3 0h2M1052 1483h2m28 0h2m28 0h2m18 0h2m8 0h2m8 0h2m8 0h2m13 0h2m3 0h2m3 0h2m13 0h2m3 0h2m3 0h2m8 0h2m3 0h2m3 0h2m8 0h2m3 0h2M1040 1486h2m3 0h2m8 0h2m8 0h2m8 0h2m3 0h2m3 0h2m3 0h2m3 0h2m8 0h2m3 0h2m3 0h2m8 0h2m3 0h2m3 0h2m3 0h2m3 0h2m3 0h2m3 0h2m3 0h2m3 0h2m3 0h2m3 0h2m3 0h2m3 0h2m3 0h2m3 0h2m3 0h2m3 0h2m3 0h2m3 0h2m3 0h2m3 0h2m3 0h2m3 0h2m3 0h2m3 0h4M1147 1488h2m8 0h2m18 0h2m23 0h2m23 0h2m8 0h2m3 0h2m3 0h2M1040 1491h2m3 0h2m3 0h2m3 0h2m3 0h2m3 0h2m3 0h2m3 0h2m3 0h2m8 0h2m3 0h2m3 0h2m8 0h2m8 0h2m3 0h2m3 0h2m3 0h2m3 0h2m3 0h2m3 0h2m3 0h2m3 0h2m3 0h2m3 0h2m3 0h2m3 0h2m3 0h2m3 0h2m3 0h2m3 0h2m3 0h2m3 0h2m3 0h2m3 0h2m3 0h2m3 0h2m3 0h2m3 0h2m3 0h2m3 0h2M1037 1493h2m23 0h2m78 0h2m18 0h2m8 0h2m8 0h2m8 0h2m3 0h2m3 0h2m3 0h2m3 0h2m3 0h2m3 0h2m8 0h2m8 0h2M1037 1496h2m6 0h2m13 0h2m3 0h2m3 0h2m3 0h2m8 0h2m8 0h2m8 0h2m8 0h2m8 0h2m8 0h2m8 0h2m3 0h2m3 0h2m3 0h2m3 0h2m3 0h2m3 0h2m3 0h2m3 0h2m3 0h2m3 0h2m3 0h2m3 0h2m3 0h2m3 0h2m3 0h2m3 0h2m3 0h2m3 0h2m3 0h2m3 0h2m3 0h2M1067 1498h2m88 0h2m8 0h2m18 0h2m8 0h2m8 0h2m8 0h2m8 0h2m8 0h2m8 0h2m3 0h2M1035 1501h2m3 0h2m3 0h2m3 0h2m3 0h2m3 0h2m3 0h2m3 0h2m3 0h2m3 0h2m3 0h2m3 0h2m8 0h2m3 0h2m3 0h2m3 0h2m3 0h2m8 0h2m3 0h2m3 0h2m3 0h2m3 0h2m3 0h2m3 0h2m3 0h2m3 0h2m3 0h2m3 0h2m3 0h2m3 0h2m3 0h2m3 0h2m3 0h2m3 0h2m3 0h2m3 0h2m3 0h2m3 0h2m3 0h2m3 0h2m3 0h2m3 0h2M1032 1503h2m38 0h2m8 0h2m28 0h2m18 0h2m18 0h2m3 0h2m3 0h2m28 0h2m8 0h2m3 0h2m3 0h2m3 0h2m3 0h2m3 0h2m3 0h2m8 0h2m3 0h2m3 0h2M1035 1506h2m3 0h2m3 0h2m8 0h2m8 0h2m8 0h2m3 0h2m3 0h2m8 0h2m8 0h2m8 0h2m8 0h2m3 0h2m3 0h2m8 0h2m3 0h2m3 0h2m3 0h2m3 0h2m3 0h2m3 0h2m3 0h2m3 0h2m3 0h2m3 0h2m3 0h2m3 0h2m3 0h2m3 0h2m3 0h2m3 0h2m3 0h2m3 0h2m3 0h2m3 0h2m3 0h2m3 0h2M1117 1508h2m38 0h2m18 0h2m8 0h2m8 0h2m3 0h2m3 0h2m8 0h2m8 0h2m8 0h2m3 0h2m13 0h2M1030 1511h2m3 0h2m3 0h2m3 0h2m3 0h2m3 0h2m3 0h2m3 0h2m3 0h2m3 0h2m3 0h2m3 0h2m3 0h2m3 0h2m3 0h2m3 0h2m3 0h2m3 0h2m3 0h2m3 0h2m3 0h2m3 0h2m3 0h2m3 0h2m3 0h2m3 0h2m3 0h2m3 0h2m3 0h2m3 0h2m3 0h2m3 0h2m3 0h2m3 0h2m3 0h2m3 0h2m3 0h2m3 0h2m3 0h2m3 0h2m3 0h2m3 0h2m3 0h2m3 0h2m3 0h2m3 0h4M1032 1513h2m28 0h2m18 0h2m28 0h2m8 0h2m8 0h2m8 0h2m8 0h2m8 0h2m8 0h2m3 0h2m23 0h2m3 0h2m3 0h2m3 0h2m3 0h2m3 0h2m3 0h2m3 0h2m3 0h2m8 0h2m3 0h2M1027 1516h5m3 0h2m8 0h2m8 0h2m3 0h2m3 0h2m8 0h2m3 0h2m3 0h2m8 0h2m3 0h2m3 0h2m3 0h2m3 0h2m3 0h2m3 0h2m3 0h2m3 0h2m3 0h2m3 0h2m3 0h2m3 0h2m3 0h2m3 0h2m3 0h2m3 0h2m3 0h2m3 0h2m3 0h2m3 0h2m3 0h2m3 0h2m3 0h2m3 0h2m3 0h2m3 0h2m3 0h2m3 0h2m3 0h2m3 0h2m3 0h2m3 0h2m3 0h2M1027 1518h2m118 0h2m18 0h2m8 0h2m18 0h2m8 0h2m3 0h2m3 0h2m13 0h2m3 0h2m3 0h2m3 0h2M1025 1521h2m3 0h2m3 0h2m3 0h2m3 0h2m3 0h2m3 0h2m3 0h2m8 0h2m3 0h2m3 0h2m3 0h2m3 0h2m3 0h2m3 0h2m3 0h2m3 0h2m3 0h2m3 0h2m3 0h2m3 0h2m3 0h2m3 0h2m3 0h2m3 0h2m3 0h2m3 0h2m3 0h2m3 0h2m3 0h2m3 0h2m3 0h2m3 0h2m3 0h2m3 0h2m3 0h2m3 0h2m3 0h2m3 0h2m3 0h2m3 0h7m3 0h2m3 0h2m3 0h2m3 0h2m3 0h4M1082 1523h2m28 0h2m38 0h2m8 0h2m8 0h2m8 0h2m3 0h2m3 0h2m3 0h2m3 0h2m3 0h2m3 0h2m3 0h2m3 0h2m8 0h2m8 0h2m3 0h2m3 0h2m8 0h2M1025 1526h2m8 0h2m8 0h2m8 0h2m3 0h2m3 0h2m8 0h2m3 0h2m3 0h2m3 0h2m3 0h2m8 0h2m8 0h2m8 0h2m3 0h2m3 0h2m3 0h2m3 0h2m3 0h2m3 0h2m3 0h2m3 0h2m3 0h2m3 0h2m3 0h2m3 0h2m3 0h2m3 0h2m3 0h2m3 0h2m3 0h2m3 0h2m3 0h2m3 0h2m3 0h2m3 0h2m3 0h2m3 0h2m3 0h2m3 0h2m3 0h2m3 0h2M1022 1528h2m3 0h2m8 0h2m78 0h2m28 0h2m8 0h2m8 0h2m3 0h2m13 0h2m8 0h2m3 0h2m3 0h2m8 0h2m3 0h2m3 0h2m3 0h2m3 0h2m8 0h2m8 0h2M1022 1531h5m3 0h2m3 0h2m3 0h2m3 0h2m3 0h2m8 0h2m3 0h2m3 0h2m3 0h2m3 0h2m8 0h2m8 0h2m8 0h2m3 0h2m3 0h2m3 0h2m3 0h2m3 0h2m3 0h2m3 0h2m3 0h2m3 0h2m3 0h2m3 0h2m3 0h2m3 0h2m3 0h2m3 0h2m3 0h2m3 0h2m3 0h2m3 0h2m3 0h2m3 0h2m3 0h2m3 0h2m3 0h2m3 0h2m3 0h7m3 0h2m3 0h2m3 0h2m3 0h4M1062 1533h2m38 0h2m8 0h2m8 0h2m13 0h2m3 0h2m3 0h2m3 0h2m8 0h2m8 0h2m8 0h2m3 0h2m13 0h2m8 0h2m8 0h2m8 0h2m8 0h2m3 0h2m3 0h2m8 0h2m3 0h2M1020 1536h2m3 0h2m8 0h2m8 0h2m3 0h2m3 0h2m8 0h2m8 0h2m3 0h2m3 0h2m8 0h2m8 0h2m3 0h2m3 0h2m8 0h2m8 0h2m3 0h2m3 0h2m3 0h2m3 0h2m3 0h2m3 0h2m3 0h2m3 0h2m3 0h2m3 0h2m3 0h2m3 0h2m3 0h2m3 0h2m3 0h2m3 0h2m3 0h2m3 0h2m3 0h2m3 0h2m3 0h2m3 0h2m3 0h2m3 0h2m3 0h2m3 0h2m3 0h2M1017 1538h2m18 0h2m88 0h2m8 0h2m18 0h2m8 0h2m8 0h2m18 0h2m18 0h2m8 0h2m28 0h2m3 0h2m3 0h2M1020 1541h2m3 0h2m3 0h2m8 0h2m3 0h2m3 0h2m3 0h2m3 0h2m8 0h2m3 0h2m3 0h2m3 0h2m3 0h2m3 0h2m3 0h2m3 0h2m3 0h2m8 0h2m3 0h2m3 0h2m3 0h2m3 0h2m3 0h2m3 0h2m3 0h2m3 0h2m3 0h2m3 0h2m3 0h2m3 0h2m3 0h2m3 0h2m3 0h2m3 0h2m3 0h2m3 0h2m3 0h2m3 0h2m3 0h2m3 0h2m3 0h2m3 0h2m3 0h2m3 0h2m3 0h2m3 0h2m3 0h2m3 0h4M1022 1543h2m8 0h2m8 0h2m18 0h2m68 0h2m8 0h2m8 0h2m13 0h2m3 0h2m3 0h2m3 0h2m8 0h2m8 0h2m8 0h2m8 0h2m8 0h2m8 0h2m3 0h2m3 0h2m8 0h2m8 0h2M1015 1546h2m8 0h2m3 0h2m3 0h2m3 0h2m3 0h2m8 0h2m8 0h2m3 0h2m3 0h2m8 0h2m8 0h2m3 0h2m3 0h2m3 0h2m3 0h2m8 0h2m3 0h2m3 0h2m8 0h2m3 0h2m3 0h2m3 0h2m3 0h2m3 0h2m3 0h2m3 0h2m3 0h2m3 0h2m3 0h2m3 0h2m3 0h2m3 0h2m3 0h2m3 0h2m3 0h2m3 0h2m3 0h2m3 0h2m3 0h2m3 0h2m3 0h2m3 0h2m3 0h2m3 0h2m3 0h2M1012 1548h2m123 0h2m18 0h2m18 0h2m38 0h2m13 0h2m3 0h2m18 0h2M1012 1551h5m3 0h2m3 0h2m3 0h2m3 0h2m3 0h2m3 0h2m3 0h2m3 0h2m3 0h2m3 0h2m3 0h2m8 0h2m3 0h2m3 0h2m3 0h2m3 0h2m3 0h2m3 0h2m8 0h2m3 0h2m3 0h2m3 0h2m3 0h2m3 0h2m3 0h2m3 0h2m3 0h2m3 0h2m3 0h2m3 0h2m3 0h2m3 0h2m3 0h2m3 0h2m3 0h2m3 0h2m3 0h2m3 0h2m3 0h2m3 0h2m3 0h2m3 0h2m3 0h2m3 0h2m3 0h2m3 0h2m3 0h2m3 0h2m3 0h2m3 0h4M1032 1553h2m28 0h2m28 0h2m18 0h2m18 0h2m28 0h2m8 0h2m3 0h2m3 0h2m3 0h2m3 0h2m8 0h2m3 0h2m3 0h2m3 0h2m3 0h2m3 0h2m3 0h2m3 0h2m3 0h2m13 0h2m3 0h2m13 0h2M1010 1556h2m3 0h2m3 0h2m3 0h2m3 0h2m3 0h2m8 0h2m3 0h2m3 0h2m8 0h2m3 0h2m3 0h2m8 0h2m8 0h2m3 0h2m3 0h2m8 0h2m3 0h2m3 0h2m3 0h2m3 0h2m8 0h2m3 0h2m3 0h2m3 0h2m3 0h2m3 0h2m3 0h2m3 0h2m3 0h2m3 0h2m3 0h2m3 0h2m3 0h2m3 0h2m3 0h2m3 0h2m3 0h2m3 0h2m3 0h2m3 0h2m3 0h2m3 0h2m3 0h2m3 0h2m3 0h2m3 0h2m3 0h2m3 0h2M1007 1558h2m28 0h2m158 0h2m8 0h2m18 0h2m8 0h2m8 0h2m18 0h2M1010 1561h2m3 0h2m3 0h2m3 0h2m3 0h2m3 0h2m3 0h2m3 0h2m3 0h2m3 0h2m3 0h2m3 0h2m3 0h2m8 0h2m8 0h2m8 0h2m3 0h2m3 0h2m3 0h2m3 0h2m3 0h2m3 0h2m3 0h2m3 0h2m3 0h2m3 0h2m3 0h2m3 0h2m3 0h2m3 0h2m3 0h2m3 0h2m3 0h2m3 0h2m3 0h2m3 0h2m3 0h2m3 0h7m3 0h2m3 0h2m3 0h7m3 0h2m3 0h2m3 0h2m3 0h2m3 0h2m3 0h2m3 0h2m3 0h2m3 0h4M1012 1563h2m8 0h2m18 0h2m88 0h2m8 0h2m8 0h2m8 0h2m8 0h2m3 0h2m3 0h2m3 0h2m3 0h2m8 0h2m8 0h2m8 0h2m3 0h2m3 0h2m3 0h2m3 0h2m8 0h2m8 0h2m3 0h2m3 0h2m8 0h2M1005 1566h2m3 0h2m3 0h2m3 0h2m3 0h2m8 0h2m8 0h2m3 0h2m3 0h2m3 0h2m3 0h2m3 0h2m3 0h2m3 0h2m3 0h2m3 0h2m3 0h2m3 0h2m3 0h2m8 0h2m3 0h2m3 0h2m3 0h2m3 0h2m3 0h2m3 0h2m3 0h2m3 0h2m3 0h2m3 0h2m3 0h2m3 0h2m3 0h2m3 0h2m3 0h2m3 0h2m3 0h2m3 0h2m3 0h2m3 0h2m3 0h2m3 0h2m3 0h2m3 0h2m3 0h2m3 0h2m3 0h2m3 0h2m3 0h2m3 0h2m3 0h2m3 0h2m3 0h2m3 0h2M1002 1568h2m23 0h2m148 0h2m3 0h2m3 0h2m28 0h2m3 0h2m3 0h2m3 0h2m3 0h2m8 0h2m8 0h2m18 0h2m8 0h2M1005 1571h2m3 0h2m3 0h2m3 0h2m3 0h2m3 0h2m3 0h2m3 0h2m3 0h2m3 0h2m3 0h2m3 0h2m3 0h2m3 0h2m3 0h2m3 0h2m8 0h2m8 0h2m3 0h2m3 0h2m3 0h2m3 0h2m3 0h2m3 0h2m3 0h2m3 0h2m3 0h2m3 0h2m3 0h2m3 0h2m3 0h2m3 0h2m3 0h2m3 0h2m3 0h2m3 0h2m3 0h2m3 0h2m3 0h2m3 0h2m3 0h2m3 0h7m3 0h2m3 0h2m3 0h2m3 0h2m3 0h2m3 0h2m3 0h2m3 0h2m3 0h2m3 0h2m3 0h2m3 0h4M1002 1573h2m8 0h2m8 0h2m8 0h2m118 0h2m8 0h2m3 0h2m3 0h2m8 0h2m8 0h2m3 0h2m3 0h2m8 0h2m8 0h2m3 0h2m3 0h2m8 0h2m3 0h2m3 0h2m8 0h2M997 1576h5m3 0h2m8 0h2m3 0h2m3 0h2m3 0h2m3 0h2m3 0h2m3 0h2m3 0h2m8 0h2m3 0h2m8 0h2m8 0h2m3 0h2m3 0h2m8 0h2m8 0h2m8 0h2m8 0h2m3 0h2m3 0h2m3 0h2m3 0h2m3 0h2m3 0h2m3 0h2m3 0h2m3 0h2m3 0h2m3 0h2m3 0h2m3 0h2m3 0h2m3 0h2m3 0h2m3 0h2m3 0h2m3 0h2m3 0h2m3 0h2m3 0h2m3 0h2m3 0h2m3 0h2m3 0h2m3 0h2m3 0h2m3 0h2m3 0h2m3 0h2M997 1578h2m18 0h2m148 0h2m8 0h2m8 0h2m8 0h2m13 0h2m3 0h2m8 0h2m3 0h2m3 0h2m8 0h2m18 0h2m8 0h2m13 0h2M995 1581h2m3 0h2m3 0h2m3 0h2m3 0h2m3 0h2m3 0h2m3 0h2m3 0h2m3 0h2m3 0h2m3 0h2m3 0h2m3 0h2m3 0h2m3 0h2m8 0h2m8 0h2m3 0h2m3 0h2m3 0h2m3 0h2m3 0h2m3 0h2m3 0h2m3 0h2m3 0h2m3 0h2m3 0h2m3 0h2m3 0h2m3 0h2m3 0h2m3 0h2m3 0h2m3 0h2m3 0h2m3 0h2m3 0h2m3 0h2m3 0h2m3 0h2m3 0h2m3 0h2m3 0h2m3 0h2m3 0h2m3 0h2m3 0h2m3 0h2m3 0h2m3 0h2m3 0h2m3 0h2m3 0h2m3 0h2m3 0h2m3 0h4M1012 1583h2m8 0h2m58 0h2m8 0h2m48 0h2m8 0h2m8 0h2m3 0h2m13 0h2m3 0h2m3 0h2m8 0h2m3 0h2m3 0h2m3 0h2m3 0h2m8 0h2m8 0h2m8 0h2m8 0h2m3 0h2m13 0h2M995 1586h2m3 0h2m3 0h2m3 0h2m3 0h2m8 0h2m3 0h2m3 0h2m3 0h2m3 0h2m8 0h2m18 0h2m8 0h2m3 0h2m3 0h2m8 0h2m3 0h2m3 0h2m3 0h2m3 0h2m8 0h2m3 0h2m3 0h2m3 0h2m3 0h2m3 0h2m3 0h2m3 0h2m3 0h2m3 0h2m3 0h2m3 0h2m3 0h2m3 0h2m3 0h2m3 0h2m3 0h2m3 0h2m3 0h2m3 0h2m3 0h2m3 0h2m3 0h2m3 0h2m3 0h2m3 0h2m3 0h2m8 0h2m3 0h2m3 0h2m3 0h2m3 0h4M997 1588h2m148 0h2m8 0h2m18 0h2m13 0h2m3 0h2m28 0h2m28 0h2m38 0h2M990 1591h2m3 0h2m3 0h2m3 0h2m3 0h2m3 0h2m3 0h2m3 0h2m3 0h2m3 0h2m3 0h2m3 0h2m3 0h2m3 0h2m3 0h2m3 0h2m3 0h2m8 0h2m8 0h2m3 0h2m3 0h2m3 0h2m3 0h2m3 0h2m3 0h2m3 0h2m3 0h2m3 0h2m3 0h2m3 0h2m3 0h2m3 0h2m3 0h2m3 0h2m3 0h2m3 0h2m3 0h2m3 0h2m3 0h2m3 0h2m3 0h2m3 0h2m3 0h2m3 0h2m3 0h2m3 0h2m3 0h2m3 0h2m3 0h2m3 0h2m3 0h2m3 0h2m3 0h2m3 0h2m3 0h2m3 0h2m3 0h2m3 0h2m3 0h2m3 0h2m3 0h2M987 1593h2m23 0h2m3 0h2m3 0h2m8 0h2m68 0h2m18 0h2m28 0h2m8 0h2m8 0h2m8 0h2m8 0h2m3 0h2m3 0h2m8 0h2m3 0h2m3 0h2m8 0h2m3 0h2m3 0h2m3 0h2m3 0h2m8 0h2m8 0h2m8 0h2m13 0h2m3 0h2M990 1596h2m3 0h2m3 0h2m3 0h2m3 0h2m3 0h2m3 0h2m3 0h2m3 0h2m3 0h2m8 0h2m3 0h2m3 0h2m8 0h2m8 0h2m3 0h2m3 0h2m8 0h2m8 0h2m3 0h2m3 0h2m3 0h2m3 0h2m8 0h2m3 0h2m3 0h2m3 0h2m3 0h2m3 0h2m3 0h2m3 0h2m3 0h2m3 0h2m3 0h2m3 0h2m3 0h2m3 0h2m3 0h2m3 0h2m3 0h2m3 0h2m3 0h2m3 0h2m3 0h2m3 0h2m3 0h2m3 0h2m3 0h2m3 0h2m3 0h2m3 0h2m3 0h2m3 0h2m3 0h2m3 0h2m3 0h2m5 0h2M1157 1598h2m18 0h2m3 0h2m3 0h2m8 0h2m8 0h2m8 0h2m3 0h2m3 0h2m8 0h2m8 0h2m8 0h2m8 0h2m8 0h2m8 0h2M982 1601h5m3 0h2m3 0h2m3 0h2m3 0h2m3 0h2m3 0h2m3 0h2m3 0h2m3 0h2m3 0h2m3 0h2m3 0h2m3 0h2m3 0h2m3 0h2m3 0h2m3 0h2m3 0h2m3 0h2m3 0h2m3 0h2m3 0h2m3 0h2m3 0h2m3 0h2m3 0h2m3 0h2m3 0h2m3 0h2m3 0h2m3 0h2m3 0h2m3 0h2m3 0h2m3 0h2m3 0h2m3 0h2m3 0h2m3 0h2m3 0h2m3 0h2m3 0h2m3 0h2m3 0h2m3 0h2m3 0h2m3 0h2m3 0h2m3 0h2m3 0h2m3 0h2m3 0h2m3 0h2m3 0h2m3 0h2m3 0h2m3 0h2m3 0h2m3 0h2m3 0h2m3 0h2m3 0h2m3 0h2m3 0h4M982 1603h2m18 0h2m8 0h2m28 0h2m28 0h2m38 0h2m38 0h2m3 0h2m3 0h2m8 0h2m3 0h2m3 0h2m3 0h2m3 0h2m8 0h2m8 0h2m8 0h2m3 0h2m3 0h2m3 0h2m13 0h2m3 0h2m3 0h2m8 0h2m8 0h2m23 0h2M980 1606h2m3 0h2m8 0h2m3 0h2m3 0h2m3 0h2m3 0h2m8 0h2m3 0h2m3 0h2m8 0h2m3 0h2m3 0h2m8 0h2m8 0h2m8 0h2m8 0h2m3 0h2m3 0h2m8 0h2m3 0h2m3 0h2m3 0h2m3 0h2m3 0h2m3 0h2m3 0h2m3 0h2m3 0h2m3 0h2m3 0h2m3 0h2m3 0h2m3 0h2m3 0h2m3 0h2m3 0h2m3 0h2m3 0h2m3 0h2m3 0h2m3 0h2m3 0h2m3 0h2m3 0h2m3 0h2m3 0h2m3 0h2m3 0h2m3 0h2m3 0h2m3 0h2m8 0h2m8 0h2m8 0h2m3 0h2M977 1608h2m128 0h2m8 0h2m28 0h2m8 0h2m3 0h2m3 0h2m8 0h2m8 0h2m3 0h2m3 0h2m3 0h2m3 0h2m8 0h2m3 0h2m13 0h2m8 0h2m8 0h2m38 0h2m13 0h2M977 1611h5m3 0h2m3 0h2m3 0h2m3 0h2m3 0h2m3 0h2m3 0h2m3 0h2m3 0h2m3 0h2m3 0h2m3 0h2m3 0h2m3 0h2m3 0h2m3 0h2m8 0h2m3 0h2m3 0h2m3 0h2m3 0h2m3 0h2m3 0h2m3 0h2m3 0h2m3 0h2m3 0h2m3 0h2m3 0h2m3 0h2m3 0h2m3 0h2m3 0h2m3 0h2m3 0h2m3 0h2m3 0h2m3 0h2m3 0h2m3 0h2m3 0h2m3 0h2m3 0h2m3 0h2m3 0h7m3 0h2m3 0h2m3 0h7m3 0h2m3 0h2m3 0h2m3 0h2m3 0h2m3 0h2m3 0h2m3 0h2m3 0h2m3 0h2m3 0h2m3 0h2m3 0h2m3 0h2m3 0h4M982 1613h2m8 0h2m38 0h2m18 0h2m28 0h2m18 0h2m8 0h2m8 0h2m8 0h2m13 0h2m3 0h2m3 0h2m3 0h2m8 0h2m3 0h2m3 0h2m3 0h2m3 0h2m3 0h2m3 0h2m3 0h2m3 0h2m3 0h2m3 0h2m3 0h2m3 0h2m3 0h2m3 0h2m8 0h2m8 0h2m8 0h2m8 0h2m28 0h2M975 1616h2m3 0h2m3 0h2m3 0h2m3 0h2m3 0h2m3 0h2m3 0h2m3 0h2m8 0h2m3 0h2m3 0h2m3 0h2m3 0h2m8 0h2m8 0h2m8 0h2m8 0h2m8 0h2m3 0h2m3 0h2m3 0h2m3 0h2m3 0h2m3 0h2m3 0h2m3 0h2m3 0h2m3 0h2m3 0h2m3 0h2m3 0h2m3 0h2m3 0h2m3 0h2m3 0h2m3 0h2m3 0h2m3 0h2m3 0h2m3 0h2m3 0h2m3 0h2m3 0h2m3 0h2m3 0h2m3 0h2m3 0h2m3 0h2m3 0h2m3 0h2m3 0h2m3 0h2m8 0h2m3 0h2m3 0h2m3 0h2m3 0h2m3 0h2m3 0h2m8 0h4M972 1618h2m53 0h2m88 0h2m8 0h2m18 0h2m8 0h2m3 0h2m3 0h2m3 0h2m3 0h2m3 0h2m3 0h2m3 0h2m3 0h2m3 0h2m3 0h2m8 0h2m8 0h2m8 0h2m8 0h2m8 0h2m8 0h2m48 0h2M970 1621h2m3 0h2m3 0h2m3 0h2m3 0h2m3 0h2m3 0h2m3 0h2m3 0h2m3 0h2m3 0h2m8 0h2m3 0h2m3 0h2m3 0h2m3 0h2m8 0h2m3 0h2m3 0h2m3 0h2m3 0h2m3 0h2m3 0h2m3 0h2m3 0h2m3 0h2m3 0h2m3 0h2m3 0h2m3 0h2m3 0h2m3 0h2m3 0h2m3 0h2m3 0h7m3 0h7m3 0h7m3 0h7m3 0h2m3 0h2m3 0h2m3 0h2m3 0h2m3 0h2m3 0h2m3 0h2m3 0h2m3 0h2m3 0h2m3 0h2m3 0h2m3 0h2m3 0h2m3 0h2m3 0h2m3 0h2m3 0h2m3 0h2m3 0h2m3 0h2m3 0h2m3 0h2m3 0h2m8 0h2M967 1623h2m3 0h2m58 0h2m48 0h2m43 0h2m3 0h2m8 0h2m8 0h2m8 0h2m3 0h2m3 0h2m3 0h2m3 0h2m3 0h2m3 0h2m3 0h2m3 0h2m3 0h2m3 0h2m3 0h2m3 0h2m3 0h2m3 0h2m3 0h2m3 0h2m3 0h2m3 0h2m3 0h2m3 0h2m28 0h2m28 0h2M967 1626h5m3 0h2m3 0h2m3 0h2m3 0h2m3 0h2m8 0h2m3 0h2m3 0h2m8 0h2m3 0h2m3 0h2m8 0h2m3 0h2m3 0h2m8 0h2m8 0h2m3 0h2m3 0h2m3 0h2m3 0h2m3 0h2m3 0h2m3 0h2m3 0h2m3 0h2m3 0h2m3 0h2m3 0h2m3 0h2m3 0h2m3 0h2m3 0h2m3 0h2m3 0h2m3 0h2m3 0h7m3 0h2m3 0h2m3 0h2m3 0h2m3 0h2m3 0h2m3 0h2m3 0h2m3 0h7m3 0h2m3 0h2m3 0h2m3 0h2m3 0h2m3 0h2m3 0h2m3 0h2m3 0h2m8 0h2m3 0h2m3 0h2m3 0h2m3 0h2m3 0h2m3 0h2m8 0h2M967 1628h2m18 0h2m8 0h2m8 0h2m8 0h2m138 0h2m3 0h2m3 0h2m3 0h2m3 0h2m3 0h2m3 0h2m3 0h2m3 0h2m3 0h2m3 0h2m8 0h2m8 0h2m8 0h2m18 0h2m8 0h2m8 0h2m8 0h2m28 0h2m8 0h2M962 1631h5m3 0h2m3 0h2m3 0h2m3 0h2m3 0h2m3 0h2m3 0h2m3 0h2m3 0h2m3 0h2m3 0h2m3 0h2m3 0h2m3 0h2m3 0h2m3 0h2m3 0h2m3 0h2m3 0h2m3 0h2m3 0h2m3 0h2m3 0h2m3 0h2m3 0h2m3 0h2m3 0h2m3 0h2m3 0h2m3 0h2m3 0h2m3 0h2m3 0h2m3 0h2m3 0h2m3 0h2m3 0h2m3 0h2m3 0h7m3 0h7m3 0h7m3 0h7m3 0h7m3 0h2m3 0h2m3 0h2m3 0h2m3 0h2m3 0h2m3 0h2m3 0h2m3 0h2m3 0h2m3 0h2m3 0h2m3 0h2m3 0h2m3 0h2m3 0h2m3 0h2m3 0h2m3 0h2m3 0h2m3 0h2m8 0h2m3 0h4M962 1633h2m8 0h2m8 0h2m8 0h2m28 0h2m28 0h2m28 0h2m8 0h2m18 0h2m3 0h2m3 0h2m8 0h2m3 0h2m3 0h2m3 0h2m3 0h2m3 0h2m3 0h2m3 0h2m3 0h2m3 0h2m3 0h2m3 0h2m3 0h2m3 0h2m3 0h2m3 0h2m3 0h2m3 0h2m3 0h2m3 0h2m3 0h2m3 0h2m3 0h2m8 0h2m8 0h2m8 0h2M960 1636h2m3 0h2m3 0h2m3 0h2m3 0h2m3 0h2m3 0h2m3 0h2m8 0h2m3 0h2m3 0h2m3 0h2m3 0h2m8 0h2m3 0h2m3 0h2m3 0h2m3 0h2m3 0h2m3 0h2m3 0h2m3 0h2m3 0h2m3 0h2m8 0h2m3 0h2m3 0h2m3 0h2m3 0h2m3 0h2m3 0h2m3 0h2m3 0h2m3 0h2m3 0h2m3 0h2m3 0h2m3 0h2m3 0h2m3 0h2m3 0h7m3 0h2m3 0h2m3 0h7m3 0h2m3 0h2m3 0h2m3 0h2m3 0h2m3 0h2m3 0h2m3 0h2m3 0h2m3 0h2m3 0h2m3 0h2m3 0h2m3 0h2m3 0h2m3 0h2m3 0h2m3 0h2m3 0h2m3 0h2m3 0h2m3 0h2m3 0h2m3 0h2m3 0h2m3 0h4M957 1638h2m18 0h2m118 0h2m28 0h2m3 0h2m3 0h2m3 0h2m3 0h2m8 0h2m8 0h2m3 0h2m3 0h2m3 0h2m3 0h2m8 0h2m8 0h2m8 0h2m8 0h2m48 0h2M955 1641h2m3 0h2m3 0h2m3 0h2m3 0h2m3 0h2m3 0h2m3 0h2m3 0h2m3 0h2m3 0h2m3 0h2m3 0h2m3 0h2m3 0h2m3 0h2m8 0h2m3 0h2m3 0h2m3 0h2m3 0h2m3 0h2m3 0h2m3 0h2m3 0h2m3 0h2m3 0h2m3 0h2m3 0h2m3 0h2m3 0h2m3 0h2m3 0h2m3 0h2m3 0h2m3 0h2m3 0h7m3 0h2m3 0h2m3 0h2m3 0h2m3 0h7m3 0h12m3 0h2m3 0h2m3 0h2m3 0h2m3 0h2m3 0h2m3 0h2m3 0h2m3 0h2m3 0h2m3 0h2m3 0h2m3 0h2m3 0h2m3 0h2m3 0h2m3 0h2m3 0h2m3 0h2m3 0h2m3 0h2m3 0h2m3 0h2m3 0h2m3 0h2m3 0h2m3 0h2m3 0h2m3 0h4M962 1643h2m8 0h2m18 0h2m8 0h2m38 0h2m18 0h2m38 0h2m8 0h2m3 0h2m3 0h2m8 0h2m8 0h2m3 0h2m3 0h2m3 0h2m3 0h2m3 0h2m3 0h2m3 0h2m3 0h2m3 0h2m3 0h2m3 0h2m3 0h2m3 0h2m3 0h2m3 0h2m3 0h2m3 0h2m3 0h2m3 0h2m3 0h2m28 0h2m8 0h2m8 0h2m18 0h2m23 0h5M952 1646h5m8 0h2m3 0h2m3 0h2m8 0h2m3 0h2m3 0h2m8 0h2m3 0h2m3 0h2m3 0h2m3 0h2m3 0h2m3 0h2m8 0h2m8 0h2m3 0h2m3 0h2m3 0h2m3 0h2m3 0h2m3 0h2m8 0h2m3 0h2m3 0h2m3 0h2m3 0h2m3 0h2m3 0h2m3 0h2m3 0h2m3 0h2m3 0h2m3 0h2m3 0h2m3 0h2m3 0h2m3 0h2m3 0h2m3 0h2m3 0h7m3 0h2m3 0h2m3 0h7m3 0h2m3 0h2m3 0h2m3 0h2m3 0h2m3 0h2m3 0h2m3 0h2m3 0h2m3 0h2m3 0h2m3 0h2m3 0h2m8 0h2m8 0h2m3 0h2m3 0h2m8 0h2m8 0h2m3 0h2m3 0h2m3 0h2M1107 1648h2m8 0h2m8 0h2m3 0h2m3 0h2m8 0h2m3 0h2m3 0h2m3 0h2m3 0h2m3 0h2m3 0h2m3 0h2m3 0h2m3 0h2m3 0h2m8 0h2m3 0h2m3 0h2m3 0h2m3 0h2m3 0h2m3 0h2m3 0h2m3 0h2m93 0h2M947 1651h5m3 0h2m3 0h2m3 0h2m3 0h2m3 0h2m3 0h2m3 0h2m3 0h2m3 0h2m3 0h2m8 0h2m8 0h2m3 0h2m3 0h2m3 0h2m3 0h2m3 0h2m3 0h2m3 0h2m3 0h2m3 0h2m3 0h2m3 0h2m3 0h2m3 0h2m3 0h2m3 0h2m3 0h2m3 0h2m3 0h2m3 0h2m3 0h2m3 0h2m3 0h2m3 0h2m3 0h7m3 0h2m3 0h2m3 0h7m3 0h2m3 0h2m3 0h7m3 0h7m3 0h2m3 0h2m3 0h2m3 0h2m3 0h2m3 0h2m3 0h2m3 0h2m3 0h2m3 0h2m3 0h2m3 0h2m3 0h2m3 0h2m3 0h2m3 0h2m3 0h2m3 0h2m3 0h2m3 0h2m3 0h2m3 0h2m3 0h2m3 0h2m3 0h2m3 0h2m3 0h2m3 0h2m3 0h2m3 0h2M947 1653h2m133 0h2m8 0h2m8 0h2m3 0h2m3 0h2m8 0h2m3 0h2m3 0h2m8 0h2m3 0h2m3 0h2m3 0h2m3 0h2m3 0h2m3 0h2m3 0h2m3 0h2m3 0h2m3 0h2m3 0h2m3 0h2m3 0h2m3 0h2m8 0h2m3 0h2m3 0h2m8 0h2m3 0h2m8 0h2m3 0h2m18 0h2m28 0h2m8 0h2m8 0h2m8 0h2m3 0h2M945 1656h2m3 0h2m3 0h2m3 0h2m3 0h2m3 0h2m3 0h2m8 0h2m3 0h2m3 0h2m8 0h2m3 0h2m3 0h2m3 0h2m3 0h2m3 0h2m3 0h2m3 0h2m3 0h2m3 0h2m3 0h2m3 0h2m3 0h2m3 0h2m3 0h2m3 0h2m3 0h2m3 0h2m3 0h2m8 0h2m3 0h2m3 0h2m3 0h2m3 0h2m3 0h2m3 0h2m3 0h2m3 0h2m3 0h2m3 0h2m3 0h2m3 0h2m3 0h2m3 0h2m3 0h2m3 0h2m3 0h2m3 0h2m3 0h2m3 0h2m3 0h2m3 0h2m3 0h2m3 0h2m3 0h2m3 0h2m3 0h2m3 0h2m3 0h2m3 0h2m8 0h2m3 0h2m3 0h2m3 0h2m3 0h2m3 0h2m3 0h2m3 0h2m3 0h2m3 0h2m3 0h2m3 0h2m3 0h2m3 0h2m3 0h2m8 0h2m3 0h2M942 1658h2m83 0h2m78 0h2m28 0h2m3 0h2m3 0h2m8 0h2m8 0h2m8 0h2m3 0h2m3 0h2m8 0h2m3 0h2m3 0h2m13 0h2m3 0h2m8 0h2m48 0h2m18 0h2m8 0h2m33 0h2M940 1661h2m3 0h2m3 0h2m3 0h2m3 0h2m3 0h2m3 0h2m3 0h2m3 0h2m3 0h2m3 0h2m3 0h2m3 0h2m8 0h2m3 0h2m3 0h2m8 0h2m3 0h2m3 0h2m3 0h2m3 0h2m3 0h2m3 0h2m3 0h2m3 0h2m3 0h2m3 0h2m3 0h2m3 0h2m3 0h2m3 0h2m3 0h2m3 0h2m3 0h2m3 0h2m3 0h2m3 0h2m3 0h2m3 0h2m3 0h2m3 0h2m3 0h2m3 0h2m3 0h2m3 0h7m3 0h2m3 0h2m3 0h2m3 0h2m3 0h2m3 0h2m3 0h2m3 0h2m3 0h2m3 0h2m3 0h2m3 0h2m3 0h2m3 0h2m3 0h2m3 0h2m3 0h2m3 0h2m3 0h2m3 0h2m3 0h2m3 0h2m3 0h2m3 0h2m3 0h2m3 0h2m3 0h2m3 0h2m3 0h2m3 0h2m3 0h2m3 0h2m3 0h2m3 0h2m3 0h2m3 0h2M937 1663h2m73 0h2m48 0h2m18 0h2m28 0h2m8 0h2m3 0h2m3 0h2m3 0h2m3 0h2m3 0h2m3 0h2m3 0h2m3 0h2m3 0h2m3 0h2m3 0h2m3 0h2m3 0h2m3 0h2m3 0h2m3 0h2m3 0h2m3 0h2m8 0h2m3 0h2m3 0h2m3 0h2m3 0h2m8 0h2m38 0h2m18 0h2m8 0h2m8 0h2m8 0h2m8 0h2m3 0h2M935 1666h2m8 0h2m3 0h2m3 0h2m3 0h2m3 0h2m3 0h2m3 0h2m8 0h2m3 0h2m3 0h2m3 0h2m3 0h2m3 0h2m3 0h2m3 0h2m3 0h2m3 0h2m3 0h2m8 0h2m3 0h2m3 0h2m3 0h2m3 0h2m8 0h2m8 0h2m3 0h2m3 0h2m8 0h2m3 0h2m3 0h2m3 0h2m3 0h2m3 0h2m3 0h2m3 0h2m3 0h2m3 0h2m3 0h2m3 0h2m3 0h2m3 0h2m3 0h7m3 0h2m3 0h2m3 0h7m3 0h2m3 0h2m3 0h2m3 0h2m3 0h2m3 0h2m3 0h2m3 0h2m3 0h2m3 0h2m3 0h2m3 0h2m3 0h2m3 0h2m3 0h2m3 0h2m3 0h2m3 0h2m3 0h2m3 0h2m3 0h2m8 0h2m3 0h2m3 0h2m8 0h2m3 0h2m3 0h2m8 0h2m3 0h2M937 1668h2m108 0h2m68 0h2m8 0h2m8 0h2m8 0h2m8 0h2m8 0h2m8 0h2m8 0h2m8 0h2m8 0h2m8 0h2m8 0h2m133 0h2M932 1671h5m3 0h2m3 0h2m3 0h2m3 0h2m3 0h2m3 0h2m3 0h2m3 0h2m3 0h2m8 0h2m3 0h2m3 0h2m3 0h2m3 0h2m8 0h2m3 0h2m3 0h2m3 0h2m3 0h2m8 0h2m3 0h2m3 0h2m8 0h2m3 0h2m3 0h2m3 0h2m3 0h2m8 0h2m3 0h2m3 0h2m3 0h2m3 0h2m3 0h2m3 0h2m3 0h2m3 0h2m3 0h2m3 0h2m3 0h2m3 0h2m3 0h2m3 0h2m3 0h2m3 0h2m3 0h2m3 0h2m3 0h2m3 0h7m3 0h2m3 0h2m3 0h2m3 0h2m3 0h2m3 0h2m3 0h2m3 0h2m3 0h2m3 0h2m3 0h2m3 0h2m3 0h2m3 0h2m3 0h2m8 0h2m3 0h2m3 0h2m3 0h2m3 0h2m3 0h2m3 0h2m3 0h2m3 0h2m3 0h2m3 0h2m3 0h2m3 0h2m8 0h2m3 0h2M932 1673h2m8 0h2m8 0h2m8 0h2m18 0h2m48 0h2m8 0h2m28 0h2m8 0h2m18 0h2m8 0h2m8 0h2m8 0h2m3 0h2m3 0h2m8 0h2m8 0h2m3 0h2m3 0h2m8 0h2m3 0h2m3 0h2m8 0h2m3 0h2m3 0h2m8 0h2m8 0h2m8 0h2m13 0h2m13 0h2m8 0h2m18 0h2m8 0h2m8 0h2m18 0h2m23 0h2M927 1676h5m3 0h2m3 0h2m3 0h2m3 0h2m3 0h2m8 0h2m13 0h2m3 0h2m8 0h2m8 0h2m3 0h2m3 0h2m8 0h2m3 0h2m3 0h2m8 0h2m8 0h2m3 0h2m3 0h2m3 0h2m3 0h2m3 0h2m3 0h2m8 0h2m3 0h2m3 0h2m3 0h2m3 0h2m3 0h2m3 0h2m3 0h2m3 0h2m3 0h2m3 0h2m3 0h2m3 0h2m3 0h2m3 0h2m3 0h2m3 0h2m3 0h2m3 0h2m3 0h2m3 0h2m3 0h2m3 0h2m3 0h2m3 0h2m3 0h2m3 0h2m3 0h2m3 0h2m3 0h2m3 0h2m3 0h2m3 0h2m3 0h2m3 0h2m3 0h2m3 0h2m3 0h2m3 0h2m8 0h2m8 0h2m3 0h2m3 0h2m3 0h2m3 0h2m3 0h2m3 0h2m3 0h2m3 0h2m3 0h2m3 0h2m8 0h2m3 0h2M997 1678h2m148 0h2m8 0h2m8 0h2m3 0h2m3 0h2m3 0h2m3 0h2m3 0h2m3 0h2m8 0h2m18 0h2m8 0h2m18 0h2m48 0h2m48 0h2m13 0h2M922 1681h5m3 0h2m3 0h2m3 0h2m3 0h2m3 0h2m3 0h2m3 0h2m8 0h2m3 0h2m3 0h2m8 0h2m3 0h2m3 0h2m8 0h2m3 0h2m3 0h2m3 0h2m3 0h2m3 0h2m3 0h2m3 0h2m3 0h2m3 0h2m3 0h2m3 0h2m3 0h2m3 0h2m3 0h2m3 0h2m3 0h2m3 0h2m3 0h2m3 0h2m3 0h2m3 0h2m3 0h2m3 0h2m3 0h2m3 0h2m3 0h2m3 0h2m3 0h2m3 0h2m3 0h2m3 0h2m3 0h2m3 0h2m3 0h2m3 0h2m3 0h7m3 0h7m3 0h2m3 0h2m3 0h2m3 0h2m3 0h2m3 0h2m3 0h2m3 0h2m3 0h2m3 0h2m3 0h2m3 0h2m3 0h2m3 0h2m3 0h2m3 0h2m3 0h2m3 0h2m3 0h2m3 0h2m3 0h2m3 0h2m3 0h2m3 0h2m3 0h2m3 0h2m3 0h2m8 0h2m3 0h2m3 0h2m3 0h2m3 0h2m3 0h2M962 1683h2m18 0h2m38 0h2m18 0h2m68 0h2m8 0h2m8 0h2m8 0h2m3 0h2m3 0h2m8 0h2m3 0h2m3 0h2m3 0h2m3 0h2m3 0h2m3 0h2m3 0h2m3 0h2m3 0h2m3 0h2m3 0h2m3 0h2m3 0h2m3 0h2m8 0h2m8 0h2m8 0h2m8 0h2m8 0h2m8 0h2m38 0h2m18 0h2m8 0h2m13 0h2M917 1686h2m6 0h2m8 0h2m8 0h2m3 0h2m3 0h2m8 0h2m8 0h2m8 0h2m8 0h2m8 0h2m3 0h2m3 0h2m8 0h2m8 0h2m3 0h2m3 0h2m8 0h2m8 0h2m3 0h2m3 0h2m3 0h2m3 0h2m8 0h2m8 0h2m8 0h2m3 0h2m3 0h2m3 0h2m3 0h2m3 0h2m3 0h2m3 0h2m3 0h2m3 0h2m3 0h2m3 0h2m3 0h2m3 0h2m3 0h2m3 0h2m3 0h2m3 0h2m3 0h2m3 0h2m3 0h2m3 0h2m3 0h2m3 0h2m3 0h2m3 0h2m3 0h2m3 0h2m3 0h2m3 0h2m3 0h2m3 0h2m3 0h2m3 0h2m3 0h2m3 0h2m3 0h2m8 0h2m3 0h2m3 0h2m8 0h2m3 0h2m3 0h2m3 0h2m3 0h2m3 0h2m3 0h2m3 0h2m3 0h2m3 0h2m3 0h2m3 0h2M917 1688h2m18 0h2m198 0h2m8 0h2m13 0h2m3 0h2m8 0h2m8 0h2m8 0h2m8 0h2m8 0h2m28 0h2m98 0h2m18 0h2m13 0h2M912 1691h5m3 0h2m3 0h2m3 0h2m3 0h2m3 0h2m3 0h2m3 0h2m3 0h2m3 0h2m3 0h2m3 0h2m3 0h2m3 0h2m3 0h2m3 0h2m3 0h2m3 0h2m3 0h2m3 0h2m8 0h2m3 0h2m3 0h2m3 0h2m3 0h2m3 0h2m3 0h2m8 0h2m3 0h2m3 0h2m3 0h2m3 0h2m8 0h2m3 0h2m3 0h2m3 0h2m3 0h2m3 0h2m3 0h2m3 0h2m3 0h2m3 0h2m3 0h2m3 0h2m3 0h2m3 0h2m3 0h2m3 0h2m3 0h2m3 0h2m3 0h2m3 0h2m3 0h2m3 0h2m3 0h2m3 0h2m3 0h2m3 0h2m3 0h2m3 0h2m3 0h2m3 0h2m3 0h2m3 0h2m3 0h2m3 0h2m3 0h2m3 0h2m3 0h2m3 0h2m3 0h2m3 0h2m3 0h2m3 0h2m3 0h2m3 0h2m3 0h2m3 0h2m3 0h2m3 0h2m3 0h2m8 0h2m8 0h2m3 0h2m3 0h2m8 0h2m8 0h2m3 0h2M912 1693h2m18 0h2m148 0h2m18 0h2m8 0h2m8 0h2m8 0h2m8 0h2m3 0h2m3 0h2m18 0h2m8 0h2m3 0h2m3 0h2m3 0h2m3 0h2m3 0h2m3 0h2m8 0h2m18 0h2m8 0h2m8 0h2m18 0h2m8 0h2m28 0h2m28 0h2m18 0h2m13 0h2M910 1696h2m3 0h2m8 0h2m3 0h2m3 0h2m3 0h2m3 0h2m3 0h2m3 0h2m3 0h2m3 0h2m3 0h2m3 0h2m8 0h2m3 0h2m3 0h2m8 0h2m8 0h2m3 0h2m3 0h2m3 0h2m3 0h2m8 0h2m3 0h2m3 0h2m3 0h2m3 0h2m8 0h2m8 0h2m3 0h2m3 0h2m8 0h2m8 0h2m3 0h2m3 0h2m3 0h2m3 0h2m3 0h2m3 0h2m3 0h2m3 0h2m3 0h2m3 0h2m3 0h2m3 0h2m3 0h2m3 0h2m3 0h2m3 0h2m3 0h2m3 0h2m3 0h2m3 0h2m3 0h2m3 0h2m3 0h2m3 0h2m3 0h2m3 0h2m3 0h2m3 0h2m3 0h2m3 0h2m3 0h2m3 0h2m3 0h2m3 0h2m8 0h2m3 0h2m3 0h2m8 0h2m8 0h2m8 0h2m3 0h2m3 0h2m3 0h2m3 0h2m3 0h2m3 0h2m3 0h2m3 0h2m8 0h2m3 0h2M907 1698h2m18 0h2m18 0h2m158 0h2m28 0h2m8 0h2m18 0h2m8 0h2m8 0h2m18 0h2m8 0h2m78 0h2m48 0h2M905 1701h2m3 0h2m3 0h2m3 0h2m3 0h2m3 0h2m3 0h2m3 0h2m3 0h2m3 0h2m3 0h2m3 0h2m3 0h2m3 0h2m3 0h2m3 0h2m3 0h2m3 0h2m3 0h2m3 0h2m3 0h2m3 0h2m8 0h2m3 0h2m3 0h2m3 0h2m3 0h2m3 0h2m3 0h2m3 0h2m3 0h2m3 0h2m3 0h2m3 0h2m3 0h2m3 0h2m3 0h2m3 0h2m3 0h2m3 0h2m3 0h2m3 0h2m3 0h2m3 0h2m3 0h2m3 0h2m3 0h2m3 0h2m3 0h2m3 0h2m3 0h2m3 0h2m3 0h2m3 0h2m3 0h2m3 0h2m3 0h2m3 0h2m3 0h2m3 0h2m3 0h2m3 0h2m3 0h2m3 0h2m3 0h2m3 0h2m3 0h2m3 0h2m3 0h2m3 0h2m3 0h2m3 0h2m3 0h2m3 0h2m3 0h2m3 0h2m3 0h2m8 0h2m3 0h2m3 0h2m3 0h2m3 0h2m3 0h2m3 0h2m3 0h2m3 0h2m3 0h2m3 0h2m3 0h2m3 0h2m3 0h2m3 0h2m3 0h2m3 0h2m3 0h2m3 0h2m3 0h2M902 1703h2m18 0h2m68 0h2m18 0h2m8 0h2m8 0h2m28 0h2m8 0h2m18 0h2m18 0h2m8 0h2m8 0h2m3 0h2m3 0h2m28 0h2m18 0h2m3 0h2m8 0h2m3 0h2m3 0h2m13 0h2m8 0h2m28 0h2m48 0h2m48 0h2m18 0h2m8 0h2M897 1706h5m3 0h2m3 0h2m3 0h2m3 0h2m3 0h2m8 0h2m3 0h2m3 0h2m3 0h2m3 0h2m3 0h2m3 0h2m3 0h2m3 0h2m8 0h2m3 0h2m3 0h2m8 0h2m13 0h2m3 0h2m8 0h2m3 0h2m3 0h2m3 0h2m3 0h2m3 0h2m3 0h2m3 0h2m3 0h2m8 0h2m8 0h2m3 0h2m3 0h2m3 0h2m3 0h2m8 0h2m3 0h2m3 0h2m3 0h2m3 0h2m3 0h2m3 0h2m8 0h2m8 0h2m3 0h2m3 0h2m3 0h2m3 0h2m3 0h2m3 0h2m8 0h2m3 0h2m3 0h2m3 0h2m3 0h2m3 0h2m3 0h2m3 0h2m3 0h2m3 0h2m3 0h2m3 0h2m3 0h2m3 0h2m3 0h2m8 0h2m8 0h2m8 0h2m8 0h2m3 0h2m3 0h2m8 0h2m3 0h2m3 0h2m3 0h2m3 0h2m3 0h2m3 0h2m3 0h2m3 0h2m3 0h2m3 0h2m8 0h2M897 1708h2m18 0h2m8 0h2m18 0h2m158 0h2m38 0h2m8 0h2m38 0h2m28 0h2m18 0h2m128 0h2m8 0h2m18 0h2M892 1711h5m3 0h2m3 0h2m3 0h2m3 0h2m3 0h2m3 0h2m3 0h2m3 0h2m3 0h2m3 0h2m3 0h2m3 0h2m3 0h2m3 0h2m3 0h2m8 0h2m3 0h2m3 0h2m3 0h2m3 0h2m8 0h2m3 0h2m3 0h2m3 0h2m3 0h2m8 0h2m8 0h2m8 0h2m8 0h2m3 0h2m3 0h2m3 0h2m3 0h2m3 0h2m3 0h2m3 0h2m3 0h2m3 0h2m3 0h2m3 0h2m3 0h2m3 0h2m3 0h2m3 0h2m3 0h2m3 0h2m3 0h2m3 0h2m3 0h2m3 0h2m3 0h2m3 0h2m3 0h2m3 0h2m3 0h2m3 0h2m3 0h2m3 0h2m3 0h2m3 0h2m3 0h2m3 0h2m3 0h2m3 0h2m3 0h2m8 0h2m3 0h2m3 0h2m3 0h2m3 0h2m3 0h2m3 0h2m3 0h2m3 0h2m3 0h2m3 0h2m3 0h2m3 0h2m3 0h2m3 0h2m3 0h2m3 0h2m3 0h2m3 0h2m3 0h2m3 0h2m3 0h2m3 0h2m8 0h2m3 0h2m3 0h2m3 0h2m3 0h2m3 0h2m3 0h4M892 1713h2m8 0h2m3 0h2m3 0h2m3 0h2m3 0h2m8 0h2m128 0h2m28 0h2m18 0h2m8 0h2m28 0h2m8 0h2m18 0h2m18 0h2m58 0h2m8 0h2m18 0h2m58 0h2m18 0h2m8 0h2m8 0h2m8 0h2m8 0h2M887 1716h5m3 0h2m3 0h2m3 0h2m3 0h2m3 0h2m8 0h2m8 0h2m3 0h2m3 0h2m8 0h2m8 0h2m3 0h2m3 0h2m3 0h2m13 0h2m8 0h2m13 0h2m3 0h2m8 0h2m8 0h2m8 0h2m3 0h2m3 0h2m8 0h2m3 0h2m3 0h2m8 0h2m3 0h2m3 0h2m3 0h2m3 0h2m3 0h2m3 0h2m8 0h2m3 0h2m3 0h2m3 0h2m3 0h2m3 0h2m3 0h2m3 0h2m3 0h2m3 0h2m3 0h2m8 0h2m3 0h2m3 0h2m8 0h2m8 0h2m3 0h2m3 0h2m8 0h2m8 0h2m8 0h2m8 0h2m3 0h2m3 0h2m3 0h2m3 0h2m8 0h2m3 0h2m3 0h2m3 0h2m3 0h2m8 0h2m3 0h2m3 0h2m3 0h2m3 0h2m3 0h2m3 0h2m3 0h2m3 0h2m3 0h2m3 0h2m3 0h2m3 0h2m8 0h2m3 0h2m3 0h7M887 1718h2m18 0h2m28 0h2m408 0h2m28 0h2m8 0h2m33 0h2M882 1721h5m3 0h2m3 0h2m3 0h2m3 0h2m3 0h2m3 0h2m3 0h2m3 0h2m3 0h2m3 0h2m3 0h2m3 0h2m3 0h2m3 0h2m3 0h2m3 0h2m3 0h2m8 0h2m3 0h2m3 0h2m3 0h2m3 0h2m8 0h2m8 0h2m3 0h2m3 0h2m8 0h2m8 0h2m3 0h2m3 0h2m3 0h2m3 0h2m3 0h2m3 0h2m3 0h2m3 0h2m8 0h2m3 0h2m3 0h2m3 0h2m3 0h2m3 0h2m3 0h2m3 0h2m3 0h2m3 0h2m3 0h2m3 0h2m3 0h2m3 0h2m3 0h2m3 0h2m3 0h2m3 0h2m3 0h2m8 0h2m3 0h2m3 0h2m3 0h2m3 0h2m3 0h2m3 0h2m3 0h2m3 0h2m3 0h2m3 0h2m3 0h2m3 0h2m3 0h2m3 0h2m8 0h2m3 0h2m3 0h2m3 0h2m3 0h2m3 0h2m3 0h2m3 0h2m3 0h2m3 0h2m3 0h2m3 0h2m3 0h2m3 0h2m3 0h2m3 0h2m3 0h2m3 0h2m3 0h2m3 0h2m3 0h2m3 0h2m3 0h2m3 0h2m3 0h2m3 0h2m3 0h2m3 0h2m3 0h2m3 0h4M892 1723h2m13 0h2m8 0h2m3 0h2m3 0h2m3 0h2m18 0h2m18 0h2m68 0h2m78 0h2m8 0h2m38 0h2m48 0h2m8 0h2m8 0h2m58 0h2m28 0h2m8 0h2m8 0h2m8 0h2m8 0h2m8 0h2m8 0h2m28 0h2M877 1726h2m6 0h2m3 0h2m3 0h2m3 0h2m3 0h2m8 0h2m8 0h2m3 0h2m3 0h2m3 0h2m3 0h2m8 0h2m8 0h2m8 0h2m3 0h2m3 0h2m13 0h2m3 0h2m3 0h2m8 0h2m3 0h2m8 0h2m8 0h2m8 0h2m3 0h2m3 0h2m8 0h2m3 0h2m3 0h2m3 0h2m3 0h2m8 0h2m3 0h2m3 0h2m8 0h2m3 0h2m3 0h2m3 0h2m3 0h2m3 0h2m3 0h2m8 0h2m3 0h2m3 0h2m3 0h2m3 0h2m3 0h2m3 0h2m8 0h2m8 0h2m8 0h2m3 0h2m3 0h2m8 0h2m3 0h2m3 0h2m3 0h2m3 0h2m8 0h2m3 0h2m3 0h2m3 0h2m3 0h2m3 0h2m3 0h2m3 0h2m3 0h2m3 0h2m3 0h2m3 0h2m3 0h2m3 0h2m3 0h2m3 0h2m3 0h2m3 0h2m3 0h2m3 0h2m3 0h2m3 0h2m3 0h2m3 0h2m3 0h2m3 0h2m3 0h2m8 0h2m3 0h2m3 0h2m3 0h7M872 1728h2m13 0h2m38 0h2m198 0h2m148 0h2m18 0h2m38 0h2m98 0h2M870 1731h7m3 0h2m3 0h2m3 0h2m3 0h2m3 0h2m3 0h2m3 0h2m3 0h2m3 0h2m3 0h2m3 0h2m3 0h2m3 0h2m3 0h2m3 0h2m3 0h2m3 0h2m3 0h2m3 0h2m3 0h2m3 0h2m3 0h2m3 0h2m8 0h2m3 0h2m3 0h2m3 0h2m3 0h2m8 0h2m3 0h2m3 0h2m3 0h2m3 0h2m3 0h2m3 0h2m3 0h2m3 0h2m3 0h2m3 0h2m8 0h2m3 0h2m3 0h2m3 0h2m3 0h2m3 0h2m3 0h2m3 0h2m3 0h2m3 0h2m3 0h2m3 0h2m3 0h2m3 0h2m3 0h2m8 0h2m3 0h2m3 0h2m3 0h2m3 0h2m8 0h2m3 0h2m3 0h2m3 0h2m3 0h2m3 0h2m3 0h2m3 0h2m3 0h2m3 0h2m3 0h2m3 0h2m3 0h2m3 0h2m3 0h2m8 0h2m3 0h2m3 0h2m3 0h2m3 0h2m8 0h2m3 0h2m3 0h2m3 0h2m3 0h2m3 0h2m3 0h2m3 0h2m3 0h2m3 0h2m3 0h2m3 0h2m3 0h2m3 0h2m3 0h2m3 0h2m3 0h2m3 0h2m3 0h2m3 0h2m3 0h2m3 0h2m3 0h2m3 0h2m3 0h2m3 0h2m3 0h4M867 1733h2m33 0h2m8 0h2m8 0h2m8 0h2m3 0h2m13 0h2m8 0h2m18 0h2m8 0h2m68 0h2m8 0h2m8 0h2m8 0h2m8 0h2m18 0h2m78 0h2m8 0h2m18 0h2m28 0h2m8 0h2m38 0h2m28 0h2m8 0h2m8 0h2m28 0h2m8 0h2m8 0h2m8 0h2m18 0h2m3 0h2M865 1736h2m3 0h2m3 0h2m3 0h2m3 0h2m3 0h2m3 0h2m3 0h2m3 0h2m8 0h2m8 0h2m3 0h2m3 0h2m3 0h2m3 0h2m3 0h2m3 0h2m3 0h2m3 0h2m3 0h2m3 0h2m3 0h2m3 0h2m8 0h2m3 0h2m3 0h2m8 0h2m8 0h2m3 0h2m3 0h2m3 0h2m3 0h2m8 0h2m3 0h2m3 0h2m3 0h2m3 0h2m3 0h2m3 0h2m8 0h2m8 0h2m3 0h2m3 0h2m3 0h2m3 0h2m3 0h2m3 0h2m3 0h2m3 0h2m8 0h2m3 0h2m13 0h2m3 0h2m3 0h2m3 0h2m3 0h2m8 0h2m8 0h2m3 0h2m3 0h2m8 0h2m8 0h2m8 0h2m3 0h2m3 0h2m3 0h2m3 0h2m8 0h2m3 0h2m3 0h2m3 0h2m3 0h2m3 0h2m3 0h2m3 0h2m3 0h2m3 0h2m3 0h2m3 0h2m3 0h2m3 0h2m3 0h2m3 0h2m3 0h2m3 0h2m3 0h2m3 0h2m3 0h2m3 0h2m3 0h2m8 0h2m3 0h2m3 0h2m3 0h2m3 0h2m3 0h2m3 0h2m3 0h2m3 0h2m3 0h4M862 1738h2m33 0h2m18 0h2m8 0h2m8 0h2m8 0h2m8 0h2m8 0h2m318 0h2m8 0h2m78 0h2m8 0h2M857 1741h5m3 0h2m3 0h2m3 0h2m3 0h2m3 0h2m3 0h2m3 0h2m3 0h2m3 0h2m3 0h2m3 0h2m3 0h2m3 0h2m3 0h2m3 0h2m3 0h2m3 0h2m3 0h2m3 0h2m3 0h2m3 0h2m3 0h2m3 0h2m3 0h2m3 0h2m3 0h2m3 0h2m3 0h2m3 0h2m3 0h2m3 0h2m3 0h2m3 0h2m3 0h2m3 0h2m3 0h2m8 0h2m3 0h2m3 0h2m3 0h2m3 0h2m3 0h2m3 0h2m3 0h2m3 0h2m3 0h2m3 0h2m3 0h2m3 0h2m3 0h2m3 0h2m3 0h2m3 0h2m3 0h2m3 0h2m3 0h2m3 0h2m3 0h2m3 0h2m3 0h2m3 0h2m8 0h2m8 0h2m8 0h2m8 0h2m3 0h2m3 0h2m3 0h2m3 0h2m3 0h2m3 0h2m3 0h2m3 0h2m3 0h2m3 0h2m3 0h2m3 0h2m8 0h2m3 0h2m3 0h2m3 0h2m3 0h2m3 0h2m3 0h2m3 0h2m3 0h2m3 0h2m3 0h2m3 0h2m3 0h2m3 0h2m3 0h2m3 0h2m3 0h2m3 0h2m3 0h2m3 0h2m3 0h2m3 0h2m3 0h2m3 0h2m3 0h2m3 0h2m3 0h2m3 0h2m3 0h2m3 0h2m3 0h2m3 0h2m3 0h2m3 0h2m3 0h2m3 0h2m3 0h2M872 1743h2m8 0h2m18 0h2m28 0h2m8 0h2m18 0h2m8 0h2m8 0h2m8 0h2m18 0h2m48 0h2m18 0h2m8 0h2m8 0h2m18 0h2m108 0h2m58 0h2m18 0h2m8 0h2m8 0h2m13 0h2m3 0h2m8 0h2m18 0h2m8 0h2m3 0h2m13 0h2m18 0h2m18 0h2m8 0h2M852 1746h5m3 0h2m3 0h2m8 0h2m3 0h2m3 0h2m8 0h2m3 0h2m3 0h2m8 0h2m3 0h2m3 0h2m3 0h2m3 0h2m3 0h2m3 0h2m3 0h2m3 0h2m3 0h2m3 0h2m8 0h2m8 0h2m8 0h2m8 0h2m3 0h2m3 0h2m8 0h2m8 0h2m8 0h2m3 0h2m3 0h2m8 0h2m8 0h2m3 0h2m3 0h2m8 0h2m8 0h2m3 0h2m3 0h2m3 0h2m3 0h2m3 0h2m3 0h2m3 0h2m3 0h2m3 0h2m3 0h2m8 0h2m8 0h2m8 0h2m3 0h2m3 0h2m3 0h2m3 0h2m8 0h2m8 0h2m8 0h2m8 0h2m3 0h2m3 0h2m3 0h2m3 0h2m8 0h2m3 0h2m3 0h2m3 0h2m3 0h2m3 0h2m3 0h2m8 0h2m3 0h2m3 0h2m3 0h2m3 0h2m3 0h2m3 0h2m3 0h2m3 0h2m3 0h2m3 0h2m3 0h2m3 0h2m8 0h2m3 0h2m3 0h2m3 0h2m3 0h2m3 0h2m3 0h2m8 0h2m8 0h2m8 0h2m8 0h2m3 0h2m3 0h7M847 1748h2m28 0h2m8 0h2m28 0h2m28 0h2m8 0h2m8 0h2m18 0h2m18 0h2m108 0h2m138 0h2m28 0h2m58 0h2m8 0h2m8 0h2m28 0h2m8 0h2m63 0h2M845 1751h2m3 0h2m3 0h2m3 0h2m3 0h2m3 0h2m3 0h2m3 0h2m3 0h2m3 0h2m3 0h2m3 0h2m3 0h2m3 0h2m3 0h2m3 0h2m3 0h2m3 0h2m3 0h2m3 0h2m3 0h2m3 0h2m3 0h2m3 0h2m3 0h2m3 0h2m8 0h2m3 0h2m3 0h2m3 0h2m3 0h2m3 0h2m3 0h2m3 0h2m3 0h2m3 0h2m3 0h2m8 0h2m3 0h2m3 0h2m8 0h2m8 0h2m3 0h2m3 0h2m3 0h2m3 0h2m3 0h2m3 0h2m3 0h2m3 0h2m8 0h2m8 0h2m8 0h2m3 0h2m3 0h2m3 0h2m3 0h2m8 0h2m3 0h2m3 0h2m3 0h2m3 0h2m8 0h2m8 0h2m3 0h2m3 0h2m3 0h2m3 0h2m3 0h2m3 0h2m3 0h2m3 0h2m3 0h2m3 0h2m3 0h2m3 0h2m3 0h2m3 0h2m3 0h2m3 0h2m3 0h2m3 0h2m3 0h2m3 0h2m3 0h2m3 0h2m3 0h2m3 0h2m3 0h2m3 0h2m3 0h2m3 0h2m3 0h2m3 0h2m3 0h2m3 0h2m3 0h2m3 0h2m3 0h2m3 0h2m3 0h2m3 0h2m3 0h2m3 0h2m3 0h2m3 0h2m3 0h2m3 0h2m3 0h2m3 0h2m3 0h2m3 0h2m3 0h2m3 0h2m3 0h2m3 0h2m3 0h2m3 0h2M852 1753h2m88 0h2m8 0h2m8 0h2m28 0h2m78 0h2m8 0h2m18 0h2m18 0h2m138 0h2m8 0h2m18 0h2m58 0h2m8 0h2m8 0h2m58 0h2m28 0h2m18 0h2M835 1756h2m3 0h2m3 0h2m8 0h2m8 0h2m8 0h2m8 0h2m3 0h2m3 0h2m8 0h2m8 0h2m3 0h2m3 0h2m8 0h2m3 0h2m3 0h2m3 0h2m3 0h2m3 0h2m3 0h2m8 0h2m3 0h2m3 0h2m3 0h2m3 0h2m3 0h2m3 0h2m3 0h2m3 0h2m8 0h2m8 0h2m8 0h2m8 0h2m3 0h2m3 0h2m8 0h2m3 0h2m3 0h2m8 0h2m3 0h2m3 0h2m8 0h2m3 0h2m3 0h2m3 0h2m3 0h2m3 0h2m3 0h2m8 0h2m3 0h2m3 0h2m3 0h2m3 0h2m8 0h2m3 0h2m3 0h2m3 0h2m13 0h2m8 0h2m8 0h2m8 0h2m8 0h2m3 0h2m3 0h2m3 0h2m3 0h2m3 0h2m3 0h2m3 0h2m3 0h2m3 0h2m3 0h2m3 0h2m3 0h2m8 0h2m3 0h2m3 0h2m3 0h2m3 0h2m3 0h2m3 0h2m3 0h2m3 0h2m3 0h2m3 0h2m8 0h2m8 0h2m8 0h2m8 0h2m3 0h2m3 0h2m3 0h2m3 0h2m3 0h2m3 0h2m8 0h2m3 0h2m3 0h2m3 0h2m3 0h2m3 0h2m3 0h2M967 1758h2m388 0h2m28 0h2m18 0h2m18 0h2m68 0h2M795 1761h2m3 0h2m8 0h2m3 0h2m3 0h2m8 0h2m3 0h2m3 0h2m3 0h2m3 0h2m3 0h2m3 0h2m3 0h2m3 0h2m3 0h2m3 0h2m3 0h2m3 0h2m3 0h2m3 0h2m3 0h2m3 0h2m3 0h2m3 0h2m3 0h2m3 0h2m3 0h2m3 0h2m8 0h2m3 0h2m3 0h2m3 0h2m3 0h2m3 0h2m3 0h2m3 0h2m3 0h2m3 0h2m3 0h2m3 0h2m3 0h2m3 0h2m3 0h2m3 0h2m3 0h2m3 0h2m3 0h2m3 0h2m3 0h2m3 0h2m3 0h2m3 0h2m3 0h2m3 0h2m3 0h2m3 0h2m3 0h2m3 0h2m3 0h2m8 0h2m3 0h2m3 0h2m3 0h2m3 0h2m3 0h2m3 0h2m3 0h2m3 0h2m3 0h2m3 0h2m8 0h2m3 0h2m3 0h2m8 0h2m8 0h2m8 0h2m3 0h2m3 0h2m3 0h2m3 0h2m3 0h2m3 0h2m3 0h2m3 0h2m3 0h2m3 0h2m3 0h2m3 0h2m3 0h2m3 0h2m3 0h2m3 0h2m8 0h2m8 0h2m8 0h2m3 0h2m3 0h2m3 0h2m3 0h2m3 0h2m3 0h2m3 0h2m3 0h2m3 0h2m3 0h2m3 0h2m3 0h2m3 0h2m3 0h2m3 0h2m3 0h2m3 0h2m3 0h2m3 0h2m3 0h2m3 0h2m3 0h2m3 0h2m3 0h2m3 0h2m3 0h2m3 0h2m3 0h2m3 0h2m3 0h2m3 0h2m3 0h2m8 0h2m3 0h2m3 0h2M822 1763h2m78 0h2m28 0h2m8 0h2m18 0h2m8 0h2m28 0h2m18 0h2m38 0h2m18 0h2m18 0h2m8 0h2m18 0h2m48 0h2m98 0h2m8 0h2m8 0h2m8 0h2m18 0h2m8 0h2m8 0h2m28 0h2m8 0h2m78 0h2m18 0h2m8 0h2M765 1766h2m3 0h2m3 0h2m8 0h2m8 0h2m8 0h2m8 0h2m8 0h2m8 0h2m3 0h2m3 0h2m3 0h2m3 0h2m18 0h2m8 0h2m3 0h2m3 0h2m8 0h2m8 0h2m8 0h2m3 0h2m3 0h2m8 0h2m3 0h2m3 0h2m3 0h2m3 0h2m8 0h2m3 0h2m3 0h2m3 0h2m3 0h2m3 0h2m3 0h2m3 0h2m3 0h2m8 0h2m8 0h2m8 0h2m3 0h2m3 0h2m8 0h2m8 0h2m8 0h2m3 0h2m3 0h2m3 0h2m3 0h2m3 0h2m3 0h2m3 0h2m3 0h2m8 0h2m3 0h2m3 0h2m3 0h2m3 0h2m8 0h2m23 0h2m3 0h2m8 0h2m3 0h2m8 0h2m3 0h2m3 0h2m3 0h2m3 0h2m3 0h2m8 0h2m3 0h2m3 0h2m3 0h2m3 0h2m8 0h2m8 0h2m3 0h2m3 0h2m8 0h2m3 0h2m3 0h2m3 0h2m3 0h2m3 0h2m3 0h2m3 0h2m3 0h2m3 0h2m3 0h2m3 0h2m3 0h2m3 0h2m3 0h2m3 0h2m3 0h2m3 0h2m3 0h2m3 0h2m3 0h2m3 0h2m3 0h2m3 0h2m3 0h2m3 0h2m3 0h2m3 0h2m3 0h2m3 0h2m3 0h2m8 0h2m3 0h2m3 0h2m8 0h2m3 0h2m3 0h2m8 0h2m8 0h2M927 1768h2m28 0h2m18 0h2m18 0h2m88 0h2m38 0h2m168 0h2m58 0h2m48 0h2m48 0h2M740 1771h2m3 0h2m3 0h2m3 0h2m3 0h2m3 0h2m3 0h2m8 0h2m3 0h2m3 0h2m3 0h2m3 0h2m8 0h2m8 0h2m3 0h2m3 0h2m3 0h2m3 0h2m3 0h2m3 0h2m3 0h2m3 0h2m3 0h2m3 0h2m8 0h2m3 0h2m3 0h2m3 0h2m3 0h2m3 0h2m3 0h2m3 0h2m3 0h2m3 0h2m3 0h2m3 0h2m3 0h2m3 0h2m3 0h2m8 0h2m8 0h2m3 0h2m3 0h2m3 0h2m3 0h2m3 0h2m3 0h2m3 0h2m3 0h2m3 0h2m3 0h2m3 0h2m3 0h2m3 0h2m3 0h2m8 0h2m3 0h2m3 0h2m8 0h2m3 0h2m3 0h2m3 0h2m3 0h2m8 0h2m3 0h2m3 0h2m3 0h2m3 0h2m3 0h2m3 0h2m3 0h2m3 0h2m3 0h2m3 0h2m8 0h2m3 0h2m3 0h2m3 0h2m3 0h2m3 0h2m3 0h2m3 0h2m3 0h2m3 0h2m3 0h2m3 0h2m3 0h2m3 0h2m3 0h2m8 0h2m3 0h2m3 0h2m3 0h2m3 0h2m3 0h2m3 0h2m3 0h2m3 0h2m3 0h2m3 0h2m3 0h2m3 0h2m3 0h2m3 0h2m8 0h2m3 0h2m3 0h2m3 0h2m3 0h2m3 0h2m3 0h2m3 0h2m3 0h2m3 0h2m3 0h2m3 0h2m3 0h2m3 0h2m3 0h2m3 0h2m3 0h2m8 0h2m3 0h2m3 0h2m3 0h2m3 0h2m3 0h2m3 0h2m3 0h2m3 0h2m3 0h2m3 0h2m3 0h2m3 0h2m3 0h2m3 0h2m3 0h2m3 0h2m3 0h2m3 0h2m8 0h2m3 0h2m3 0h2m3 0h2m3 0h2m3 0h2m3 0h2m3 0h2m3 0h2m3 0h2M782 1773h2m8 0h2m18 0h2m18 0h2m8 0h2m48 0h2m8 0h2m18 0h2m18 0h2m18 0h2m8 0h2m8 0h2m98 0h2m18 0h2m18 0h2m8 0h2m8 0h2m8 0h2m8 0h2m18 0h2m58 0h2m58 0h2m48 0h2m38 0h2m38 0h2m38 0h2m18 0h2m28 0h2m8 0h2m8 0h2m18 0h2M710 1776h2m3 0h2m8 0h2m3 0h2m3 0h2m3 0h2m3 0h2m3 0h2m3 0h2m8 0h2m8 0h2m8 0h2m8 0h2m8 0h2m23 0h2m3 0h2m8 0h2m8 0h2m8 0h2m3 0h2m3 0h2m8 0h2m8 0h2m3 0h2m3 0h2m3 0h2m3 0h2m3 0h2m3 0h2m3 0h2m3 0h2m3 0h2m3 0h2m8 0h2m3 0h2m3 0h2m3 0h2m3 0h2m8 0h2m3 0h2m3 0h2m8 0h2m8 0h2m3 0h2m3 0h2m8 0h2m8 0h2m3 0h2m3 0h2m8 0h2m3 0h2m3 0h2m8 0h2m8 0h2m8 0h2m3 0h2m3 0h2m8 0h2m3 0h2m3 0h2m3 0h2m3 0h2m3 0h2m3 0h2m3 0h2m3 0h2m8 0h2m8 0h2m8 0h2m8 0h2m8 0h2m3 0h2m3 0h2m3 0h2m3 0h2m8 0h2m8 0h2m3 0h2m3 0h2m8 0h2m8 0h2m8 0h2m8 0h2m8 0h2m3 0h2m3 0h2m3 0h2m3 0h2m3 0h2m3 0h2m3 0h2m3 0h2m3 0h2m3 0h2m3 0h2m3 0h2m3 0h2m3 0h2m8 0h2m8 0h2m3 0h2m3 0h2m3 0h2m3 0h2m3 0h2m3 0h2m3 0h2m3 0h2m3 0h2m3 0h2m3 0h2m3 0h2m3 0h2m3 0h2m3 0h2m3 0h2m3 0h2m3 0h2m3 0h2m3 0h2m8 0h2m3 0h2m3 0h2m3 0h2m3 0h2m8 0h2m3 0h2m3 0h2m3 0h2m3 0h2m3 0h2m3 0h2m3 0h2M917 1778h2m168 0h2m38 0h2m208 0h2m18 0h2m118 0h2m18 0h2m48 0h2m8 0h2M680 1781h2m8 0h2m3 0h2m3 0h2m3 0h2m3 0h2m3 0h2m3 0h2m3 0h2m3 0h2m8 0h2m8 0h2m3 0h2m3 0h2m8 0h2m8 0h2m3 0h2m3 0h2m3 0h2m3 0h2m3 0h2m3 0h2m3 0h2m3 0h2m8 0h2m3 0h2m3 0h2m3 0h2m3 0h2m8 0h2m3 0h2m3 0h2m8 0h2m3 0h2m3 0h2m8 0h2m3 0h2m3 0h2m3 0h2m3 0h2m3 0h2m3 0h2m3 0h2m3 0h2m3 0h2m3 0h2m3 0h2m3 0h2m3 0h2m3 0h2m3 0h2m3 0h2m3 0h2m3 0h2m8 0h2m3 0h2m3 0h2m3 0h2m3 0h2m3 0h2m3 0h2m3 0h2m3 0h2m3 0h2m3 0h2m3 0h2m3 0h2m3 0h2m3 0h2m3 0h2m3 0h2m3 0h2m3 0h2m3 0h2m3 0h2m3 0h2m3 0h2m3 0h2m3 0h2m3 0h2m3 0h2m3 0h2m3 0h2m3 0h2m3 0h2m3 0h2m3 0h2m3 0h2m3 0h2m3 0h2m3 0h2m3 0h2m3 0h2m8 0h2m8 0h2m3 0h2m3 0h2m3 0h2m3 0h2m8 0h2m3 0h2m3 0h2m3 0h2m3 0h2m3 0h2m3 0h2m3 0h2m3 0h2m3 0h2m3 0h2m3 0h2m3 0h2m3 0h2m3 0h2m3 0h2m3 0h2m3 0h2m3 0h2m3 0h2m3 0h2m3 0h2m3 0h2m3 0h2m3 0h2m3 0h2m3 0h2m3 0h2m3 0h2m3 0h2m3 0h2m8 0h2m3 0h2m3 0h2m3 0h2m3 0h2m8 0h2m3 0h2m3 0h2m3 0h2m3 0h2m3 0h2m3 0h2m3 0h2m3 0h2m3 0h2m3 0h2m3 0h2m3 0h2m3 0h2m3 0h2m3 0h2m3 0h2m3 0h2m3 0h2m3 0h2m3 0h2m3 0h2m3 0h2m3 0h2m3 0h2m3 0h2m3 0h2m3 0h2m3 0h2m3 0h2m3 0h2m3 0h2m3 0h2m3 0h2m3 0h2m3 0h2M682 1783h2m118 0h2m88 0h2m28 0h2m48 0h2m8 0h2m38 0h2m18 0h2m18 0h2m8 0h2m28 0h2m18 0h2m8 0h2m28 0h2m28 0h2m48 0h2m8 0h2m8 0h2m8 0h2m8 0h2m8 0h2m8 0h2m8 0h2m28 0h2m8 0h2m28 0h2m58 0h2m8 0h2m18 0h2m8 0h2m28 0h2m8 0h2m18 0h2m18 0h2m8 0h2m8 0h2m8 0h2m18 0h2M665 1786h2m3 0h2m3 0h2m8 0h2m3 0h2m3 0h2m23 0h2m3 0h2m8 0h2m8 0h2m8 0h2m8 0h2m8 0h2m3 0h2m3 0h2m3 0h2m3 0h2m3 0h2m3 0h2m3 0h2m3 0h2m3 0h2m3 0h2m8 0h2m3 0h2m3 0h2m3 0h2m3 0h2m8 0h2m3 0h2m3 0h2m8 0h2m3 0h2m3 0h2m3 0h2m3 0h2m8 0h2m3 0h2m3 0h2m3 0h2m3 0h2m3 0h2m3 0h2m3 0h2m3 0h2m3 0h2m3 0h2m8 0h2m3 0h2m3 0h2m3 0h2m3 0h2m3 0h2m3 0h2m3 0h2m3 0h2m3 0h2m3 0h2m3 0h2m3 0h2m3 0h2m3 0h2m8 0h2m3 0h2m3 0h2m3 0h2m3 0h2m3 0h2m3 0h2m3 0h2m3 0h2m3 0h2m3 0h2m3 0h2m3 0h2m8 0h2m3 0h2m3 0h2m3 0h2m3 0h2m8 0h2m3 0h2m3 0h2m3 0h2m3 0h2m8 0h2m3 0h2m3 0h2m8 0h2m3 0h2m3 0h2m3 0h2m3 0h2m3 0h2m3 0h2m3 0h2m3 0h2m3 0h2m3 0h2m3 0h2m3 0h2m3 0h2m3 0h2m3 0h2m3 0h2m8 0h2m8 0h2m3 0h2m3 0h2m3 0h2m3 0h2m3 0h2m3 0h2m3 0h2m3 0h2m8 0h2m3 0h2m3 0h2m3 0h2m3 0h2m3 0h2m3 0h2m3 0h2m3 0h2m8 0h2m8 0h2m3 0h2m3 0h2m3 0h2m3 0h2m3 0h2m3 0h2m3 0h2m3 0h2m3 0h2m3 0h2m3 0h2m3 0h2m8 0h2m3 0h2m3 0h2m8 0h2m3 0h2m3 0h2m3 0h2m3 0h2m3 0h2m3 0h2m3 0h2m3 0h2m3 0h2m3 0h2m3 0h2m3 0h2m3 0h2m3 0h2m3 0h2m3 0h2m3 0h2m3 0h2m3 0h2m3 0h2m3 0h2m3 0h2m3 0h2M937 1788h2m28 0h2m68 0h2m108 0h2m18 0h2m78 0h2m68 0h2m118 0h2m8 0h2m8 0h2m58 0h2m38 0h2m8 0h2m8 0h2m8 0h2m8 0h2m18 0h2M650 1791h2m8 0h2m3 0h2m3 0h2m8 0h2m3 0h2m3 0h2m3 0h2m3 0h2m8 0h2m3 0h2m3 0h2m8 0h2m8 0h2m3 0h2m3 0h2m8 0h2m8 0h2m8 0h2m8 0h2m8 0h2m8 0h2m8 0h2m8 0h2m3 0h2m3 0h2m8 0h2m8 0h2m3 0h2m3 0h2m3 0h2m3 0h2m3 0h2m3 0h2m3 0h2m3 0h2m3 0h2m3 0h2m3 0h2m3 0h2m3 0h2m3 0h2m3 0h2m3 0h2m3 0h2m3 0h2m3 0h2m3 0h2m8 0h2m3 0h2m3 0h2m3 0h2m3 0h2m3 0h2m3 0h2m3 0h2m3 0h2m3 0h2m3 0h2m3 0h2m3 0h2m3 0h2m3 0h2m3 0h2m3 0h2m3 0h2m3 0h2m3 0h2m3 0h2m3 0h2m3 0h2m3 0h2m3 0h2m3 0h2m3 0h2m3 0h2m3 0h2m3 0h2m3 0h2m3 0h2m3 0h2m3 0h2m3 0h2m3 0h2m3 0h2m3 0h2m3 0h2m3 0h2m3 0h2m3 0h2m3 0h2m3 0h2m3 0h2m8 0h2m3 0h2m3 0h2m3 0h2m3 0h2m3 0h2m3 0h2m3 0h2m3 0h2m3 0h2m3 0h2m3 0h2m3 0h2m3 0h2m3 0h2m3 0h2m3 0h2m3 0h2m3 0h2m3 0h2m3 0h2m3 0h2m3 0h2m3 0h2m3 0h2m3 0h2m3 0h2m3 0h2m3 0h2m3 0h2m3 0h2m3 0h2m3 0h2m3 0h2m3 0h2m3 0h2m3 0h2m3 0h2m3 0h2m3 0h2m3 0h2m3 0h2m3 0h2m3 0h2m3 0h2m3 0h2m3 0h2m3 0h2m3 0h2m3 0h2m3 0h2m3 0h2m3 0h2m3 0h2m3 0h2m3 0h2m3 0h2m3 0h2m3 0h2m3 0h2m3 0h2m3 0h2m3 0h2m3 0h2m3 0h2m3 0h2m3 0h2m3 0h2m3 0h2m3 0h2m3 0h2m3 0h2m3 0h2m3 0h2m3 0h2m3 0h2m3 0h2m3 0h2m3 0h2m3 0h2m3 0h2m3 0h2m3 0h2m3 0h2m3 0h2m3 0h2m3 0h2m3 0h2m3 0h2M772 1793h2m138 0h2m18 0h2m8 0h2m8 0h2m8 0h2m8 0h2m58 0h2m8 0h2m8 0h2m28 0h2m8 0h2m48 0h2m68 0h2m28 0h2m28 0h2m58 0h2m8 0h2m3 0h2m3 0h2m38 0h2m8 0h2m18 0h2m8 0h2m8 0h2m8 0h2m8 0h2m18 0h2m8 0h2m13 0h2m13 0h2m8 0h2m13 0h2m3 0h2m3 0h2m3 0h2m8 0h2m8 0h2m8 0h2m8 0h2m38 0h2M635 1796h2m8 0h2m3 0h2m3 0h2m18 0h2m3 0h2m3 0h2m8 0h2m8 0h2m8 0h2m18 0h2m8 0h2m8 0h2m8 0h2m3 0h2m3 0h2m13 0h2m3 0h2m3 0h2m3 0h2m8 0h2m3 0h2m13 0h2m8 0h2m8 0h2m8 0h2m3 0h2m13 0h2m3 0h2m3 0h2m8 0h2m3 0h2m3 0h2m3 0h2m3 0h2m3 0h2m3 0h2m3 0h2m3 0h2m8 0h2m3 0h2m3 0h2m8 0h2m8 0h2m3 0h2m3 0h2m3 0h2m3 0h2m3 0h2m3 0h2m3 0h2m3 0h2m3 0h2m3 0h2m3 0h2m3 0h2m3 0h2m3 0h2m3 0h2m3 0h2m8 0h2m3 0h2m3 0h2m3 0h2m3 0h2m3 0h2m3 0h2m8 0h2m3 0h2m3 0h2m3 0h2m3 0h2m3 0h2m3 0h2m3 0h2m3 0h2m3 0h2m3 0h2m3 0h2m3 0h2m3 0h2m3 0h2m3 0h2m3 0h2m3 0h2m3 0h2m8 0h2m3 0h2m3 0h2m8 0h2m8 0h2m3 0h2m3 0h2m3 0h2m3 0h2m3 0h2m3 0h2m3 0h2m3 0h2m3 0h2m3 0h2m3 0h2m3 0h2m3 0h2m3 0h2m8 0h2m3 0h2m3 0h2m3 0h2m3 0h2m8 0h2m8 0h2m8 0h2m3 0h2m3 0h2m3 0h2m3 0h2m8 0h2m3 0h2m3 0h2m3 0h2m3 0h2m3 0h2m3 0h2m3 0h2m3 0h2m3 0h2m3 0h2m3 0h2m3 0h2m8 0h2m8 0h2m3 0h2m3 0h2m3 0h2m3 0h2m3 0h2m3 0h2m3 0h2m3 0h2m8 0h2m3 0h2m3 0h2m3 0h2m3 0h2m3 0h2m3 0h2m3 0h2m3 0h2m3 0h2m3 0h2m3 0h2m3 0h2m3 0h2m3 0h2m3 0h2m3 0h2m3 0h2m3 0h2m3 0h2m3 0h2m8 0h2m3 0h2m3 0h2M977 1798h2m28 0h2m18 0h2m8 0h2m48 0h2m8 0h2m8 0h2m28 0h2m8 0h2m18 0h2m68 0h2m8 0h2m38 0h2m88 0h2m18 0h2m18 0h2m8 0h2m18 0h2m18 0h2m18 0h2m18 0h2m28 0h2m18 0h2m18 0h2m38 0h2m8 0h2m18 0h2M620 1801h2m3 0h2m3 0h2m8 0h2m8 0h2m8 0h2m3 0h2m3 0h2m8 0h2m8 0h2m3 0h2m3 0h2m3 0h2m8 0h2m3 0h2m8 0h2m3 0h2m3 0h2m8 0h2m3 0h2m3 0h2m8 0h2m8 0h2m3 0h2m3 0h2m3 0h2m3 0h2m8 0h2m8 0h2m8 0h2m8 0h2m3 0h2m3 0h2m3 0h2m3 0h2m3 0h2m3 0h2m3 0h2m3 0h2m8 0h2m3 0h2m3 0h2m3 0h2m3 0h2m3 0h2m3 0h2m3 0h2m3 0h2m3 0h2m3 0h2m8 0h2m3 0h2m3 0h2m3 0h2m3 0h2m3 0h2m3 0h2m3 0h2m3 0h2m3 0h2m3 0h2m3 0h2m3 0h2m3 0h2m3 0h2m3 0h2m3 0h2m3 0h2m3 0h2m3 0h2m3 0h2m3 0h2m3 0h2m3 0h2m3 0h2m3 0h2m3 0h2m3 0h2m3 0h2m3 0h2m3 0h2m3 0h2m3 0h2m3 0h2m3 0h2m3 0h2m3 0h2m3 0h2m3 0h2m3 0h2m3 0h2m3 0h2m3 0h2m3 0h2m3 0h2m3 0h2m3 0h2m3 0h2m3 0h2m3 0h2m3 0h2m3 0h2m3 0h2m3 0h2m3 0h2m3 0h2m3 0h2m3 0h2m3 0h2m3 0h2m3 0h2m3 0h2m3 0h2m3 0h2m3 0h2m3 0h2m3 0h2m3 0h2m3 0h2m3 0h2m3 0h2m3 0h2m3 0h2m3 0h2m3 0h2m3 0h2m3 0h2m3 0h2m3 0h2m3 0h2m3 0h2m3 0h2m3 0h2m3 0h2m3 0h2m3 0h2m3 0h2m3 0h2m3 0h2m3 0h2m3 0h2m3 0h2m3 0h2m3 0h2m3 0h2m3 0h2m3 0h2m3 0h2m3 0h2m3 0h2m3 0h2m3 0h2m3 0h2m3 0h2m3 0h2m3 0h2m3 0h2m3 0h2m3 0h2m3 0h2m3 0h2m3 0h2m3 0h2m3 0h2m3 0h2m3 0h2m3 0h2m3 0h2m3 0h2m3 0h2m3 0h2m3 0h2m3 0h2m3 0h2m3 0h2m3 0h2m3 0h2m3 0h2m3 0h2m3 0h2m3 0h2m3 0h2m3 0h2m3 0h2m3 0h2m3 0h2m3 0h2m3 0h2m3 0h2m3 0h2m3 0h2m3 0h2m3 0h2m3 0h2M742 1803h2m48 0h2m98 0h2m38 0h2m18 0h2m18 0h2m18 0h2m18 0h2m8 0h2m8 0h2m8 0h2m8 0h2m28 0h2m8 0h2m8 0h2m3 0h2m3 0h2m8 0h2m38 0h2m8 0h2m8 0h2m18 0h2m8 0h2m28 0h2m8 0h2m8 0h2m8 0h2m8 0h2m8 0h2m98 0h2m13 0h2m3 0h2m8 0h2m3 0h2m13 0h2m8 0h2m8 0h2m28 0h2m18 0h2m18 0h2m8 0h2m3 0h2m3 0h2m8 0h2m8 0h2m8 0h2m8 0h2m3 0h2m3 0h2m8 0h2m8 0h2m8 0h2m3 0h2m3 0h2m3 0h2m3 0h2m8 0h2m8 0h2M610 1806h2m13 0h2m8 0h2m8 0h2m8 0h2m8 0h2m8 0h2m8 0h2m8 0h2m8 0h2m8 0h2m13 0h2m13 0h2m8 0h2m8 0h2m8 0h2m8 0h2m3 0h2m3 0h2m3 0h2m3 0h2m8 0h2m8 0h2m3 0h2m3 0h2m13 0h2m3 0h2m8 0h2m8 0h2m8 0h2m8 0h2m3 0h2m3 0h2m8 0h2m8 0h2m3 0h2m3 0h2m3 0h2m3 0h2m8 0h2m3 0h2m3 0h2m8 0h2m8 0h2m3 0h2m3 0h2m3 0h2m3 0h2m3 0h2m3 0h2m8 0h2m3 0h2m3 0h2m3 0h2m3 0h2m3 0h2m3 0h2m3 0h2m3 0h2m3 0h2m3 0h2m3 0h2m3 0h2m3 0h2m3 0h2m3 0h2m3 0h2m3 0h2m3 0h2m3 0h2m3 0h2m8 0h2m3 0h2m3 0h2m3 0h2m3 0h2m3 0h2m3 0h2m3 0h2m3 0h2m3 0h2m3 0h2m3 0h2m3 0h2m3 0h2m3 0h2m3 0h2m3 0h2m3 0h2m3 0h2m3 0h2m3 0h2m3 0h2m3 0h2m3 0h2m3 0h2m3 0h2m3 0h2m3 0h2m3 0h2m8 0h2m3 0h2m3 0h2m3 0h2m3 0h2m3 0h2m3 0h2m8 0h2m3 0h2m3 0h2m3 0h2m3 0h2m3 0h2m3 0h2m3 0h2m3 0h2m3 0h2m3 0h2m8 0h2m3 0h2m3 0h2m8 0h2m3 0h2m3 0h2m3 0h2m3 0h2m3 0h2m3 0h2m3 0h2m3 0h2m3 0h2m3 0h2m3 0h2m3 0h2m8 0h2m3 0h2m3 0h2m3 0h2m3 0h2m3 0h2m3 0h2m3 0h2m3 0h2m3 0h2m3 0h2m3 0h2m3 0h2m3 0h2m3 0h2m3 0h2m3 0h2m3 0h2m3 0h2m3 0h2m3 0h2m3 0h2m3 0h2m3 0h2m3 0h2m3 0h2m3 0h2m3 0h2m3 0h2m3 0h2m3 0h2m3 0h2m3 0h2m3 0h2m3 0h2m3 0h2m3 0h2m3 0h2m3 0h2m3 0h2m3 0h2M987 1808h2m68 0h2m8 0h2m58 0h2m48 0h2m18 0h2m18 0h2m38 0h2m8 0h2m28 0h2m18 0h2m8 0h2m78 0h2m23 0h2m3 0h2m3 0h2m13 0h2m18 0h2m18 0h2m8 0h2m8 0h2m18 0h2m8 0h2m13 0h2m3 0h2m13 0h2m3 0h2m3 0h2m3 0h2m18 0h2m8 0h2m18 0h2m18 0h2M610 1811h2m8 0h2m8 0h2m3 0h2m3 0h2m8 0h2m3 0h2m3 0h2m3 0h2m3 0h2m3 0h2m3 0h2m3 0h2m3 0h2m3 0h2m3 0h2m3 0h2m3 0h2m8 0h2m8 0h2m8 0h2m8 0h2m8 0h2m3 0h2m3 0h2m8 0h2m8 0h2m8 0h2m3 0h2m3 0h2m8 0h2m3 0h2m3 0h2m8 0h2m3 0h2m3 0h2m3 0h2m3 0h2m3 0h2m3 0h2m3 0h2m3 0h2m3 0h2m3 0h2m8 0h2m3 0h2m3 0h2m3 0h2m3 0h2m8 0h2m3 0h2m3 0h2m8 0h2m3 0h2m3 0h2m3 0h2m3 0h2m3 0h2m3 0h2m3 0h2m3 0h2m3 0h2m3 0h2m3 0h2m3 0h2m3 0h2m3 0h2m3 0h2m3 0h2m3 0h2m3 0h2m3 0h2m3 0h2m3 0h2m3 0h2m3 0h2m3 0h2m3 0h2m3 0h2m3 0h2m3 0h2m3 0h2m3 0h2m3 0h2m3 0h2m3 0h2m3 0h2m3 0h2m3 0h2m3 0h2m3 0h2m3 0h2m3 0h2m3 0h2m3 0h2m3 0h2m3 0h2m3 0h2m3 0h2m3 0h2m3 0h2m3 0h2m3 0h2m3 0h2m3 0h2m3 0h2m3 0h2m3 0h2m3 0h2m3 0h2m3 0h2m3 0h2m3 0h2m3 0h2m3 0h2m3 0h2m3 0h2m3 0h2m3 0h2m3 0h2m3 0h2m3 0h2m3 0h2m3 0h2m3 0h2m3 0h2m3 0h2m3 0h2m3 0h2m3 0h2m3 0h2m3 0h2m3 0h2m3 0h2m3 0h2m8 0h2m8 0h2m3 0h2m3 0h2m3 0h2m3 0h2m3 0h2m3 0h2m3 0h2m3 0h2m3 0h2m3 0h2m3 0h2m3 0h2m3 0h2m3 0h2m3 0h2m3 0h2m3 0h2m3 0h2m3 0h2m3 0h2m3 0h2m3 0h2m3 0h2m3 0h2m3 0h2m3 0h2m3 0h2m3 0h2m3 0h2m3 0h2m3 0h2m3 0h2m3 0h2m3 0h2m3 0h2m3 0h2m3 0h2m3 0h2m3 0h2m3 0h2m3 0h2m3 0h2m3 0h2m3 0h2m3 0h2m3 0h2m3 0h2m3 0h2m3 0h2m3 0h2m3 0h2m3 0h2m3 0h2m3 0h2m3 0h2m3 0h2m3 0h2m3 0h2m3 0h2m3 0h2m3 0h2M772 1813h2m138 0h2m18 0h2m58 0h2m13 0h2m3 0h2m8 0h2m8 0h2m8 0h2m38 0h2m8 0h2m28 0h2m28 0h2m13 0h2m8 0h2m3 0h2m8 0h2m8 0h2m3 0h2m3 0h2m18 0h2m8 0h2m8 0h2m8 0h2m28 0h2m8 0h2m3 0h2m8 0h2m3 0h2m3 0h2m33 0h2m18 0h2m13 0h2m3 0h2m8 0h2m3 0h2m3 0h2m3 0h2m3 0h2m8 0h2m13 0h2m3 0h2m28 0h2m18 0h2m8 0h2m8 0h2m3 0h2m3 0h2m3 0h2m3 0h2m3 0h2m3 0h2m3 0h2m3 0h2m3 0h2m3 0h2m3 0h2m3 0h2m3 0h2m3 0h2m8 0h2m8 0h2m8 0h2m13 0h2m8 0h2m3 0h2m8 0h2m3 0h2M605 1816h2m8 0h2m8 0h2m8 0h2m8 0h2m8 0h2m8 0h2m8 0h2m8 0h2m8 0h2m3 0h2m3 0h2m8 0h2m8 0h2m3 0h2m3 0h2m18 0h2m8 0h2m3 0h2m3 0h2m8 0h2m8 0h2m8 0h2m8 0h2m3 0h2m3 0h2m8 0h2m13 0h2m3 0h2m8 0h2m3 0h2m3 0h2m8 0h2m8 0h2m3 0h2m3 0h2m3 0h2m3 0h2m3 0h2m3 0h2m3 0h2m3 0h2m8 0h2m8 0h2m3 0h2m3 0h2m3 0h2m3 0h2m3 0h2m3 0h2m3 0h2m3 0h2m3 0h2m3 0h2m3 0h2m3 0h2m3 0h2m3 0h2m3 0h2m3 0h2m3 0h2m3 0h2m3 0h2m3 0h2m3 0h2m3 0h2m3 0h2m3 0h2m3 0h2m3 0h2m3 0h2m3 0h2m3 0h2m3 0h2m8 0h2m3 0h2m3 0h2m3 0h2m3 0h2m3 0h2m3 0h2m3 0h2m3 0h2m3 0h2m3 0h2m3 0h2m3 0h2m3 0h2m3 0h2m8 0h2m3 0h2m3 0h2m3 0h2m3 0h2m3 0h2m3 0h2m3 0h2m3 0h2m3 0h2m3 0h2m3 0h2m3 0h2m3 0h2m3 0h2m3 0h2m3 0h2m3 0h2m3 0h2m3 0h2m3 0h2m3 0h2m3 0h2m3 0h2m3 0h2m8 0h2m3 0h2m3 0h2m3 0h2m3 0h2m8 0h2m3 0h2m3 0h2m3 0h2m3 0h2m3 0h2m3 0h2m3 0h2m3 0h2m3 0h2m3 0h2m3 0h2m3 0h2m3 0h2m3 0h2m3 0h2m3 0h2m3 0h2m3 0h2m3 0h2m3 0h2m3 0h2m3 0h2m8 0h2m3 0h2m3 0h2m3 0h2m3 0h2m3 0h2m3 0h2m3 0h2m3 0h2m3 0h2m3 0h2m3 0h2m3 0h2m3 0h2m3 0h2m3 0h2m3 0h2m3 0h2m3 0h2m3 0h2m3 0h2m3 0h2m3 0h2m3 0h2m3 0h2m3 0h2m3 0h2m3 0h2m3 0h2m3 0h2m3 0h2m3 0h2m3 0h2m3 0h2m3 0h2m3 0h2m3 0h2m3 0h2m3 0h2m3 0h2m3 0h2m8 0h2m3 0h2M797 1818h2m178 0h2m78 0h2m18 0h2m18 0h2m18 0h2m8 0h2m8 0h2m18 0h2m28 0h2m38 0h2m18 0h2m18 0h2m8 0h2m8 0h2m8 0h2m8 0h2m8 0h2m88 0h2m3 0h2m3 0h2m13 0h2m3 0h2m8 0h2m13 0h2m13 0h2m8 0h2m23 0h2m3 0h2m8 0h2m18 0h2m8 0h2m13 0h2m3 0h2m8 0h2m8 0h2m3 0h2m3 0h2m3 0h2m3 0h2m8 0h2m8 0h2m8 0h2m3 0h2m3 0h2M600 1821h2m8 0h2m3 0h2m3 0h2m8 0h2m18 0h2m3 0h2m3 0h2m8 0h2m8 0h2m8 0h2m3 0h2m3 0h2m3 0h2m3 0h2m3 0h2m3 0h2m3 0h2m3 0h2m3 0h2m3 0h2m3 0h2m3 0h2m8 0h2m3 0h2m3 0h2m3 0h2m3 0h2m3 0h2m3 0h2m3 0h2m3 0h2m3 0h2m3 0h2m3 0h2m3 0h2m3 0h2m3 0h2m8 0h2m3 0h2m3 0h2m3 0h2m3 0h2m3 0h2m3 0h2m3 0h2m3 0h2m3 0h2m3 0h2m3 0h2m3 0h2m3 0h2m3 0h2m3 0h2m3 0h2m8 0h2m3 0h2m3 0h2m8 0h2m3 0h2m3 0h2m3 0h2m3 0h2m8 0h2m3 0h2m3 0h2m3 0h2m3 0h2m3 0h2m3 0h2m3 0h2m3 0h2m3 0h2m3 0h2m3 0h2m3 0h2m3 0h2m3 0h2m3 0h2m3 0h2m3 0h2m3 0h2m3 0h2m3 0h2m3 0h2m3 0h2m3 0h2m3 0h2m3 0h2m3 0h2m3 0h2m3 0h2m3 0h2m3 0h2m3 0h2m3 0h2m3 0h2m3 0h2m3 0h2m3 0h2m3 0h2m3 0h2m3 0h2m3 0h2m3 0h2m3 0h2m3 0h2m3 0h2m3 0h2m3 0h2m3 0h2m3 0h2m3 0h2m3 0h2m3 0h2m3 0h2m3 0h2m3 0h2m3 0h2m3 0h2m3 0h2m3 0h2m3 0h2m3 0h2m3 0h2m3 0h2m3 0h2m3 0h2m3 0h2m3 0h2m3 0h2m3 0h2m3 0h2m3 0h2m3 0h2m3 0h2m3 0h2m3 0h2m3 0h2m3 0h2m8 0h2m3 0h2m3 0h2m3 0h2m3 0h2m3 0h2m3 0h2m3 0h2m3 0h2m3 0h2m3 0h2m3 0h2m3 0h2m3 0h2m3 0h2m3 0h2m3 0h2m3 0h2m3 0h2m3 0h2m3 0h2m3 0h2m3 0h2m3 0h2m3 0h2m3 0h2m3 0h2m3 0h2m3 0h2m3 0h2m3 0h2m3 0h2m3 0h2m3 0h2m3 0h2m3 0h2m3 0h2m3 0h2m3 0h2m3 0h2m3 0h2m3 0h2m3 0h2m3 0h2m3 0h2m3 0h2m3 0h2m3 0h2m3 0h2m3 0h2m3 0h2m3 0h2m3 0h2m3 0h2m3 0h2m3 0h2m3 0h2m3 0h2m3 0h2m3 0h2m3 0h2m3 0h2m3 0h2m3 0h2m3 0h2m3 0h2m3 0h2M782 1823h2m18 0h2m8 0h2m98 0h2m8 0h2m18 0h2m18 0h2m28 0h2m28 0h2m8 0h2m8 0h2m8 0h2m8 0h2m8 0h2m8 0h2m28 0h2m8 0h2m18 0h2m38 0h2m3 0h2m8 0h2m3 0h2m8 0h2m8 0h2m3 0h2m3 0h2m3 0h2m3 0h2m3 0h2m3 0h2m3 0h2m3 0h2m3 0h2m3 0h2m3 0h2m3 0h2m3 0h2m3 0h2m3 0h2m3 0h2m8 0h2m8 0h2m18 0h2m28 0h2m8 0h2m18 0h2m8 0h2m3 0h2m3 0h2m3 0h2m3 0h2m8 0h2m3 0h2m3 0h2m3 0h2m3 0h2m3 0h2m3 0h2m8 0h2m8 0h2m18 0h2m3 0h2m3 0h2m8 0h2m8 0h2m8 0h2m8 0h2m3 0h2m3 0h2m8 0h2m8 0h2m8 0h2m3 0h2m3 0h2m8 0h2m8 0h2m8 0h2m3 0h2m3 0h2m3 0h2m3 0h2m3 0h2m3 0h2m3 0h2m3 0h2m8 0h2M595 1826h2m3 0h2m3 0h2m8 0h2m8 0h2m28 0h2m8 0h2m3 0h2m3 0h2m8 0h2m18 0h2m8 0h2m8 0h2m8 0h2m8 0h2m8 0h2m8 0h2m8 0h2m8 0h2m3 0h2m3 0h2m3 0h2m3 0h2m8 0h2m3 0h2m3 0h2m8 0h2m8 0h2m8 0h2m8 0h2m3 0h2m3 0h2m8 0h2m3 0h2m3 0h2m3 0h2m3 0h2m3 0h2m3 0h2m8 0h2m8 0h2m8 0h2m3 0h2m3 0h2m3 0h2m3 0h2m3 0h2m3 0h2m3 0h2m3 0h2m3 0h2m3 0h2m3 0h2m3 0h2m3 0h2m3 0h2m3 0h2m3 0h2m3 0h2m3 0h2m3 0h2m3 0h2m3 0h2m3 0h2m3 0h2m3 0h2m3 0h2m3 0h2m3 0h2m3 0h2m3 0h2m3 0h2m3 0h2m3 0h2m3 0h2m3 0h2m3 0h2m3 0h2m3 0h2m3 0h2m8 0h2m3 0h2m3 0h2m8 0h2m3 0h2m3 0h2m3 0h2m3 0h2m3 0h2m3 0h2m3 0h2m3 0h2m3 0h2m3 0h2m3 0h2m3 0h2m3 0h2m3 0h2m3 0h2m3 0h2m3 0h2m3 0h2m3 0h2m3 0h2m3 0h2m3 0h2m3 0h2m3 0h2m3 0h2m3 0h2m3 0h2m3 0h2m3 0h2m3 0h2m3 0h2m3 0h2m3 0h2m3 0h2m3 0h2m3 0h2m8 0h2m3 0h2m3 0h2m3 0h2m3 0h2m3 0h2m3 0h2m8 0h2m3 0h2m3 0h2m3 0h2m3 0h2m3 0h2m3 0h2m3 0h2m3 0h2m3 0h2m3 0h2m3 0h2m3 0h2m3 0h2m3 0h2m3 0h2m3 0h2m3 0h2m3 0h2m3 0h2m3 0h2m3 0h2m3 0h2m3 0h2m3 0h2m3 0h2m3 0h2m3 0h2m3 0h2m3 0h2m3 0h2m3 0h2m3 0h2m3 0h2m3 0h2m3 0h2m3 0h2m3 0h2m3 0h2m3 0h2m3 0h2m3 0h2m3 0h2m3 0h2m3 0h2m3 0h2m3 0h2m3 0h2m3 0h2m3 0h2m3 0h2m3 0h2m3 0h2m3 0h2m3 0h2m3 0h2m3 0h2m3 0h2m3 0h2m3 0h2m3 0h2m3 0h2M807 1828h2m158 0h2m18 0h2m38 0h2m68 0h2m18 0h2m8 0h2m8 0h2m8 0h2m8 0h2m18 0h2m18 0h2m8 0h2m8 0h2m8 0h2m8 0h2m28 0h2m8 0h2m8 0h2m8 0h2m8 0h2m28 0h2m38 0h2m8 0h2m28 0h2m8 0h2m18 0h2m3 0h2m3 0h2m8 0h2m3 0h2m3 0h2m8 0h2m8 0h2m3 0h2m13 0h2m18 0h2m8 0h2m8 0h2m3 0h2m3 0h2m8 0h2m8 0h2m8 0h2m13 0h2m8 0h2m3 0h2m8 0h2m8 0h2m3 0h2m3 0h2m3 0h2m13 0h2m3 0h2m3 0h2m8 0h2M590 1831h2m3 0h2m3 0h2m3 0h2m3 0h2m3 0h2m3 0h2m8 0h2m8 0h2m8 0h2m3 0h2m3 0h2m3 0h2m3 0h2m3 0h2m3 0h2m3 0h2m3 0h2m3 0h2m3 0h2m8 0h2m8 0h2m8 0h2m8 0h2m8 0h2m8 0h2m3 0h2m3 0h2m8 0h2m8 0h2m3 0h2m3 0h2m3 0h2m3 0h2m3 0h2m3 0h2m3 0h2m3 0h2m3 0h2m3 0h2m3 0h2m3 0h2m3 0h2m3 0h2m3 0h2m3 0h2m3 0h2m3 0h2m3 0h2m3 0h2m8 0h2m3 0h2m3 0h2m3 0h2m3 0h2m8 0h2m3 0h2m3 0h2m3 0h2m3 0h2m3 0h2m3 0h2m8 0h2m3 0h2m3 0h2m3 0h2m3 0h2m3 0h2m3 0h2m3 0h2m3 0h2m3 0h2m3 0h2m3 0h2m3 0h2m3 0h2m3 0h2m3 0h2m3 0h2m3 0h2m3 0h2m3 0h2m3 0h2m3 0h2m3 0h2m3 0h2m3 0h2m3 0h2m3 0h2m3 0h2m3 0h2m3 0h2m3 0h2m3 0h2m3 0h2m3 0h2m3 0h2m3 0h2m3 0h2m3 0h2m3 0h2m3 0h2m3 0h2m3 0h2m3 0h2m3 0h2m3 0h2m3 0h2m3 0h2m3 0h2m3 0h2m3 0h2m3 0h2m3 0h2m3 0h2m3 0h2m3 0h2m3 0h2m3 0h2m3 0h2m3 0h2m3 0h2m3 0h2m3 0h2m3 0h2m3 0h2m3 0h2m3 0h2m3 0h2m3 0h2m3 0h2m3 0h2m3 0h2m3 0h2m3 0h2m3 0h2m3 0h2m3 0h2m3 0h2m3 0h2m3 0h2m3 0h2m3 0h2m3 0h2m3 0h2m3 0h2m3 0h2m3 0h2m3 0h2m3 0h2m3 0h2m3 0h2m3 0h2m3 0h2m3 0h2m3 0h2m3 0h2m3 0h2m3 0h2m3 0h2m3 0h2m3 0h2m3 0h2m3 0h2m3 0h2m3 0h2m3 0h2m3 0h2m3 0h2m3 0h2m3 0h2m3 0h2m3 0h2m3 0h2m3 0h7m3 0h2m3 0h2m3 0h2m3 0h2m3 0h7m3 0h2m3 0h2m3 0h2m3 0h2m3 0h2m3 0h2m3 0h2m3 0h2m3 0h2m3 0h2m3 0h2m3 0h2m3 0h2m3 0h2m3 0h2m3 0h2m3 0h2m3 0h2m3 0h2m3 0h2m3 0h2m3 0h2m3 0h2m3 0h2m3 0h2m3 0h2m3 0h2M622 1833h2m118 0h2m38 0h2m18 0h2m68 0h2m48 0h2m18 0h2m18 0h2m13 0h2m3 0h2m18 0h2m18 0h2m28 0h2m18 0h2m38 0h2m33 0h2m13 0h2m8 0h2m8 0h2m8 0h2m8 0h2m18 0h2m8 0h2m3 0h2m3 0h2m3 0h2m3 0h2m3 0h2m3 0h2m3 0h2m3 0h2m8 0h2m3 0h2m3 0h2m3 0h2m3 0h2m8 0h2m3 0h2m3 0h2m8 0h2m8 0h2m28 0h2m8 0h2m8 0h2m3 0h2m3 0h2m3 0h2m3 0h2m3 0h2m3 0h2m3 0h2m3 0h2m8 0h2m8 0h2m8 0h2m8 0h2m8 0h2m3 0h2m3 0h2m8 0h2m3 0h2m3 0h2m8 0h2m3 0h2m3 0h2m3 0h2m3 0h2m3 0h2m3 0h2m8 0h2m3 0h2m3 0h2m3 0h2m3 0h2m8 0h2m8 0h2m3 0h2m3 0h2m8 0h2m8 0h2m8 0h2m3 0h2m3 0h2m8 0h2m8 0h2m8 0h2m3 0h2m3 0h2M595 1836h2m8 0h2m8 0h2m8 0h2m3 0h2m3 0h2m8 0h2m3 0h2m8 0h2m3 0h2m8 0h2m18 0h2m18 0h2m8 0h2m8 0h2m8 0h2m3 0h2m3 0h2m8 0h2m8 0h2m3 0h2m3 0h2m8 0h2m8 0h2m8 0h2m8 0h2m8 0h2m3 0h2m3 0h2m3 0h2m3 0h2m3 0h2m3 0h2m3 0h2m3 0h2m3 0h2m3 0h2m8 0h2m8 0h2m8 0h2m3 0h2m3 0h2m8 0h2m3 0h2m3 0h2m3 0h2m3 0h2m3 0h2m3 0h2m3 0h2m3 0h2m3 0h2m3 0h2m3 0h2m3 0h2m3 0h2m3 0h2m3 0h2m3 0h2m8 0h2m3 0h2m3 0h2m8 0h2m3 0h2m3 0h2m3 0h2m3 0h2m8 0h2m3 0h2m3 0h2m3 0h2m3 0h2m3 0h2m3 0h2m3 0h2m3 0h2m8 0h2m3 0h2m3 0h2m3 0h2m3 0h2m3 0h2m3 0h2m8 0h2m3 0h2m3 0h2m3 0h2m3 0h2m3 0h2m3 0h2m3 0h2m3 0h2m3 0h2m3 0h2m3 0h2m3 0h2m3 0h2m3 0h2m3 0h2m3 0h2m3 0h2m3 0h2m3 0h2m3 0h2m3 0h2m3 0h2m3 0h2m3 0h2m3 0h2m3 0h2m3 0h2m3 0h2m3 0h2m3 0h2m3 0h2m3 0h2m3 0h2m3 0h2m3 0h2m3 0h2m3 0h2m3 0h2m3 0h2m3 0h2m3 0h2m3 0h2m3 0h2m3 0h2m3 0h2m3 0h2m3 0h2m3 0h2m3 0h2m3 0h2m3 0h2m3 0h2m3 0h2m3 0h2m3 0h2m3 0h2m3 0h2m3 0h2m3 0h2m3 0h2m3 0h2m3 0h2m3 0h2m3 0h2m3 0h2m3 0h2m3 0h2m3 0h2m3 0h2m3 0h2m3 0h2m3 0h2m3 0h2m3 0h2m3 0h2m3 0h2m3 0h2m3 0h2m3 0h2m3 0h2m3 0h2m3 0h2m3 0h2m3 0h2m3 0h2m3 0h2m3 0h2m3 0h2m3 0h2m3 0h2m3 0h2m3 0h2m3 0h2m3 0h2m3 0h2m3 0h2m3 0h2m3 0h2m3 0h2m3 0h2m3 0h2m3 0h2m3 0h2m3 0h2m3 0h2m3 0h2M597 1838h2m208 0h2m58 0h2m8 0h2m8 0h2m48 0h2m8 0h2m8 0h2m88 0h2m28 0h2m8 0h2m8 0h2m58 0h2m18 0h2m33 0h2m3 0h2m8 0h2m3 0h2m3 0h2m8 0h2m8 0h2m3 0h2m13 0h2m8 0h2m8 0h2m3 0h2m3 0h2m18 0h2m28 0h2m38 0h2m18 0h2m3 0h2m3 0h2m8 0h2m8 0h2m8 0h2m13 0h2m3 0h2m8 0h2m8 0h2m8 0h2m8 0h2m3 0h2m3 0h2m3 0h2m3 0h2m3 0h2m3 0h2m3 0h2m3 0h2m8 0h2m3 0h2m3 0h2m18 0h2m8 0h2m3 0h2m8 0h2m8 0h2m3 0h2m3 0h2m8 0h2m3 0h2m13 0h2m13 0h2m3 0h2M600 1841h2m3 0h2m3 0h2m3 0h2m3 0h2m8 0h2m8 0h2m8 0h2m3 0h2m3 0h2m3 0h2m3 0h2m3 0h2m3 0h2m3 0h2m3 0h2m8 0h2m18 0h2m8 0h2m3 0h2m3 0h2m8 0h2m3 0h2m3 0h2m8 0h2m3 0h2m3 0h2m3 0h2m3 0h2m8 0h2m8 0h2m3 0h2m3 0h2m8 0h2m3 0h2m3 0h2m3 0h2m3 0h2m3 0h2m3 0h2m3 0h2m3 0h2m3 0h2m3 0h2m3 0h2m3 0h2m3 0h2m3 0h2m3 0h2m3 0h2m3 0h2m3 0h2m3 0h2m3 0h2m3 0h2m3 0h2m3 0h2m3 0h2m3 0h2m3 0h2m3 0h2m3 0h2m3 0h2m3 0h2m3 0h2m3 0h2m3 0h2m3 0h2m3 0h2m3 0h2m3 0h2m3 0h2m3 0h2m3 0h2m3 0h2m3 0h2m3 0h2m3 0h2m3 0h2m3 0h2m3 0h2m3 0h2m3 0h2m3 0h2m3 0h2m3 0h2m3 0h2m3 0h2m3 0h2m3 0h2m3 0h2m3 0h2m3 0h2m3 0h2m3 0h2m3 0h2m3 0h2m3 0h2m3 0h2m3 0h2m3 0h2m3 0h2m3 0h2m3 0h2m3 0h2m3 0h2m3 0h2m3 0h2m3 0h2m3 0h2m3 0h2m3 0h2m3 0h2m3 0h2m3 0h2m3 0h2m3 0h2m3 0h2m3 0h2m3 0h2m3 0h2m3 0h2m3 0h2m3 0h2m3 0h2m3 0h2m3 0h2m3 0h2m3 0h2m3 0h7m3 0h2m3 0h2m3 0h2m3 0h2m3 0h2m3 0h2m3 0h2m3 0h2m3 0h2m3 0h2m3 0h2m3 0h2m3 0h2m3 0h2m3 0h2m3 0h2m3 0h2m3 0h2m3 0h2m3 0h2m3 0h7m3 0h2m3 0h2m3 0h7m3 0h2m3 0h2m3 0h2m3 0h2m3 0h2m3 0h2m3 0h2m3 0h2m3 0h2m3 0h2m3 0h2m3 0h2m3 0h2m3 0h2m3 0h2m3 0h2m3 0h2m3 0h2m3 0h2m3 0h2m3 0h2m3 0h2m3 0h7m3 0h7m3 0h2m3 0h2m3 0h7m3 0h2m3 0h2m3 0h2m3 0h2m3 0h2m3 0h2m3 0h2m3 0h2m3 0h2m3 0h2m3 0h2m3 0h2m3 0h7m3 0h2m3 0h2m3 0h7m3 0h2M622 1843h2m18 0h2m138 0h2m48 0h2m8 0h2m8 0h2m48 0h2m18 0h2m8 0h2m8 0h2m8 0h2m18 0h2m8 0h2m8 0h2m8 0h2m8 0h2m3 0h2m3 0h2m18 0h2m8 0h2m8 0h2m3 0h2m3 0h2m8 0h2m8 0h2m8 0h2m8 0h2m8 0h2m8 0h2m18 0h2m13 0h2m3 0h2m8 0h2m3 0h2m3 0h2m8 0h2m8 0h2m8 0h2m8 0h2m3 0h2m3 0h2m3 0h2m3 0h2m8 0h2m3 0h2m3 0h2m3 0h2m3 0h2m3 0h2m3 0h2m3 0h2m3 0h2m3 0h2m3 0h2m8 0h2m3 0h2m3 0h2m8 0h2m8 0h2m3 0h2m3 0h2m3 0h2m3 0h2m8 0h2m8 0h2m8 0h2m3 0h2m3 0h2m8 0h2m3 0h2m3 0h2m3 0h2m3 0h2m8 0h2m3 0h2m3 0h2m3 0h2m3 0h2m3 0h2m3 0h2m3 0h2m3 0h2m8 0h2m3 0h2m3 0h2m8 0h2m3 0h2m3 0h2m3 0h2m3 0h2m3 0h2m3 0h2m3 0h2m3 0h2m3 0h2m3 0h2m3 0h2m3 0h2m3 0h2m3 0h2m3 0h2m3 0h2m3 0h2m3 0h2m3 0h2m3 0h2m8 0h2m3 0h2m3 0h2m3 0h2m3 0h2m8 0h2m3 0h2m3 0h2m8 0h2m3 0h2M605 1846h2m3 0h2m3 0h2m3 0h2m3 0h2m3 0h2m3 0h2m8 0h2m8 0h2m8 0h2m8 0h2m3 0h2m3 0h2m8 0h2m8 0h2m3 0h2m18 0h2m23 0h2m8 0h2m8 0h2m8 0h2m8 0h2m8 0h2m3 0h2m3 0h2m8 0h2m3 0h2m3 0h2m3 0h2m3 0h2m8 0h2m3 0h2m3 0h2m3 0h2m3 0h2m3 0h2m3 0h2m8 0h2m3 0h2m3 0h2m8 0h2m3 0h2m3 0h2m3 0h2m3 0h2m3 0h2m3 0h2m3 0h2m3 0h2m3 0h2m3 0h2m8 0h2m3 0h2m3 0h2m3 0h2m3 0h2m3 0h2m3 0h2m3 0h2m3 0h2m3 0h2m3 0h2m3 0h2m3 0h2m3 0h2m3 0h2m3 0h2m3 0h2m3 0h2m3 0h2m3 0h2m3 0h2m3 0h2m3 0h2m3 0h2m3 0h2m3 0h2m3 0h2m3 0h2m3 0h2m3 0h2m3 0h2m3 0h2m3 0h2m3 0h2m3 0h2m3 0h2m3 0h2m3 0h2m3 0h2m3 0h2m3 0h2m3 0h2m3 0h2m3 0h2m3 0h2m3 0h2m3 0h2m3 0h2m3 0h2m3 0h2m3 0h2m3 0h2m3 0h2m3 0h2m3 0h2m3 0h2m3 0h2m3 0h2m3 0h2m3 0h2m3 0h2m3 0h2m3 0h2m3 0h2m3 0h2m3 0h2m3 0h2m3 0h2m3 0h2m3 0h2m3 0h2m3 0h2m3 0h2m3 0h2m3 0h2m3 0h2m3 0h2m3 0h2m3 0h2m3 0h2m3 0h2m3 0h2m3 0h2m3 0h2m3 0h2m3 0h2m3 0h2m3 0h2m3 0h2m3 0h2m3 0h2m3 0h2m3 0h2m3 0h2m3 0h2m3 0h2m3 0h2m3 0h2m3 0h2m3 0h2m3 0h2m3 0h2m3 0h2m3 0h2m3 0h2m3 0h2m3 0h2m3 0h2m3 0h2m3 0h2m3 0h2m3 0h2m3 0h2m3 0h2m3 0h2m3 0h2m3 0h2m3 0h2m3 0h2m3 0h2m3 0h2m3 0h2m3 0h7m3 0h2m3 0h2m3 0h2m3 0h2m3 0h2m3 0h2m3 0h2m3 0h2m3 0h2m3 0h2m3 0h2m3 0h2m3 0h2m3 0h2m3 0h2m3 0h2m3 0h2m3 0h2m3 0h2M857 1848h2m58 0h2m8 0h2m8 0h2m38 0h2m18 0h2m78 0h2m13 0h2m33 0h2m8 0h2m8 0h2m28 0h2m8 0h2m18 0h2m8 0h2m8 0h2m3 0h2m3 0h2m3 0h2m3 0h2m8 0h2m8 0h2m3 0h2m3 0h2m8 0h2m3 0h2m3 0h2m8 0h2m3 0h2m3 0h2m3 0h2m3 0h2m3 0h2m3 0h2m18 0h2m3 0h2m3 0h2m8 0h2m8 0h2m8 0h2m8 0h2m8 0h2m3 0h2m3 0h2m3 0h2m3 0h2m3 0h2m3 0h2m8 0h2m8 0h2m8 0h2m3 0h2m3 0h2m13 0h2m3 0h2m8 0h2m3 0h2m3 0h2m3 0h2m3 0h2m3 0h2m3 0h2m3 0h2m3 0h2m3 0h2m3 0h2m3 0h2m3 0h2m8 0h2m8 0h2m8 0h2m3 0h2m3 0h2m8 0h2m3 0h2m3 0h2m8 0h2m3 0h2m3 0h2m3 0h2m3 0h2m3 0h2m3 0h2M610 1851h2m3 0h2m3 0h2m3 0h2m3 0h2m3 0h2m3 0h2m8 0h2m3 0h2m3 0h2m3 0h2m3 0h2m3 0h2m3 0h2m3 0h2m3 0h2m13 0h2m3 0h2m3 0h2m3 0h2m18 0h2m3 0h2m3 0h2m8 0h2m3 0h2m3 0h2m3 0h2m3 0h2m8 0h2m3 0h2m3 0h2m8 0h2m3 0h2m3 0h2m3 0h2m3 0h2m8 0h2m3 0h2m3 0h2m3 0h2m3 0h2m3 0h2m3 0h2m8 0h2m8 0h2m3 0h2m3 0h2m3 0h2m3 0h2m3 0h2m3 0h2m3 0h2m3 0h2m3 0h2m3 0h2m3 0h2m3 0h2m3 0h2m3 0h2m3 0h2m3 0h2m3 0h2m3 0h2m3 0h2m3 0h2m3 0h2m3 0h2m3 0h2m3 0h2m3 0h2m3 0h2m3 0h2m3 0h2m3 0h2m3 0h2m3 0h2m3 0h2m3 0h2m3 0h2m3 0h2m3 0h2m3 0h2m3 0h2m3 0h2m3 0h2m3 0h2m3 0h2m3 0h2m3 0h2m3 0h2m3 0h2m3 0h2m3 0h2m3 0h2m3 0h2m3 0h2m3 0h2m3 0h2m3 0h2m3 0h2m3 0h2m3 0h2m3 0h2m3 0h2m3 0h2m3 0h2m3 0h7m3 0h2m3 0h2m3 0h7m3 0h2m3 0h2m3 0h7m3 0h2m3 0h2m3 0h2m3 0h2m3 0h2m3 0h2m3 0h2m3 0h2m3 0h2m3 0h2m3 0h2m3 0h2m3 0h2m3 0h2m3 0h2m3 0h2m3 0h7m3 0h2m3 0h2m3 0h7m3 0h2m3 0h2m3 0h2m3 0h2m3 0h7m3 0h7m3 0h7m3 0h2m3 0h2m3 0h7m3 0h7m3 0h2m3 0h2m3 0h7m3 0h7m3 0h2m3 0h2m3 0h7m3 0h2m3 0h2m3 0h2m3 0h2m3 0h2m3 0h2m3 0h7m3 0h7m3 0h2m3 0h2m3 0h7m3 0h2m3 0h2m3 0h7m3 0h2m3 0h2m3 0h2m3 0h2m3 0h2m3 0h2m3 0h2m3 0h2m3 0h2m3 0h2m3 0h2m3 0h2m3 0h7m3 0h2m3 0h2m3 0h2m3 0h2m3 0h2m3 0h2M752 1853h2m58 0h2m28 0h2m18 0h2m28 0h2m18 0h2m8 0h2m8 0h2m8 0h2m8 0h2m8 0h2m8 0h2m8 0h2m3 0h2m3 0h2m8 0h2m8 0h2m8 0h2m18 0h2m8 0h2m8 0h2m3 0h2m3 0h2m8 0h2m8 0h2m13 0h2m3 0h2m8 0h2m8 0h2m8 0h2m13 0h2m3 0h2m18 0h2m8 0h2m3 0h2m3 0h2m3 0h2m3 0h2m8 0h2m3 0h2m3 0h2m3 0h2m3 0h2m3 0h2m3 0h2m8 0h2m8 0h2m3 0h2m3 0h2m3 0h2m3 0h2m3 0h2m3 0h2m3 0h2m3 0h2m3 0h2m3 0h2m3 0h2m3 0h2m3 0h2m3 0h2m8 0h2m8 0h2m3 0h2m3 0h2m8 0h2m3 0h2m3 0h2m3 0h2m3 0h2m3 0h2m3 0h2m3 0h2m3 0h2m3 0h2m3 0h2m3 0h2m3 0h2m3 0h2m3 0h2m3 0h2m3 0h2m8 0h2m8 0h2m3 0h2m3 0h2m8 0h2m8 0h2m3 0h2m3 0h2m3 0h2m3 0h2m3 0h2m3 0h2m3 0h2m3 0h2m3 0h2m3 0h2m3 0h2m3 0h2m3 0h2m3 0h2m3 0h2m3 0h2m3 0h2m3 0h2m3 0h2m3 0h2m3 0h2m3 0h2m3 0h2m3 0h2m8 0h2m8 0h2m8 0h2m3 0h2m3 0h2M625 1856h2m3 0h2m3 0h2m8 0h2m3 0h2m3 0h2m3 0h2m13 0h2m3 0h2m3 0h2m18 0h2m8 0h2m8 0h2m8 0h2m3 0h2m3 0h2m8 0h2m3 0h2m3 0h2m8 0h2m8 0h2m8 0h2m3 0h2m3 0h2m8 0h2m8 0h2m8 0h2m8 0h2m8 0h2m3 0h2m3 0h2m3 0h2m3 0h2m3 0h2m3 0h2m3 0h2m3 0h2m3 0h2m3 0h2m3 0h2m3 0h2m3 0h2m3 0h2m3 0h2m3 0h2m3 0h2m3 0h2m3 0h2m3 0h2m8 0h2m3 0h2m3 0h2m3 0h2m3 0h2m3 0h2m3 0h2m3 0h2m3 0h2m3 0h2m3 0h2m3 0h2m3 0h2m3 0h2m3 0h2m3 0h2m3 0h2m3 0h2m3 0h2m3 0h2m3 0h2m3 0h2m3 0h2m3 0h2m3 0h2m3 0h2m3 0h2m3 0h2m3 0h2m3 0h2m3 0h2m3 0h2m3 0h2m3 0h2m3 0h2m3 0h2m3 0h2m3 0h2m3 0h2m3 0h2m3 0h2m3 0h2m3 0h2m3 0h2m3 0h2m3 0h2m3 0h2m3 0h2m3 0h2m3 0h2m3 0h2m3 0h2m3 0h2m3 0h2m3 0h2m3 0h2m3 0h2m3 0h2m3 0h2m3 0h2m3 0h2m3 0h2m3 0h2m3 0h2m3 0h7m3 0h2m3 0h2m3 0h2m3 0h2m3 0h2m3 0h2m3 0h7m3 0h2m3 0h2m3 0h2m3 0h2m3 0h2m3 0h2m3 0h2m3 0h2m3 0h2m3 0h2m3 0h2m3 0h2m3 0h2m3 0h2m3 0h2m3 0h2m3 0h2m3 0h2m3 0h2m3 0h2m3 0h2m3 0h2m3 0h2m3 0h2m3 0h2m3 0h2m3 0h2m3 0h2m3 0h2m3 0h2m3 0h2m3 0h2m3 0h2m3 0h2m3 0h2m3 0h2m3 0h2m3 0h2m3 0h2m3 0h2m3 0h2m3 0h2m3 0h2m3 0h2m3 0h7m3 0h2m3 0h2m3 0h2m3 0h2m3 0h2m3 0h2m3 0h2m3 0h2m3 0h2m3 0h2m3 0h2m3 0h2m3 0h2m3 0h2m3 0h2m3 0h2m3 0h2m3 0h2m3 0h2m3 0h2m3 0h2M907 1858h2m8 0h2m48 0h2m28 0h2m8 0h2m48 0h2m8 0h2m8 0h2m8 0h2m38 0h2m8 0h2m8 0h2m8 0h2m18 0h2m8 0h2m18 0h2m8 0h2m3 0h2m3 0h2m3 0h2m3 0h2m3 0h2m3 0h2m8 0h2m8 0h2m3 0h2m3 0h2m3 0h2m3 0h2m8 0h2m8 0h2m3 0h2m3 0h2m3 0h2m3 0h2m8 0h2m8 0h2m3 0h2m3 0h2m3 0h2m3 0h2m13 0h2m3 0h2m8 0h2m8 0h2m3 0h2m3 0h2m3 0h2m3 0h2m3 0h2m3 0h2m3 0h2m3 0h2m8 0h2m8 0h2m8 0h2m18 0h2m3 0h2m3 0h2m3 0h2m3 0h2m8 0h2m3 0h2m3 0h2m3 0h2m3 0h2m3 0h2m3 0h2m8 0h2m3 0h2m3 0h2m3 0h2m3 0h2m8 0h2m3 0h2m3 0h2m3 0h2m3 0h2m3 0h2m3 0h2m3 0h2m3 0h2m3 0h2m3 0h2m3 0h2m3 0h2M630 1861h2m8 0h2m3 0h2m3 0h2m3 0h2m3 0h2m3 0h2m3 0h2m8 0h2m3 0h2m3 0h2m8 0h2m8 0h2m8 0h2m3 0h2m3 0h2m3 0h2m3 0h2m8 0h2m3 0h2m3 0h2m3 0h2m3 0h2m8 0h2m8 0h2m3 0h2m3 0h2m3 0h2m3 0h2m3 0h2m3 0h2m3 0h2m3 0h2m8 0h2m3 0h2m3 0h2m3 0h2m3 0h2m3 0h2m3 0h2m3 0h2m3 0h2m3 0h2m3 0h2m3 0h2m3 0h2m3 0h2m3 0h2m3 0h2m3 0h2m3 0h2m3 0h2m3 0h2m3 0h2m3 0h2m3 0h2m3 0h2m3 0h2m3 0h2m3 0h2m3 0h2m3 0h2m3 0h2m3 0h2m3 0h2m3 0h2m3 0h2m3 0h2m3 0h2m3 0h2m3 0h2m3 0h2m3 0h2m3 0h2m3 0h2m3 0h2m3 0h2m3 0h2m3 0h2m3 0h2m3 0h2m3 0h2m3 0h2m3 0h2m3 0h2m3 0h2m3 0h2m3 0h2m3 0h2m3 0h2m3 0h2m3 0h2m3 0h2m3 0h2m3 0h2m3 0h2m3 0h2m3 0h2m3 0h2m3 0h2m3 0h2m3 0h2m3 0h2m3 0h2m3 0h2m3 0h7m3 0h7m3 0h2m3 0h2m3 0h7m3 0h7m3 0h2m3 0h2m3 0h2m3 0h2m3 0h2m3 0h2m3 0h2m3 0h2m3 0h2m3 0h2m3 0h2m3 0h2m3 0h7m3 0h7m3 0h7m3 0h7m3 0h2m3 0h2m3 0h2m3 0h2m3 0h2m3 0h2m3 0h2m3 0h2m3 0h2m3 0h2m3 0h2m3 0h2m3 0h2m3 0h2m3 0h7m3 0h2m3 0h2m3 0h2m3 0h2m3 0h2m3 0h2m3 0h2m3 0h2m3 0h2m3 0h2m3 0h7m3 0h2m3 0h2m3 0h2m3 0h2m3 0h2m3 0h2m3 0h2m3 0h2m3 0h7m3 0h7m3 0h2m3 0h2m3 0h7m3 0h7m3 0h7m3 0h2m3 0h2m3 0h7m3 0h2m3 0h2m3 0h2m3 0h2m3 0h7m3 0h7m3 0h2m8 0h2M642 1863h2m98 0h2m78 0h2m8 0h2m8 0h2m8 0h2m8 0h2m13 0h2m13 0h2m8 0h2m18 0h2m18 0h2m3 0h2m3 0h2m8 0h2m8 0h2m8 0h2m18 0h2m8 0h2m8 0h2m8 0h2m8 0h2m3 0h2m8 0h2m13 0h2m3 0h2m8 0h2m3 0h2m3 0h2m3 0h2m8 0h2m18 0h2m8 0h2m8 0h2m18 0h2m8 0h2m3 0h2m3 0h2m3 0h2m3 0h2m3 0h2m3 0h2m3 0h2m3 0h2m3 0h2m3 0h2m3 0h2m3 0h2m3 0h2m3 0h2m3 0h2m3 0h2m3 0h2m3 0h2m3 0h2m3 0h2m3 0h2m3 0h2m3 0h2m3 0h2m3 0h2m3 0h2m3 0h2m3 0h2m3 0h2m3 0h2m3 0h2m3 0h2m3 0h2m3 0h2m3 0h2m3 0h2m8 0h2m8 0h2m3 0h2m3 0h2m8 0h2m3 0h2m3 0h2m3 0h2m3 0h2m3 0h2m3 0h2m3 0h2m3 0h2m3 0h2m3 0h2m3 0h2m3 0h2m8 0h2m3 0h2m3 0h2m3 0h2m3 0h2m3 0h2m3 0h2m3 0h2m3 0h2m8 0h2m3 0h2m3 0h2m8 0h2m3 0h2m3 0h2m3 0h2m3 0h2m3 0h2m3 0h2m3 0h2m3 0h2m3 0h2m3 0h2m3 0h2m3 0h2m3 0h2m3 0h2m3 0h2m3 0h2m3 0h2m3 0h2m8 0h2M655 1866h2m18 0h2m8 0h2m13 0h2m3 0h2m18 0h2m8 0h2m18 0h2m8 0h2m3 0h2m3 0h2m3 0h2m3 0h2m3 0h2m3 0h2m8 0h2m8 0h2m3 0h2m3 0h2m3 0h2m3 0h2m8 0h2m3 0h2m3 0h2m3 0h2m3 0h2m3 0h2m3 0h2m3 0h2m3 0h2m3 0h2m3 0h2m8 0h2m3 0h2m3 0h2m3 0h2m3 0h2m3 0h2m3 0h2m3 0h2m3 0h2m3 0h2m3 0h2m3 0h2m3 0h2m3 0h2m3 0h2m3 0h2m3 0h2m3 0h2m3 0h2m3 0h2m3 0h2m3 0h2m3 0h2m3 0h2m3 0h2m3 0h2m3 0h2m3 0h2m3 0h2m3 0h2m3 0h2m3 0h2m3 0h2m3 0h2m3 0h2m3 0h2m3 0h2m3 0h2m3 0h2m3 0h2m3 0h2m3 0h2m3 0h2m3 0h2m3 0h2m3 0h2m3 0h2m3 0h2m3 0h2m3 0h2m3 0h2m3 0h2m3 0h2m3 0h2m3 0h2m3 0h2m3 0h2m3 0h2m3 0h2m3 0h2m3 0h2m3 0h2m3 0h2m3 0h2m3 0h2m3 0h2m3 0h7m3 0h7m3 0h2m3 0h2m3 0h2m3 0h2m3 0h7m3 0h7m3 0h2m3 0h2m3 0h2m3 0h2m3 0h7m3 0h2m3 0h2m3 0h7m3 0h7m3 0h2m3 0h2m3 0h2m3 0h2m3 0h2m3 0h2m3 0h2m3 0h2m3 0h7m3 0h2m3 0h2m3 0h2m3 0h2m3 0h7m3 0h2m3 0h2m3 0h2m3 0h2m3 0h2m3 0h2m3 0h2m3 0h2m3 0h2m3 0h2m3 0h2m3 0h2m3 0h2m3 0h2m3 0h7m3 0h2m3 0h2m3 0h2m3 0h2m3 0h2m3 0h2m3 0h2m3 0h2m3 0h2m3 0h2m3 0h2m3 0h2m3 0h2m3 0h2m3 0h2m3 0h2m3 0h2m3 0h2m3 0h2m3 0h2m3 0h2m3 0h2m3 0h2m3 0h2m3 0h2M867 1868h2m38 0h2m18 0h2m8 0h2m8 0h2m8 0h2m8 0h2m18 0h2m18 0h2m8 0h2m18 0h2m18 0h2m8 0h2m8 0h2m8 0h2m8 0h2m8 0h2m3 0h2m3 0h2m3 0h2m3 0h2m3 0h2m3 0h2m3 0h2m3 0h2m3 0h2m13 0h2m3 0h2m3 0h2m8 0h2m3 0h2m3 0h2m8 0h2m3 0h2m3 0h2m3 0h2m3 0h2m3 0h2m3 0h2m3 0h2m3 0h2m3 0h2m3 0h2m8 0h2m3 0h2m3 0h2m3 0h2m3 0h2m3 0h2m3 0h2m3 0h2m3 0h2m3 0h2m3 0h2m3 0h2m3 0h2m3 0h2m3 0h2m3 0h2m3 0h2m8 0h2m8 0h2m3 0h2m3 0h2m8 0h2m8 0h2m3 0h2m3 0h2m3 0h2m3 0h2m3 0h2m3 0h2m3 0h2m3 0h2m3 0h2m3 0h2m8 0h2m8 0h2m3 0h2m3 0h2m8 0h2m8 0h2m8 0h2m8 0h2m8 0h2m8 0h2m3 0h2m3 0h2m3 0h2m3 0h2m3 0h2m3 0h2m8 0h2m8 0h2m3 0h2m3 0h2m3 0h2m3 0h2m3 0h2m3 0h2m3 0h2m3 0h2M660 1871h2m8 0h2m8 0h2m3 0h2m3 0h2m8 0h2m3 0h2m3 0h2m8 0h2m13 0h2m3 0h2m3 0h2m3 0h2m8 0h2m3 0h2m3 0h2m3 0h2m3 0h2m8 0h2m3 0h2m3 0h2m8 0h2m8 0h2m8 0h2m3 0h2m3 0h2m3 0h2m3 0h2m3 0h2m3 0h2m3 0h2m3 0h2m3 0h2m3 0h2m3 0h2m3 0h2m3 0h2m3 0h2m3 0h2m3 0h2m3 0h2m3 0h2m3 0h2m3 0h2m3 0h2m3 0h2m3 0h2m3 0h2m3 0h2m3 0h2m3 0h2m3 0h2m3 0h2m3 0h2m3 0h2m3 0h2m3 0h2m3 0h2m3 0h2m3 0h2m3 0h2m3 0h2m3 0h2m3 0h2m3 0h2m3 0h2m3 0h2m3 0h2m3 0h2m3 0h2m3 0h2m3 0h2m3 0h2m3 0h2m3 0h2m3 0h2m3 0h2m3 0h2m3 0h2m3 0h2m3 0h2m3 0h7m3 0h2m3 0h2m3 0h2m3 0h2m3 0h2m3 0h2m3 0h2m3 0h2m3 0h2m3 0h2m3 0h2m3 0h2m3 0h2m3 0h2m3 0h2m3 0h2m3 0h2m3 0h12m3 0h7m3 0h17m3 0h7m3 0h7m3 0h2m3 0h2m3 0h2m3 0h2m3 0h17m3 0h17m3 0h7m3 0h7m3 0h7m3 0h7m3 0h2m3 0h2m3 0h7m3 0h7m3 0h7m3 0h2m3 0h2m3 0h2m3 0h2m3 0h7m3 0h7m3 0h7m3 0h2m3 0h2m3 0h2m3 0h2m3 0h7m3 0h2m3 0h2m3 0h2m3 0h2m3 0h7m3 0h2m3 0h2m3 0h7m3 0h2m3 0h2m3 0h7m3 0h2m3 0h2m3 0h7m3 0h2m3 0h2m3 0h2m3 0h2m3 0h2m3 0h2m3 0h2M762 1873h2m48 0h2m8 0h2m28 0h2m13 0h2m3 0h2m8 0h2m8 0h2m8 0h2m8 0h2m13 0h2m3 0h2m8 0h2m8 0h2m8 0h2m18 0h2m8 0h2m28 0h2m3 0h2m13 0h2m18 0h2m3 0h2m3 0h2m3 0h2m3 0h2m8 0h2m3 0h2m3 0h2m8 0h2m3 0h2m3 0h2m8 0h2m3 0h2m3 0h2m8 0h2m8 0h2m3 0h2m3 0h2m8 0h2m3 0h2m3 0h2m3 0h2m3 0h2m8 0h2m3 0h2m3 0h2m3 0h2m3 0h2m3 0h2m3 0h2m3 0h2m3 0h2m3 0h2m3 0h2m3 0h2m3 0h2m3 0h2m3 0h2m3 0h2m3 0h2m3 0h2m3 0h2m3 0h2m3 0h2m3 0h2m3 0h2m3 0h2m3 0h2m3 0h2m3 0h2m8 0h2m8 0h2m8 0h2m3 0h2m3 0h2m3 0h2m3 0h2m3 0h2m3 0h2m3 0h2m3 0h2m3 0h2m3 0h2m3 0h2m3 0h2m8 0h2m3 0h2m3 0h2m3 0h2m3 0h2m3 0h2m3 0h2m8 0h2m8 0h2m3 0h2m3 0h2m8 0h2m3 0h2m3 0h2m8 0h2m3 0h2m3 0h2m3 0h2m3 0h2m3 0h2m3 0h2m3 0h2m3 0h2m3 0h2m3 0h2m3 0h2m3 0h2m3 0h2m3 0h2m3 0h2M695 1876h2m18 0h2m18 0h2m8 0h2m8 0h2m8 0h2m8 0h2m8 0h2m3 0h2m3 0h2m3 0h2m3 0h2m8 0h2m8 0h2m3 0h2m3 0h2m3 0h2m3 0h2m3 0h2m3 0h2m3 0h2m3 0h2m3 0h2m3 0h2m3 0h2m3 0h2m8 0h2m3 0h2m3 0h2m3 0h2m3 0h2m3 0h2m3 0h2m3 0h2m3 0h2m3 0h2m3 0h2m3 0h2m3 0h2m3 0h2m3 0h2m3 0h2m3 0h2m3 0h2m3 0h2m3 0h2m3 0h2m3 0h2m3 0h2m3 0h2m3 0h2m3 0h2m3 0h2m3 0h2m3 0h2m3 0h2m3 0h2m3 0h2m3 0h2m3 0h2m3 0h2m3 0h2m3 0h2m3 0h2m3 0h2m3 0h2m3 0h2m3 0h2m3 0h2m3 0h2m3 0h2m3 0h2m3 0h2m3 0h2m3 0h2m3 0h2m3 0h2m3 0h2m3 0h2m3 0h2m3 0h2m3 0h2m3 0h2m3 0h2m3 0h2m3 0h2m3 0h2m3 0h2m3 0h2m3 0h2m3 0h2m3 0h2m3 0h7m3 0h7m3 0h7m3 0h7m3 0h7m3 0h2m3 0h2m3 0h2m3 0h2m3 0h7m3 0h2m3 0h2m3 0h2m3 0h2m3 0h2m3 0h2m3 0h2m3 0h2m3 0h2m3 0h2m3 0h2m3 0h2m3 0h2m3 0h2m3 0h2m3 0h2m3 0h2m3 0h2m3 0h2m3 0h2m3 0h2m3 0h2m3 0h2m3 0h2m3 0h2m3 0h2m3 0h2m3 0h2m3 0h2m3 0h2m3 0h2m3 0h2m3 0h7m3 0h2m3 0h2m3 0h2m3 0h2m3 0h2m3 0h2m3 0h2m3 0h2m3 0h2m3 0h2m3 0h2m3 0h2m3 0h2m3 0h2m3 0h7m3 0h7m3 0h2m3 0h2m3 0h2m3 0h2m3 0h2m3 0h2m3 0h2m3 0h2M777 1878h2m98 0h2m38 0h2m8 0h2m8 0h2m38 0h2m8 0h2m48 0h2m18 0h2m8 0h2m3 0h2m3 0h2m8 0h2m8 0h2m8 0h2m8 0h2m8 0h2m8 0h2m3 0h2m3 0h2m3 0h2m3 0h2m8 0h2m3 0h2m3 0h2m3 0h2m3 0h2m3 0h2m3 0h2m3 0h2m3 0h2m3 0h2m3 0h2m3 0h2m3 0h2m3 0h2m3 0h2m3 0h2m3 0h2m3 0h2m3 0h2m3 0h2m3 0h2m3 0h2m3 0h2m3 0h2m3 0h2m3 0h2m3 0h2m3 0h2m3 0h2m3 0h2m3 0h2m8 0h2m3 0h2m3 0h2m8 0h2m3 0h2m3 0h2m8 0h2m8 0h2m8 0h2m3 0h2m3 0h2m8 0h2m3 0h2m3 0h2m8 0h2m3 0h2m3 0h2m3 0h2m3 0h2m3 0h2m3 0h2m8 0h2m3 0h2m3 0h2m8 0h2m3 0h2m3 0h2m3 0h2m3 0h2m3 0h2m3 0h2m3 0h2m3 0h2m8 0h2m8 0h2m3 0h2m3 0h2m8 0h2m3 0h2m3 0h2m8 0h2M710 1881h2m3 0h2m3 0h2m3 0h2m3 0h2m3 0h2m3 0h2m3 0h2m3 0h2m3 0h2m3 0h2m3 0h2m3 0h2m3 0h2m3 0h2m3 0h2m3 0h2m3 0h2m3 0h2m3 0h2m3 0h2m3 0h2m3 0h2m3 0h2m3 0h2m3 0h2m3 0h2m3 0h2m3 0h2m3 0h2m3 0h2m3 0h2m3 0h2m3 0h2m3 0h2m3 0h2m3 0h2m3 0h2m3 0h2m3 0h2m3 0h2m3 0h2m3 0h2m3 0h2m3 0h2m3 0h2m3 0h2m3 0h2m3 0h2m3 0h2m3 0h2m3 0h2m3 0h2m3 0h2m3 0h2m3 0h2m3 0h2m3 0h2m3 0h2m3 0h2m3 0h2m3 0h2m3 0h2m3 0h2m3 0h2m3 0h2m3 0h2m3 0h2m3 0h2m3 0h2m3 0h2m3 0h2m3 0h2m3 0h2m3 0h2m3 0h2m3 0h2m3 0h2m3 0h2m3 0h2m3 0h2m3 0h2m3 0h2m3 0h2m3 0h2m3 0h2m3 0h7m3 0h2m3 0h2m3 0h7m3 0h2m3 0h2m3 0h2m3 0h2m3 0h2m3 0h2m3 0h2m3 0h2m3 0h2m3 0h2m3 0h7m3 0h7m3 0h7m3 0h2m3 0h2m3 0h7m3 0h2m3 0h22m3 0h2m3 0h2m3 0h7m3 0h7m3 0h7m3 0h7m3 0h2m3 0h2m3 0h2m3 0h2m3 0h2m3 0h2m3 0h2m3 0h2m3 0h2m3 0h2m3 0h2m3 0h2m3 0h7m3 0h2m3 0h2m3 0h2m3 0h2m3 0h2m3 0h2m3 0h7m3 0h2m3 0h2m3 0h2m3 0h2m3 0h2m3 0h2m3 0h7m3 0h2m3 0h2m3 0h7m3 0h7m3 0h2m3 0h2m3 0h2m3 0h2m3 0h2m3 0h2m3 0h2m3 0h2m3 0h2m3 0h2m3 0h2m8 0h2M752 1883h2m38 0h2m18 0h2m8 0h2m38 0h2m8 0h2m8 0h2m8 0h2m8 0h2m3 0h2m3 0h2m8 0h2m3 0h2m3 0h2m8 0h2m13 0h2m3 0h2m18 0h2m3 0h2m3 0h2m23 0h2m3 0h2m8 0h2m8 0h2m3 0h2m3 0h2m3 0h2m3 0h2m3 0h2m3 0h2m8 0h2m3 0h2m3 0h2m3 0h2m3 0h2m8 0h2m3 0h2m3 0h2m8 0h2m8 0h2m3 0h2m3 0h2m8 0h2m3 0h2m3 0h2m3 0h2m3 0h2m3 0h2m3 0h2m3 0h2m3 0h2m3 0h2m3 0h2m3 0h2m3 0h2m3 0h2m3 0h2m3 0h2m3 0h2m3 0h2m3 0h2m3 0h2m3 0h2m3 0h2m3 0h2m3 0h2m3 0h2m3 0h2m3 0h2m3 0h2m3 0h2m3 0h2m3 0h2m3 0h2m3 0h2m3 0h2m3 0h2m3 0h2m3 0h2m3 0h2m3 0h2m8 0h2m3 0h2m3 0h2m3 0h2m3 0h2m8 0h2m3 0h2m3 0h2m3 0h2m3 0h2m8 0h2m3 0h2m3 0h2m3 0h2m3 0h2m8 0h2m3 0h2m3 0h2m8 0h2m3 0h2m3 0h2m3 0h2m3 0h2m8 0h2m3 0h2m3 0h2m8 0h2m8 0h2m3 0h2m3 0h2m3 0h2m3 0h2m3 0h2m3 0h2M740 1886h2m3 0h2m8 0h2m3 0h2m3 0h2m3 0h2m3 0h2m3 0h2m3 0h2m3 0h2m3 0h2m3 0h2m3 0h2m3 0h2m3 0h2m8 0h2m3 0h2m3 0h2m3 0h2m3 0h2m3 0h2m3 0h2m3 0h2m3 0h2m3 0h2m3 0h2m3 0h2m3 0h2m3 0h2m3 0h2m3 0h2m3 0h2m3 0h2m3 0h2m3 0h2m3 0h2m3 0h2m3 0h2m3 0h2m3 0h2m3 0h2m3 0h2m3 0h2m3 0h2m3 0h2m3 0h2m3 0h2m3 0h2m3 0h2m3 0h2m3 0h2m3 0h2m3 0h2m3 0h2m3 0h2m3 0h2m3 0h2m3 0h2m3 0h2m3 0h2m3 0h2m3 0h2m3 0h2m3 0h2m3 0h2m3 0h2m3 0h2m3 0h2m3 0h2m3 0h2m3 0h2m3 0h2m3 0h2m3 0h2m3 0h2m3 0h2m3 0h2m3 0h2m3 0h2m3 0h2m3 0h2m3 0h2m3 0h2m3 0h2m3 0h2m3 0h2m3 0h2m3 0h2m3 0h2m3 0h2m3 0h2m3 0h7m3 0h7m3 0h2m3 0h2m3 0h2m3 0h2m3 0h2m3 0h2m3 0h7m3 0h7m3 0h12m3 0h2m3 0h7m3 0h7m3 0h2m3 0h2m3 0h2m3 0h2m3 0h2m3 0h2m3 0h2m3 0h2m3 0h2m3 0h2m3 0h2m3 0h2m3 0h2m3 0h2m3 0h2m3 0h2m3 0h2m3 0h2m3 0h2m3 0h2m3 0h2m3 0h2m3 0h2m3 0h2m3 0h2m3 0h2m3 0h2m3 0h2m3 0h2m3 0h2m3 0h2m3 0h2m3 0h2m3 0h2m3 0h2m3 0h2m3 0h2m3 0h2m3 0h2m3 0h2m3 0h2m3 0h2m3 0h2m3 0h2m3 0h2m3 0h2m3 0h2m3 0h2M757 1888h2m28 0h2m18 0h2m78 0h2m18 0h2m18 0h2m48 0h2m8 0h2m28 0h2m8 0h2m18 0h2m8 0h2m8 0h2m3 0h2m3 0h2m8 0h2m3 0h2m3 0h2m8 0h2m3 0h2m3 0h2m8 0h2m8 0h2m3 0h2m3 0h2m8 0h2m8 0h2m3 0h2m8 0h2m3 0h2m8 0h2m8 0h2m3 0h2m3 0h2m3 0h2m3 0h2m3 0h2m3 0h2m3 0h2m3 0h2m3 0h2m3 0h2m3 0h2m3 0h2m3 0h2m3 0h2m3 0h2m3 0h2m3 0h2m3 0h2m3 0h2m3 0h2m8 0h2m8 0h2m8 0h2m3 0h2m3 0h2m8 0h2m8 0h2m3 0h2m3 0h2m3 0h2m3 0h2m3 0h2m3 0h2m3 0h2m3 0h2m3 0h2m3 0h2m3 0h2m3 0h2m8 0h2m3 0h2m3 0h2m3 0h2m3 0h2m3 0h2m3 0h2m8 0h2m8 0h2m3 0h2m3 0h2m3 0h2m3 0h2m3 0h2m3 0h2m8 0h2M750 1891h2m18 0h2m3 0h2m3 0h2m3 0h2m3 0h2m3 0h2m3 0h2m3 0h2m3 0h2m3 0h2m3 0h2m3 0h2m3 0h2m3 0h2m3 0h2m3 0h2m3 0h2m3 0h2m3 0h2m3 0h2m3 0h2m3 0h2m3 0h2m3 0h2m3 0h2m3 0h2m3 0h2m3 0h2m3 0h2m3 0h2m3 0h2m3 0h2m3 0h2m3 0h2m3 0h2m3 0h2m3 0h2m3 0h2m3 0h2m3 0h2m3 0h2m3 0h2m3 0h2m3 0h2m3 0h2m3 0h2m3 0h2m3 0h2m3 0h2m3 0h2m3 0h2m3 0h2m3 0h2m3 0h2m3 0h2m3 0h2m3 0h2m3 0h2m3 0h2m3 0h2m3 0h2m3 0h2m3 0h2m3 0h2m3 0h2m3 0h2m3 0h2m3 0h2m3 0h2m3 0h2m3 0h2m3 0h2m3 0h2m3 0h2m3 0h2m3 0h2m3 0h7m3 0h7m3 0h2m3 0h2m3 0h2m3 0h2m3 0h2m3 0h2m3 0h2m3 0h2m3 0h2m3 0h2m3 0h2m3 0h2m3 0h17m3 0h17m3 0h7m3 0h2m3 0h2m3 0h2m3 0h2m3 0h7m3 0h7m3 0h2m3 0h2m3 0h2m3 0h2m3 0h2m3 0h2m3 0h7m3 0h7m3 0h2m3 0h2m3 0h2m3 0h2m3 0h2m3 0h2m3 0h2m3 0h2m3 0h2m3 0h2m3 0h2m3 0h2m3 0h2m3 0h2m3 0h2m3 0h2m3 0h7m3 0h2m3 0h2m3 0h2m3 0h2m3 0h7m3 0h2m3 0h2m3 0h2m3 0h2m3 0h2m3 0h2m3 0h2m8 0h2m8 0h2M802 1893h2m8 0h2m18 0h2m8 0h2m28 0h2m13 0h2m3 0h2m13 0h2m3 0h2m8 0h2m8 0h2m3 0h2m3 0h2m3 0h2m3 0h2m3 0h2m3 0h2m18 0h2m3 0h2m8 0h2m3 0h2m18 0h2m3 0h2m3 0h2m3 0h2m3 0h2m3 0h2m3 0h2m3 0h2m3 0h2m3 0h2m3 0h2m3 0h2m3 0h2m8 0h2m3 0h2m3 0h2m8 0h2m3 0h2m3 0h2m3 0h2m3 0h2m3 0h2m3 0h2m3 0h2m3 0h2m3 0h2m3 0h2m3 0h2m3 0h2m8 0h2m3 0h2m3 0h2m3 0h2m3 0h2m3 0h2m3 0h2m3 0h2m3 0h2m3 0h2m3 0h2m3 0h2m3 0h2m3 0h2m3 0h2m3 0h2m3 0h2m3 0h2m3 0h2m3 0h2m3 0h2m3 0h2m3 0h2m3 0h2m3 0h2m3 0h2m3 0h2m3 0h2m3 0h2m8 0h2m8 0h2m3 0h2m3 0h2m3 0h2m3 0h2m3 0h2m3 0h2m3 0h2m3 0h2m3 0h2m3 0h2m8 0h2m8 0h2m3 0h2m3 0h2m3 0h2m3 0h2m3 0h2m3 0h2m3 0h2m3 0h2m3 0h2m3 0h2m3 0h2m3 0h2m3 0h2m3 0h2m3 0h2m3 0h2m3 0h2m3 0h2M795 1896h2m8 0h2m8 0h2m3 0h2m3 0h2m3 0h2m3 0h2m3 0h2m3 0h2m3 0h2m3 0h2m3 0h2m3 0h2m8 0h2m3 0h2m3 0h2m3 0h2m3 0h2m3 0h2m3 0h2m3 0h2m3 0h2m3 0h2m3 0h2m3 0h2m3 0h2m3 0h2m3 0h2m3 0h2m3 0h2m3 0h2m3 0h2m3 0h2m3 0h2m3 0h2m3 0h2m3 0h2m3 0h2m3 0h2m3 0h2m3 0h2m3 0h2m3 0h2m3 0h2m3 0h2m3 0h2m3 0h2m3 0h2m3 0h2m3 0h2m3 0h2m3 0h2m3 0h2m3 0h2m3 0h2m3 0h2m3 0h2m3 0h2m3 0h2m3 0h2m3 0h2m3 0h2m3 0h2m3 0h2m3 0h2m3 0h2m3 0h2m3 0h2m3 0h2m3 0h2m3 0h2m3 0h2m3 0h2m3 0h2m3 0h2m3 0h2m3 0h2m3 0h2m3 0h2m3 0h7m3 0h2m3 0h2m3 0h2m3 0h2m3 0h2m3 0h2m3 0h17m3 0h2m3 0h2m3 0h2m3 0h2m3 0h7m3 0h7m3 0h2m3 0h2m3 0h2m3 0h2m3 0h2m3 0h2m3 0h2m3 0h2m3 0h2m3 0h2m3 0h2m3 0h2m3 0h2m3 0h2m3 0h2m3 0h2m3 0h2m3 0h2m3 0h2m3 0h2m3 0h2m3 0h2m3 0h2m3 0h2m3 0h2m3 0h2m3 0h2m3 0h2m3 0h2m3 0h2m3 0h2m3 0h2m3 0h2m3 0h2m3 0h2m3 0h2M867 1898h2m18 0h2m28 0h2m8 0h2m3 0h2m3 0h2m38 0h2m8 0h2m18 0h2m3 0h2m13 0h2m3 0h2m13 0h2m8 0h2m8 0h2m3 0h2m3 0h2m3 0h2m13 0h2m8 0h2m8 0h2m8 0h2m3 0h2m3 0h2m3 0h2m3 0h2m8 0h2m13 0h2m3 0h2m8 0h2m3 0h2m3 0h2m8 0h2m3 0h2m3 0h2m3 0h2m3 0h2m3 0h2m3 0h2m3 0h2m3 0h2m3 0h2m3 0h2m3 0h2m3 0h2m3 0h2m3 0h2m3 0h2m3 0h2m3 0h2m3 0h2m8 0h2m8 0h2m8 0h2m8 0h2m8 0h2m8 0h2m3 0h2m3 0h2m8 0h2m8 0h2m8 0h2m3 0h2m13 0h2m8 0h2m3 0h2m13 0h2m8 0h2M830 1901h2m13 0h2m3 0h2m3 0h2m3 0h2m3 0h2m3 0h2m3 0h2m3 0h2m3 0h2m3 0h2m3 0h2m3 0h2m3 0h2m3 0h2m3 0h2m3 0h2m3 0h2m3 0h2m3 0h2m3 0h2m3 0h2m3 0h2m3 0h2m3 0h2m3 0h2m3 0h2m3 0h2m3 0h2m3 0h2m3 0h2m3 0h2m3 0h2m3 0h2m3 0h2m3 0h2m3 0h2m3 0h2m3 0h2m3 0h2m3 0h2m3 0h2m3 0h2m3 0h2m3 0h2m3 0h2m3 0h2m3 0h2m3 0h2m3 0h2m3 0h2m3 0h2m3 0h2m3 0h2m3 0h2m3 0h2m3 0h2m3 0h2m3 0h2m3 0h2m3 0h2m3 0h2m3 0h2m3 0h2m3 0h2m3 0h2m3 0h2m3 0h2m3 0h2m3 0h2m3 0h2m3 0h2m3 0h2m3 0h2m3 0h2m3 0h2m3 0h7m3 0h2m3 0h2m3 0h7m3 0h7m3 0h7m3 0h2m3 0h2m3 0h2m3 0h2m3 0h7m3 0h7m3 0h2m3 0h2m3 0h7m3 0h2m3 0h2m3 0h2m3 0h2m3 0h2m3 0h2m3 0h2m3 0h2m3 0h2m3 0h2m3 0h2m3 0h2m3 0h2m3 0h2m3 0h2m3 0h2m3 0h2m3 0h2m3 0h7m3 0h2m3 0h2m3 0h2M892 1903h2m3 0h2m3 0h2m8 0h2m3 0h2m3 0h2m3 0h2m3 0h2m8 0h2m8 0h2m3 0h2m3 0h2m3 0h2m3 0h2m8 0h2m3 0h2m3 0h2m18 0h2m23 0h2m3 0h2m3 0h2m3 0h2m8 0h2m8 0h2m3 0h2m3 0h2m3 0h2m3 0h2m8 0h2m3 0h2m3 0h2m3 0h2m3 0h2m8 0h2m3 0h2m3 0h2m3 0h2m3 0h2m3 0h2m3 0h2m8 0h2m3 0h2m3 0h2m3 0h2m3 0h2m8 0h2m3 0h2m3 0h2m8 0h2m3 0h2m3 0h2m3 0h2m3 0h2m3 0h2m3 0h2m3 0h2m3 0h2m3 0h2m3 0h2m3 0h2m3 0h2m3 0h2m3 0h2m3 0h2m3 0h2m3 0h2m3 0h2m3 0h2m3 0h2m8 0h2m3 0h2m3 0h2m3 0h2m3 0h2m3 0h2m3 0h2m3 0h2m3 0h2m3 0h2m3 0h2m8 0h2m3 0h2m3 0h2m3 0h2m3 0h2M910 1906h2m3 0h2m3 0h2m3 0h2m3 0h2m3 0h2m3 0h2m3 0h2m3 0h2m3 0h2m3 0h2m3 0h2m3 0h2m3 0h2m3 0h2m3 0h2m3 0h2m3 0h2m3 0h2m3 0h2m3 0h2m3 0h2m3 0h2m3 0h2m3 0h2m3 0h2m3 0h2m3 0h2m3 0h2m3 0h2m3 0h2m3 0h2m3 0h2m3 0h2m3 0h2m3 0h2m3 0h2m3 0h2m3 0h2m3 0h2m3 0h2m3 0h2m3 0h2m3 0h2m3 0h2m3 0h2m3 0h2m3 0h2m3 0h2m3 0h2m3 0h2m3 0h2m3 0h2m3 0h2m3 0h2m3 0h2m3 0h2m3 0h2m3 0h2m3 0h2m3 0h2m3 0h2m3 0h2m3 0h2m3 0h2m3 0h2m3 0h2m3 0h2m3 0h2m3 0h2m3 0h2m3 0h7m3 0h7m3 0h2m3 0h2m3 0h2m3 0h2m3 0h2m3 0h2m3 0h2m3 0h2m3 0h2m3 0h2m3 0h2m3 0h2m3 0h2m3 0h2m3 0h2m3 0h2m3 0h2m3 0h2m3 0h2m3 0h2m3 0h2m28 0h2M947 1908h2m8 0h2m8 0h2m8 0h2m8 0h2m8 0h2m28 0h2m18 0h2m18 0h2m13 0h2m3 0h2m13 0h2m3 0h2m3 0h2m8 0h2m3 0h2m8 0h2m3 0h2m3 0h2m3 0h2m3 0h2m8 0h2m8 0h2m8 0h2m8 0h2m18 0h2m8 0h2m3 0h2m3 0h2m3 0h2m3 0h2m3 0h2m3 0h2m3 0h2m3 0h2m3 0h2m3 0h2m3 0h2m3 0h2m8 0h2m8 0h2m3 0h2m3 0h2m8 0h2m18 0h2M930 1911h2m8 0h2m18 0h2m8 0h2m13 0h2m3 0h2m3 0h2m3 0h2m3 0h2m3 0h2m3 0h2m3 0h2m3 0h2m3 0h2m3 0h2m3 0h2m3 0h2m3 0h2m3 0h2m3 0h2m3 0h2m3 0h2m3 0h2m3 0h7m3 0h2m3 0h2m3 0h2m3 0h2m3 0h2m3 0h2m3 0h7m3 0h2m3 0h2m3 0h2m3 0h2m3 0h2m3 0h2m3 0h2m3 0h2m3 0h2m3 0h2m3 0h2m3 0h2m3 0h2m3 0h2m3 0h2m3 0h2m3 0h2m3 0h2m3 0h2m3 0h2m3 0h2m3 0h2m3 0h2m3 0h2m3 0h7m3 0h2m3 0h2m3 0h2m3 0h2m3 0h7m3 0h7m3 0h7m3 0h2m28 0h2m18 0h2M1047 1913h2m3 0h2m8 0h2m8 0h2m8 0h2m3 0h2m3 0h2m8 0h2m3 0h2m3 0h2m3 0h2m3 0h2m8 0h2m8 0h2m3 0h2m3 0h2m3 0h2m3 0h2m8 0h2m3 0h2m3 0h2m8 0h2m8 0h2m8 0h2m8 0h2m8 0h2m3 0h2m3 0h2m3 0h2m3 0h2M1125 1916h2m8 0h2m8 0h2m18 0h2m8 0h2m78 0h2"/>
<g fill="none" stroke="#000" stroke-width="4" stroke-linejoin="round" stroke-linecap="round">
<ellipse cx="1147.5" cy="390" rx="555.5" ry="90"/>
<path d="M592.5 390 592.4 397 592.5 404 592.6 410.9 592.8 417.9 593.1 424.8 593.5 431.7 594.1 438.7 594.7 445.6 595.4 452.4 596.2 459.3 597 466.2 598 473 599.1 479.8 600.2 486.6 601.5 493.4 602.8 500.2 604.2 506.9 605.7 513.6 607.3 520.3 608.9 527 610.7 533.7 612.5 540.3 614.4 546.9 616.4 553.5 618.5 560.1 620.7 566.6 622.9 573.1 625.2 579.6 627.6 586.1 630 592.5 632.6 598.9 635.2 605.3 637.9 611.6 640.6 617.9 643.4 624.2 646.3 630.5 649.3 636.7 652.3 642.9 655.4 649.1 658.6 655.2 661.8 661.3 665.1 667.3 668.5 673.4 671.9 679.4 675.4 685.3 678.9 691.2 682.6 697.1 686.2 703 690 708.8 693.7 714.5 697.6 720.3 701.5 726 705.4 731.6 709.5 737.2 713.5 742.8 717.6 748.3 721.8 753.8 726 759.2 730.3 764.6 734.6 770 739 775.3 743.4 780.6 747.9 785.8 752.4 791 757 796.2 761.6 801.3 766.2 806.4 770.9 811.4 775.6 816.4 780.4 821.4 785.2 826.4 790.1 831.3 795 836.1 799.9 841 804.9 845.8 809.9 850.6 814.9 855.3 819.9 860 825 864.7 830.2 869.3 835.3 873.9 840.5 878.5 845.7 883.1 851 887.6 856.3 892.1 861.6 896.6 866.9 901 872.2 905.5 877.6 909.8 883 914.2 888.4 918.5 893.9 922.9 899.3 927.1 904.8 931.4 910.3 935.7 915.8 939.9 921.4 944.1 926.9 948.2 932.5 952.4 938 956.5 943.6 960.6 949.2 964.7 954.8 968.8 960.5 972.8 966.1 976.9 971.7 980.9 977.3 984.9 982.9 989 988.5 993 994.1 997.1 999.7 1001.1 1005.2 1005.2 1010.7 1009.4 1016.2 1013.5 1021.6 1017.7 1027 1022 1032.3 1026.3 1037.6 1030.6 1042.8 1035.1 1048 1039.5 1053.1 1044.1 1058.1 1048.7 1063.1 1053.5 1068 1058.3 1072.8 1063.2 1077.5 1068.2 1082 1073.3 1086.3 1078.6 1090.2 1084.1 1093.5 1090 1096.2 1096.2 1098 1102.9 1098.8 1110"/>
<path d="M1702.5 390 1702.6 397 1702.6 403.9 1702.5 410.9 1702.3 417.8 1702 424.8 1701.6 431.7 1701.1 438.6 1700.5 445.5 1699.8 452.3 1699.1 459.2 1698.2 466 1697.3 472.9 1696.2 479.7 1695.1 486.5 1693.9 493.2 1692.5 500 1691.1 506.7 1689.7 513.4 1688.1 520.1 1686.4 526.7 1684.7 533.4 1682.9 540 1681 546.6 1679 553.1 1676.9 559.7 1674.7 566.2 1672.5 572.7 1670.2 579.1 1667.8 585.6 1665.3 592 1662.8 598.4 1660.2 604.7 1657.5 611 1654.7 617.3 1651.9 623.6 1649 629.8 1646 636 1642.9 642.1 1639.8 648.2 1636.6 654.3 1633.4 660.4 1630 666.4 1626.6 672.4 1623.2 678.3 1619.7 684.2 1616.1 690.1 1612.4 695.9 1608.7 701.7 1604.9 707.4 1601.1 713.1 1597.2 718.8 1593.2 724.4 1589.2 730 1585.1 735.5 1581 741 1576.8 746.4 1572.6 751.8 1568.3 757.2 1563.9 762.5 1559.5 767.8 1555.1 773 1550.6 778.2 1546 783.4 1541.4 788.5 1536.8 793.6 1532.1 798.7 1527.4 803.7 1522.6 808.6 1517.8 813.6 1513 818.5 1508.1 823.4 1503.2 828.2 1498.3 833.1 1493.3 837.8 1488.3 842.6 1483.3 847.3 1478.2 852 1473.1 856.7 1468 861.4 1462.8 866 1457.7 870.6 1452.5 875.2 1447.3 879.7 1442 884.2 1436.8 888.8 1431.5 893.2 1426.2 897.7 1420.9 902.2 1415.6 906.6 1410.3 911 1404.9 915.4 1399.6 919.8 1394.2 924.1 1388.9 928.5 1383.5 932.8 1378.1 937.1 1372.8 941.4 1367.4 945.7 1362 950 1356.6 954.3 1351.3 958.5 1345.9 962.8 1340.5 967.1 1335.1 971.3 1329.7 975.5 1324.4 979.8 1319 984 1313.6 988.2 1308.2 992.5 1302.8 996.7 1297.4 1001 1292.1 1005.2 1286.7 1009.5 1281.3 1013.7 1275.9 1018 1270.5 1022.3 1265.1 1026.6 1259.7 1030.9 1254.4 1035.2 1249 1039.5 1243.6 1043.9 1238.2 1048.2 1232.9 1052.7 1227.6 1057.1 1222.5 1061.8 1217.6 1066.5 1213 1071.5 1208.7 1076.6 1204.8 1082 1201.3 1087.8 1198.2 1093.8 1195.7 1100.2 1193.8 1107"/>
<path d="M1098.8 1110 1097.6 1117.2 1095.6 1123.8 1092.8 1129.9 1089.3 1135.7 1085.3 1141 1080.8 1146.1 1075.9 1150.9 1070.7 1155.4 1065.2 1159.8 1059.6 1164.2 1053.9 1168.4 1048.3 1172.6 1042.6 1176.9 1037 1181.1 1031.5 1185.3 1025.9 1189.6 1020.3 1193.8 1014.8 1198 1009.3 1202.3 1003.8 1206.5 998.3 1210.8 992.8 1215 987.3 1219.3 981.9 1223.6 976.4 1227.8 971 1232.1 965.5 1236.4 960.1 1240.8 954.6 1245.1 949.2 1249.4 943.8 1253.8 938.4 1258.2 933 1262.6 927.6 1267 922.2 1271.4 916.8 1275.8 911.5 1280.3 906.1 1284.8 900.8 1289.3 895.4 1293.8 890.1 1298.3 884.9 1302.9 879.6 1307.4 874.3 1312 869.1 1316.6 863.9 1321.3 858.7 1325.9 853.5 1330.6 848.3 1335.3 843.2 1340 838.1 1344.7 833 1349.5 827.9 1354.3 822.9 1359.1 817.9 1364 812.9 1368.8 807.9 1373.7 803 1378.7 798.1 1383.6 793.2 1388.6 788.4 1393.6 783.5 1398.6 778.8 1403.7 774 1408.8 769.3 1413.9 764.6 1419.1 760 1424.2 755.4 1429.5 750.9 1434.7 746.3 1440 741.9 1445.3 737.4 1450.6 733.1 1456 728.7 1461.4 724.4 1466.9 720.2 1472.4 716 1477.9 711.9 1483.4 707.8 1489 703.7 1494.6 699.8 1500.3 695.8 1506 692 1511.8 688.2 1517.5 684.4 1523.4 680.7 1529.2 677.1 1535.1 673.5 1541 670 1547 666.6 1553.1 663.2 1559.1 659.9 1565.2 656.7 1571.4 653.5 1577.6 650.4 1583.8 647.4 1590.1 644.4 1596.4 641.6 1602.8 638.8 1609.2 636 1615.6 633.4 1622.1 630.8 1628.6 628.3 1635.2 625.9 1641.7 623.5 1648.3 621.3 1655 619.1 1661.6 617 1668.3 614.9 1675.1 613 1681.8 611.1 1688.6 609.4 1695.4 607.7 1702.2 606 1709 604.5 1715.8 603.1 1722.7 601.7 1729.5 600.4 1736.4 599.3 1743.3 598.2 1750.2 597.2 1757.1 596.3 1764 595.4 1770.9 594.7 1777.8 594.1 1784.8 593.5 1791.7 593 1798.6 592.7 1805.5 592.4 1812.4 592.2 1819.3 592.2 1826.2 592.2 1833.1 592.3 1840"/>
<path d="M1193.8 1107 1195.7 1113.8 1198.1 1120.2 1201 1126.4 1204.4 1132.2 1208.2 1137.7 1212.3 1143.1 1216.7 1148.2 1221.4 1153.1 1226.3 1157.9 1231.4 1162.6 1236.5 1167.2 1241.8 1171.7 1247 1176.2 1252.4 1180.6 1257.8 1185 1263.3 1189.3 1268.8 1193.5 1274.4 1197.7 1280 1201.9 1285.7 1206.1 1291.3 1210.2 1297 1214.3 1302.8 1218.4 1308.5 1222.4 1314.3 1226.5 1320 1230.5 1325.8 1234.6 1331.5 1238.7 1337.3 1242.7 1343 1246.8 1348.7 1250.9 1354.4 1255.1 1360 1259.2 1365.7 1263.4 1371.3 1267.7 1376.8 1271.9 1382.3 1276.2 1387.8 1280.6 1393.3 1285 1398.7 1289.4 1404.1 1293.8 1409.5 1298.3 1414.8 1302.8 1420.1 1307.3 1425.3 1311.9 1430.6 1316.5 1435.8 1321.1 1440.9 1325.8 1446 1330.5 1451.1 1335.3 1456.2 1340.1 1461.2 1344.9 1466.2 1349.7 1471.1 1354.6 1476.1 1359.5 1480.9 1364.5 1485.8 1369.5 1490.6 1374.5 1495.4 1379.6 1500.1 1384.7 1504.8 1389.8 1509.5 1395 1514.1 1400.2 1518.7 1405.4 1523.3 1410.7 1527.8 1416 1532.3 1421.3 1536.8 1426.7 1541.2 1432.1 1545.6 1437.5 1549.9 1443 1554.2 1448.5 1558.5 1454.1 1562.7 1459.7 1566.9 1465.3 1571 1471 1575.1 1476.6 1579.2 1482.4 1583.2 1488.1 1587.1 1493.9 1591 1499.7 1594.9 1505.6 1598.7 1511.5 1602.5 1517.4 1606.2 1523.3 1609.8 1529.3 1613.4 1535.3 1616.9 1541.3 1620.4 1547.4 1623.8 1553.5 1627.2 1559.6 1630.5 1565.8 1633.7 1572 1636.9 1578.2 1640 1584.4 1643 1590.7 1646 1597 1648.9 1603.3 1651.7 1609.7 1654.5 1616.1 1657.2 1622.5 1659.8 1628.9 1662.3 1635.4 1664.8 1641.9 1667.2 1648.4 1669.5 1654.9 1671.8 1661.5 1673.9 1668.1 1676 1674.7 1678 1681.3 1679.9 1688 1681.8 1694.7 1683.5 1701.4 1685.2 1708.1 1686.8 1714.8 1688.3 1721.6 1689.7 1728.4 1691 1735.2 1692.2 1742.1 1693.3 1748.9 1694.3 1755.8 1695.3 1762.7 1696.1 1769.7 1696.9 1776.6 1697.5 1783.6 1698.1 1790.6 1698.5 1797.6 1698.8 1804.6 1699.1 1811.6 1699.2 1818.7 1699.3 1825.8 1699.2 1832.9 1699 1840"/>
</g>
<g fill="#000" stroke="none">
<path d="M1195.7 1113.8 1196.4 1116 1197.2 1118.1 1198.1 1120.2 1199 1122.3 1200 1124.3 1201 1126.4 1202.1 1128.3 1203.2 1130.3 1204.4 1132.2 1205.6 1134.1 1206.9 1135.9 1208.2 1137.7 1209.5 1139.5 1210.9 1141.3 1212.3 1143.1 1213.7 1144.8 1215.2 1146.5 1216.7 1148.2 1218.3 1149.8 1219.8 1151.5 1221.4 1153.1 1223 1154.7 1224.7 1156.3 1226.3 1157.9 1228 1159.5 1229.7 1161.1 1231.4 1162.6 1233.1 1164.2 1234.8 1165.7 1236.5 1167.2 1238.3 1168.7 1240 1170.2 1241.8 1171.7 1243.5 1173.2 1245.3 1174.7 1247 1176.2 1248.8 1177.7 1250.6 1179.2 1252.4 1180.6 1254.2 1182.1 1256 1183.5 1257.8 1185 1259.6 1186.4 1261.5 1187.8 1263.3 1189.3 1265.1 1190.7 1267 1192.1 1268.8 1193.5 1270.7 1194.9 1272.5 1196.3 1274.4 1197.7 1276.3 1199.1 1278.1 1200.5 1280 1201.9 1281.9 1203.3 1283.8 1204.7 1285.7 1206.1 1287.6 1207.4 1289.4 1208.8 1291.3 1210.2 1293.2 1211.5 1295.1 1212.9 1297 1214.3 1298.9 1215.6 1300.9 1217 1302.8 1218.4 1304.7 1219.7 1306.6 1221.1 1308.5 1222.4 1310.4 1223.8 1312.3 1225.1 1314.3 1226.5 1316.2 1227.8 1318.1 1229.2 1320 1230.5 1321.9 1231.9 1323.8 1233.2 1325.8 1234.6 1327.7 1235.9 1329.6 1237.3 1331.5 1238.7 1333.4 1240 1335.3 1241.4 1337.3 1242.7 1339.2 1244.1 1341.1 1245.5 1343 1246.8 1344.9 1248.2 1346.8 1249.6 1348.7 1250.9 1350.6 1252.3 1352.5 1253.7 1354.4 1255.1 1356.3 1256.5 1358.2 1257.8 1360 1259.2 1361.9 1260.6 1363.8 1262 1365.7 1263.4 1367.5 1264.9 1369.4 1266.3 1371.3 1267.7 1373.1 1269.1 1375 1270.5 1376.8 1271.9 1378.7 1273.4 1380.5 1274.8 1382.3 1276.2 1384.2 1277.7 1386 1279.1 1387.8 1280.6 1389.7 1282 1391.5 1283.5 1393.3 1285 1395.1 1286.4 1396.9 1287.9 1398.7 1289.4 1400.5 1290.8 1402.3 1292.3 1404.1 1293.8 1405.9 1295.3 1407.7 1296.8 1409.5 1298.3 1411.2 1299.8 1413 1301.3 1414.8 1302.8 1416.6 1304.3 1418.3 1305.8 1420.1 1307.3 1421.8 1308.8 1423.6 1310.4 1425.3 1311.9 1427.1 1313.4 1428.8 1315 1430.6 1316.5 1432.3 1318 1434 1319.6 1435.8 1321.1 1437.5 1322.7 1439.2 1324.3 1440.9 1325.8 1442.6 1327.4 1444.3 1329 1446 1330.5 1447.7 1332.1 1449.4 1333.7 1451.1 1335.3 1452.8 1336.9 1454.5 1338.5 1456.2 1340.1 1457.9 1341.7 1459.5 1343.3 1461.2 1344.9 1462.9 1346.5 1464.5 1348.1 1466.2 1349.7 1467.8 1351.4 1469.5 1353 1471.1 1354.6 1472.8 1356.3 1474.4 1357.9 1476.1 1359.5 1477.7 1361.2 1479.3 1362.8 1480.9 1364.5 1482.6 1366.2 1484.2 1367.8 1485.8 1369.5 1487.4 1371.2 1489 1372.8 1490.6 1374.5 1492.2 1376.2 1493.8 1377.9 1495.4 1379.6 1497 1381.3 1498.5 1383 1498 1384 1494.8 1383.9 1491.7 1383.7 1488.5 1383.6 1485.3 1383.4 1482.2 1383.3 1479 1383.1 1475.8 1382.9 1472.6 1382.7 1469.5 1382.5 1466.3 1382.3 1463.1 1382.1 1460 1381.9 1456.8 1381.6 1453.7 1381.4 1450.5 1381.1 1447.3 1380.8 1444.2 1380.5 1441 1380.2 1437.9 1379.9 1434.7 1379.5 1431.6 1379.2 1428.4 1378.8 1425.3 1378.4 1422.1 1378 1419 1377.5 1415.9 1377.1 1412.7 1376.6 1409.6 1376.1 1406.5 1375.6 1403.3 1375 1400.2 1374.5 1397.1 1373.9 1394 1373.3 1390.9 1372.6 1387.8 1371.9 1384.7 1371.3 1381.6 1370.5 1378.5 1369.8 1375.4 1369 1368 1392 1348 1386 1333.7 1352.4 1330.6 1351.2 1327.5 1349.9 1324.4 1348.6 1321.3 1347.2 1318.3 1345.8 1315.3 1344.3 1312.4 1342.8 1309.4 1341.3 1306.5 1339.7 1303.7 1338 1300.8 1336.3 1298 1334.6 1295.3 1332.8 1292.5 1331 1289.8 1329.1 1287.1 1327.2 1284.5 1325.2 1281.8 1323.3 1279.3 1321.2 1276.7 1319.2 1274.2 1317 1271.7 1314.9 1269.2 1312.7 1266.8 1310.5 1264.4 1308.2 1262.1 1306 1259.8 1303.6 1257.5 1301.3 1255.2 1298.9 1253 1296.4 1250.8 1294 1248.7 1291.5 1246.5 1289 1244.5 1286.4 1242.4 1283.8 1240.4 1281.2 1238.4 1278.6 1236.5 1275.9 1234.6 1273.2 1232.8 1270.5 1230.9 1267.7 1229.1 1265 1227.4 1262.2 1225.7 1259.3 1224 1256.5 1222.4 1253.6 1220.8 1250.7 1219.2 1247.8 1217.7 1244.9 1216.2 1241.9 1214.8 1238.9 1213.3 1235.9 1212 1232.9 1210.7 1229.9 1209.4 1226.8 1208.1 1223.8 1206.9 1220.7 1205.8 1217.6 1204.6 1214.5 1203.5 1211.4 1202.5 1208.2 1201.5 1205.1 1200.5 1201.9 1199.6 1198.7 1198.7 1195.5 1197.9 1192.3 1197.1 1189.1 1196.4 1185.9 1195.7 1182.6 1195 1179.4 1194.4 1176.2 1193.8 1172.9 1193.3 1169.7 1192.8 1166.4 1192.3 1163.1 1191.9 1159.8 1191.6 1156.6 1191.3 1153.3 1191 1150Z"/>
<path d="M1333.7 1352.4 1335.4 1357.3 1337 1362.2 1338.5 1367.2 1340 1372.1 1341.3 1377 1342.6 1382 1343.8 1386.9 1345 1391.8 1346 1396.8 1347.1 1401.7 1348 1406.7 1348.9 1411.7 1349.7 1416.6 1350.4 1421.6 1351.2 1426.6 1351.8 1431.6 1352.4 1436.6 1353 1441.6 1353.5 1446.6 1354 1451.6 1354.4 1456.7 1354.8 1461.7 1355.2 1466.7 1355.5 1471.8 1355.8 1476.9 1356.1 1481.9 1356.4 1487 1356.6 1492.1 1356.8 1497.2 1357 1502.4 1357.2 1507.5 1357.4 1512.6 1357.6 1517.8 1357.8 1523 1358 1528.2 1358.1 1533.4 1358.3 1538.6 1358.4 1543.8 1358.5 1549 1358.5 1554.2 1358.5 1559.4 1358.4 1564.5 1358.3 1569.7 1358 1574.8 1357.7 1579.9 1357.2 1585 1356.7 1590.1 1356 1595.1 1355.1 1600 1354.2 1604.9 1353 1609.8 1351.7 1614.6 1350.3 1619.4 1348.6 1624.1 1346.8 1628.7 1344.7 1633.2 1342.4 1637.6 1340 1641.8 1337.3 1645.9 1334.3 1649.8 1331.2 1653.5 1327.7 1657 1324.1 1660.2 1320.1 1663.2 1315.9 1666 1311.4 1668.4 1306.7 1670.6 1301.7 1672.5 1296.6 1674.2 1291.3 1675.8 1285.9 1677.2 1280.5 1678.6 1275 1680 1269.6 1681.4 1264.3 1682.8 1259.1 1684.4 1254 1686.1 1249.1 1688 1244.5 1690.1 1240.2 1692.6 1236.1 1695.3 1232.5 1698.4 1229.2 1701.9 1226.4 1705.8 1224 1709.9 1222 1714.3 1220.5 1718.9 1219.5 1723.6 1218.9 1728.4 1218.7 1733.2 1219.1 1738 1219.9 1742.6 1221.3 1747.1 1223.1 1751.4 1225.5 1755.5 1228.2 1759.4 1231.4 1763.1 1234.9 1766.6 1238.8 1769.9 1242.9 1773.1 1247.3 1776.1 1251.9 1779 1256.7 1781.6 1261.6 1784.2 1266.7 1786.6 1271.8 1788.9 1276.9 1791 1282 1793.1 1287.1 1795 1292.1 1796.9 1297.1 1798.6 1301.9 1800.2 1306.8 1801.8 1311.6 1803.2 1316.3 1804.6 1321 1805.9 1325.8 1807.1 1330.5 1808.2 1335.2 1809.2 1339.9 1810.1 1344.6 1811 1349.4 1811.8 1354.2 1812.5 1359 1813.2 1363.9 1813.7 1368.8 1814.2 1373.8 1814.7 1378.8 1815 1383.9 1815.3 1388.9 1815.5 1394.1 1815.6 1399.2 1815.6 1404.4 1815.5 1409.5 1815.4 1414.7 1815.1 1419.9 1814.8 1425.1 1814.3 1430.3 1813.8 1435.5 1813.1 1440.7 1812.4 1445.9 1811.5 1451.1 1810.5 1456.3 1809.5 1461.4 1808.3 1466.5 1806.9 1471.6 1805.5 1476.7 1804 1481.7 1802.3 1486.7 1800.5 1491.6 1798.5 1496.5 1796.5 1501.3 1794.3 1505.9 1791.8 1509.9 1789.2 1513.4 1786.2 1516 1782.8 1517.7 1779 1518.2 1774.6 1517.6 1769.9 1516 1764.9 1513.8 1760.2 1511.3 1755.9 1508.5 1751.8 1505.3 1748 1501.8 1744.5 1498.1 1741.2 1494.2 1738.2 1490 1735.3 1485.7 1732.6 1481.2 1730 1476.6 1727.5 1471.9 1725.1 1467.2 1722.8 1462.4 1720.5 1457.6 1718.2 1452.8 1715.9 1448.1 1713.5 1443.4 1711.1 1438.9 1708.6 1434.5 1706 1430.2 1703.2 1426.2 1700.3 1422.3 1697.1 1418.8 1693.8 1415.4 1690.2 1412.4 1686.3 1409.6 1682.3 1407.1 1678 1404.8 1673.5 1402.7 1668.9 1400.8 1664.2 1399 1659.3 1397.4 1654.4 1396 1649.3 1394.7 1644.3 1393.5 1639.2 1392.3 1634.1 1391.3 1629 1390.2 1623.9 1389.3 1618.9 1388.4 1613.8 1387.6 1608.8 1386.7 1603.8 1386 1598.7 1385.3 1593.7 1384.6 1588.7 1383.9 1583.8 1383.3 1578.8 1382.7 1573.8 1382.1 1568.8 1381.5 1563.8 1380.9 1558.8 1380.3 1553.8 1379.7 1548.8 1379.1 1543.8 1378.6 1538.7 1378 1533.7 1377.3 1528.6 1376.7 1523.6 1376.1 1518.5 1375.5 1513.4 1374.8 1508.3 1374.2 1503.2 1373.6 1498.1 1373 1492.9 1372.5 1487.8 1371.9 1482.7 1371.4 1477.6 1370.9 1472.4 1370.5 1467.3 1370.1 1462.2 1369.7 1457.1 1369.4 1451.9 1369.2 1446.8 1369 1441.7 1368.8 1436.6 1368.8 1431.5 1368.8 1426.4 1368.9 1421.4 1369 1416.3 1369.3 1411.2 1369.6 1406.2 1370.1 1401.2 1370.6 1396.2 1371.2 1391.2 1371.9 1386.2 1372.8 1381.3 1373.7 1376.4 1374.8 1371.4Z"/>
<path d="M1072 1224.5 L1030 1202 L1030 1247 Z"/><rect x="626" y="1220.5" width="405" height="8"/><path d="M1354 1233 L1397 1211.5 L1397 1254.5 Z"/><rect x="1396" y="1228.5" width="356" height="9"/><path d="M1454 1501 L1496 1479.5 L1496 1522.5 Z"/><rect x="1495" y="1496.5" width="257" height="9"/><path d="M1453 1684.5 L1494 1663 L1494 1706 Z"/><rect x="1493" y="1680" width="259" height="9"/><rect x="1320" y="873" width="432" height="7"/><path d="M1282 876L1325 842L1325 910Z"/><rect x="453" y="0" width="9" height="3.5"/><rect x="497.5" y="0" width="5.5" height="3"/><rect x="681" y="0" width="6.5" height="2"/><rect x="705" y="0" width="1.6" height="1.5"/><rect x="1028" y="0" width="8" height="2"/><rect x="1050" y="0" width="4" height="2"/><rect x="1068" y="0" width="7" height="3.5"/><rect x="1293.6" y="0" width="8.4" height="3.5"/><rect x="1313" y="0" width="7" height="3"/><rect x="931" y="1595.5" width="9" height="3"/>
</g>
<g><text x="583.24" y="115" textLength="236.5" lengthAdjust="spacingAndGlyphs" style="font-family:'Liberation Sans',sans-serif;font-weight:bold;stroke:#000;stroke-width:3.6px;stroke-linejoin:round;font-size:66px">Figure 1</text><text x="825.89" y="115" textLength="13.61" lengthAdjust="spacingAndGlyphs" style="font-family:'Liberation Serif',serif;stroke:#000;stroke-width:0.9px;font-size:70px">.</text><text x="866.98" y="115" textLength="223.94" lengthAdjust="spacingAndGlyphs" style="font-family:'Liberation Serif',serif;stroke:#000;stroke-width:0.9px;font-style:italic;font-size:72px">Entropy</text><text x="1107.67" y="115" textLength="257.6" lengthAdjust="spacingAndGlyphs" style="font-family:'Liberation Serif',serif;stroke:#000;stroke-width:0.9px;font-style:italic;font-size:72px">hourglass</text><text x="1386.22" y="115" textLength="530.61" lengthAdjust="spacingAndGlyphs" style="font-family:'Liberation Serif',serif;stroke:#000;stroke-width:0.9px;font-style:italic;font-size:72px">(Georgescu-Roegen)</text><text x="1840.93" y="896" textLength="152.34" lengthAdjust="spacingAndGlyphs" style="font-family:'Liberation Serif',serif;stroke:#000;stroke-width:0.9px;font-size:71px">Solar</text><text x="2010.09" y="896" textLength="170.33" lengthAdjust="spacingAndGlyphs" style="font-family:'Liberation Serif',serif;stroke:#000;stroke-width:0.9px;font-size:71px">Stock</text><text x="1843.38" y="986" textLength="20.67" lengthAdjust="spacingAndGlyphs" style="font-family:'Liberation Serif',serif;stroke:#000;stroke-width:0.9px;font-size:71px">(</text><text x="1865.07" y="986" textLength="100.13" lengthAdjust="spacingAndGlyphs" style="font-family:'Liberation Serif',serif;stroke:#000;stroke-width:0.9px;font-style:italic;font-size:71px">low</text><text x="1983.12" y="986" textLength="201.58" lengthAdjust="spacingAndGlyphs" style="font-family:'Liberation Serif',serif;stroke:#000;stroke-width:0.9px;font-style:italic;font-size:71px">entropy</text><text x="2189.24" y="986" textLength="20.79" lengthAdjust="spacingAndGlyphs" style="font-family:'Liberation Serif',serif;stroke:#000;stroke-width:0.9px;font-size:71px">)</text><text x="1843.44" y="1255" textLength="308" lengthAdjust="spacingAndGlyphs" style="font-family:'Liberation Serif',serif;stroke:#000;stroke-width:0.9px;font-size:71px">Terrestrial</text><text x="2171.47" y="1255" textLength="170.95" lengthAdjust="spacingAndGlyphs" style="font-family:'Liberation Serif',serif;stroke:#000;stroke-width:0.9px;font-size:71px">Stock</text><text x="1843.38" y="1346" textLength="20.67" lengthAdjust="spacingAndGlyphs" style="font-family:'Liberation Serif',serif;stroke:#000;stroke-width:0.9px;font-size:71px">(</text><text x="1865.07" y="1346" textLength="100.13" lengthAdjust="spacingAndGlyphs" style="font-family:'Liberation Serif',serif;stroke:#000;stroke-width:0.9px;font-style:italic;font-size:71px">low</text><text x="1983.12" y="1346" textLength="201.58" lengthAdjust="spacingAndGlyphs" style="font-family:'Liberation Serif',serif;stroke:#000;stroke-width:0.9px;font-style:italic;font-size:71px">entropy</text><text x="2189.24" y="1346" textLength="20.79" lengthAdjust="spacingAndGlyphs" style="font-family:'Liberation Serif',serif;stroke:#000;stroke-width:0.9px;font-size:71px">)</text><text x="1843.44" y="1527" textLength="308" lengthAdjust="spacingAndGlyphs" style="font-family:'Liberation Serif',serif;stroke:#000;stroke-width:0.9px;font-size:71px">Terrestrial</text><text x="2176.46" y="1527" textLength="148.94" lengthAdjust="spacingAndGlyphs" style="font-family:'Liberation Serif',serif;stroke:#000;stroke-width:0.9px;font-size:71px">Flow</text><text x="1843" y="1706" textLength="178.59" lengthAdjust="spacingAndGlyphs" style="font-family:'Liberation Serif',serif;stroke:#000;stroke-width:0.9px;font-size:71px">Waste</text><text x="1842.35" y="1796" textLength="20.92" lengthAdjust="spacingAndGlyphs" style="font-family:'Liberation Serif',serif;stroke:#000;stroke-width:0.9px;font-size:71px">(</text><text x="1862.79" y="1796" textLength="114.54" lengthAdjust="spacingAndGlyphs" style="font-family:'Liberation Serif',serif;stroke:#000;stroke-width:0.9px;font-style:italic;font-size:71px">high</text><text x="1994.32" y="1796" textLength="201.58" lengthAdjust="spacingAndGlyphs" style="font-family:'Liberation Serif',serif;stroke:#000;stroke-width:0.9px;font-style:italic;font-size:71px">entropy</text><text x="2201.89" y="1796" textLength="19.05" lengthAdjust="spacingAndGlyphs" style="font-family:'Liberation Serif',serif;stroke:#000;stroke-width:0.9px;font-size:71px">)</text><text x="259.98" y="1236.6" textLength="150.49" lengthAdjust="spacingAndGlyphs" style="font-family:'Liberation Serif',serif;stroke:#000;stroke-width:0.9px;font-size:71px">Solar</text><text x="432.97" y="1236.6" textLength="148.23" lengthAdjust="spacingAndGlyphs" style="font-family:'Liberation Serif',serif;stroke:#000;stroke-width:0.9px;font-size:71px">Flow</text><text x="586.92" y="2047.5" textLength="155.88" lengthAdjust="spacingAndGlyphs" style="font-family:'Liberation Serif',serif;stroke:#000;stroke-width:0.9px;font-size:72px">First,</text><text x="769.4" y="2047.5" textLength="92.98" lengthAdjust="spacingAndGlyphs" style="font-family:'Liberation Serif',serif;stroke:#000;stroke-width:0.9px;font-size:72px">the</text><text x="892.8" y="2047.5" textLength="272.78" lengthAdjust="spacingAndGlyphs" style="font-family:'Liberation Serif',serif;stroke:#000;stroke-width:0.9px;font-size:72px">hourglass</text><text x="1193.78" y="2047.5" textLength="44.08" lengthAdjust="spacingAndGlyphs" style="font-family:'Liberation Serif',serif;stroke:#000;stroke-width:0.9px;font-size:72px">is</text><text x="1263.45" y="2047.5" textLength="69.54" lengthAdjust="spacingAndGlyphs" style="font-family:'Liberation Serif',serif;stroke:#000;stroke-width:0.9px;font-size:72px">an</text><text x="1361.89" y="2047.5" textLength="226.56" lengthAdjust="spacingAndGlyphs" style="font-family:'Liberation Serif',serif;stroke:#000;stroke-width:0.9px;font-size:72px">isolated</text><text x="1616.32" y="2047.5" textLength="225.72" lengthAdjust="spacingAndGlyphs" style="font-family:'Liberation Serif',serif;stroke:#000;stroke-width:0.9px;font-size:72px">system:</text><text x="1870.53" y="2047.5" textLength="69.7" lengthAdjust="spacingAndGlyphs" style="font-family:'Liberation Serif',serif;stroke:#000;stroke-width:0.9px;font-size:72px">no</text><text x="1964.98" y="2047.5" textLength="132.91" lengthAdjust="spacingAndGlyphs" style="font-family:'Liberation Serif',serif;stroke:#000;stroke-width:0.9px;font-size:72px">sand</text><text x="2127.3" y="2047.5" textLength="199.21" lengthAdjust="spacingAndGlyphs" style="font-family:'Liberation Serif',serif;stroke:#000;stroke-width:0.9px;font-size:72px">enters,</text><text x="2352.9" y="2047.5" textLength="71.69" lengthAdjust="spacingAndGlyphs" style="font-family:'Liberation Serif',serif;stroke:#000;stroke-width:0.9px;font-size:72px">no</text><text x="2449.18" y="2047.5" textLength="132.91" lengthAdjust="spacingAndGlyphs" style="font-family:'Liberation Serif',serif;stroke:#000;stroke-width:0.9px;font-size:72px">sand</text><text x="153.62" y="2136" textLength="160.12" lengthAdjust="spacingAndGlyphs" style="font-family:'Liberation Serif',serif;stroke:#000;stroke-width:0.9px;font-size:72px">exits.</text></g>
</svg></body></html>
